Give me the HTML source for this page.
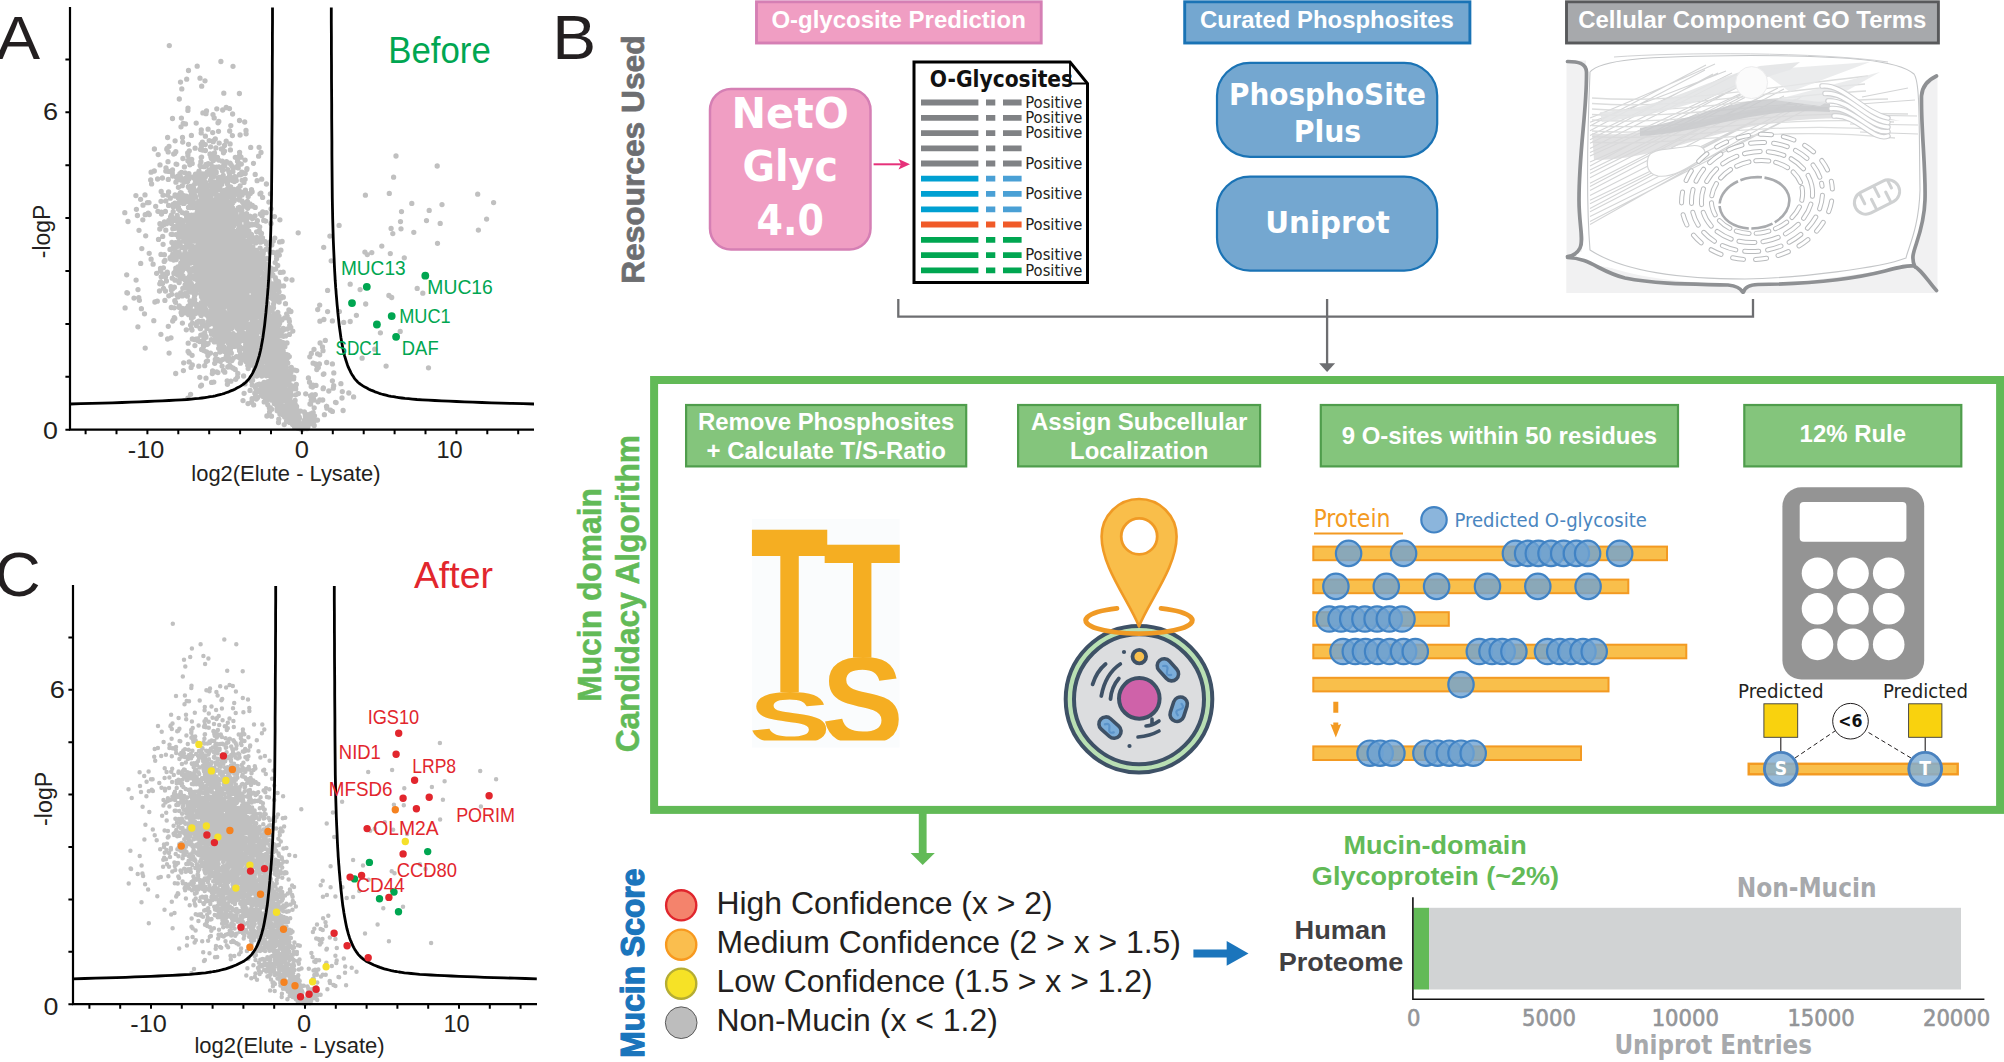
<!DOCTYPE html>
<html><head><meta charset="utf-8"><title>Mucin domain candidacy algorithm</title>
<style>html,body{margin:0;padding:0;background:#fff}svg{display:block;font-family:"Liberation Sans", sans-serif}</style></head>
<body><svg width="2004" height="1062" viewBox="0 0 2004 1062">
<rect width="2004" height="1062" fill="#fff"/>
<g id="panelA">
<clipPath id="cp429"><rect x="70" y="7" width="464" height="425.7"/></clipPath>
<path d="M266.0 249.3h0M209.3 170.5h0M222.4 170.8h0M232.3 322.3h0M200.8 181.1h0M221.6 244.2h0M221.5 249.4h0M175.5 302.3h0M248.3 217.2h0M237.3 267.7h0M205.1 261.5h0M217.1 325.7h0M234.8 253.8h0M214.7 265.1h0M215.2 239.6h0M183.4 294.6h0M236.1 314.0h0M224.8 241.0h0M228.8 288.7h0M181.5 172.3h0M264.9 295.6h0M225.6 220.7h0M211.4 232.1h0M274.9 354.7h0M220.4 361.3h0M183.5 247.3h0M210.9 243.8h0M161.5 214.0h0M249.1 315.1h0M210.6 242.1h0M202.1 297.8h0M249.7 352.8h0M178.2 268.7h0M235.6 249.3h0M167.3 272.1h0M204.2 217.2h0M189.9 164.8h0M260.0 344.1h0M267.9 381.6h0M212.9 320.9h0M243.6 256.9h0M216.8 108.8h0M236.5 235.4h0M201.8 278.7h0M176.7 217.3h0M174.2 307.8h0M231.6 228.2h0M280.6 341.7h0M228.6 271.8h0M207.8 261.5h0M271.8 244.9h0M227.8 255.2h0M224.2 270.9h0M228.2 242.9h0M218.1 197.8h0M213.4 230.1h0M183.9 195.6h0M234.7 282.1h0M219.1 305.2h0M252.9 295.9h0M211.9 269.1h0M171.5 223.6h0M218.9 263.3h0M266.2 212.7h0M211.5 252.5h0M198.2 290.1h0M190.2 216.3h0M194.0 277.7h0M213.7 186.2h0M190.6 240.8h0M260.9 279.7h0M214.1 275.1h0M224.4 263.6h0M259.3 384.2h0M261.0 152.5h0M216.0 189.6h0M230.3 231.9h0M240.9 272.3h0M216.5 224.3h0M174.9 203.2h0M238.8 199.5h0M245.1 214.1h0M232.5 224.9h0M197.3 322.0h0M216.4 217.0h0M206.0 378.2h0M213.7 306.7h0M255.6 269.4h0M261.7 329.2h0M239.1 319.9h0M236.0 213.4h0M239.3 197.9h0M221.2 331.0h0M219.6 212.7h0M203.9 291.4h0M220.1 290.0h0M280.9 250.2h0M244.4 304.8h0M212.6 279.6h0M209.2 315.8h0M198.9 241.1h0M231.4 285.1h0M231.8 281.2h0M183.7 225.7h0M234.3 346.4h0M206.6 298.3h0M259.0 359.4h0M225.7 276.0h0M266.7 351.0h0M209.5 207.3h0M214.0 223.9h0M229.4 312.6h0M249.3 265.9h0M236.4 248.1h0M189.2 246.0h0M226.4 190.3h0M222.1 263.4h0M210.3 274.4h0M204.5 231.7h0M267.5 249.0h0M211.3 339.7h0M199.3 265.4h0M238.3 222.7h0M225.0 231.9h0M219.6 184.4h0M242.1 195.1h0M234.4 181.6h0M231.1 225.5h0M246.9 294.9h0M229.0 298.6h0M205.4 240.8h0M212.0 303.7h0M207.9 277.3h0M227.1 209.3h0M193.2 203.8h0M173.4 246.5h0M223.9 292.3h0M186.5 295.4h0M170.3 171.3h0M231.4 178.1h0M202.9 348.4h0M234.6 251.8h0M207.6 300.6h0M192.1 241.1h0M188.9 179.0h0M208.0 321.7h0M214.4 276.1h0M199.9 322.1h0M214.2 283.6h0M181.2 193.0h0M221.9 254.1h0M174.4 287.2h0M216.5 223.2h0M239.9 277.9h0M250.2 336.4h0M266.6 244.0h0M180.7 219.6h0M241.5 278.7h0M253.2 329.4h0M247.3 270.8h0M197.2 212.4h0M232.4 293.0h0M270.4 276.1h0M182.2 259.2h0M234.1 283.4h0M250.8 270.0h0M203.3 292.5h0M236.9 328.0h0M193.4 185.6h0M200.2 273.0h0M200.1 237.7h0M226.6 246.9h0M219.2 259.2h0M246.6 335.0h0M196.9 237.1h0M218.1 240.9h0M246.8 222.1h0M236.3 259.6h0M186.8 239.0h0M239.0 228.5h0M209.0 236.8h0M231.7 289.2h0M229.5 334.3h0M253.6 270.0h0M224.6 358.9h0M172.9 288.6h0M185.6 286.8h0M240.8 302.6h0M214.8 259.3h0M251.4 254.3h0M228.7 259.8h0M201.9 250.8h0M250.0 288.2h0M200.4 328.7h0M167.6 339.0h0M275.8 338.5h0M171.4 290.1h0M238.3 241.4h0M246.2 192.9h0M225.4 257.3h0M177.3 251.8h0M248.2 349.4h0M183.7 362.8h0M186.3 256.8h0M212.1 323.7h0M242.3 332.1h0M229.4 277.0h0M242.9 318.7h0M209.9 274.8h0M217.0 338.4h0M191.7 199.4h0M213.2 156.2h0M237.1 278.4h0M213.7 305.9h0M234.0 324.2h0M206.5 227.8h0M206.0 282.1h0M222.6 233.3h0M216.4 295.0h0M237.1 239.5h0M226.2 217.9h0M267.3 347.4h0M215.8 203.8h0M215.6 194.3h0M194.2 290.0h0M222.2 267.1h0M239.5 174.5h0M202.1 313.9h0M220.3 207.6h0M240.4 254.5h0M218.2 253.7h0M207.9 355.5h0M247.1 278.5h0M224.1 311.1h0M232.0 261.4h0M252.3 311.4h0M251.6 224.2h0M212.4 256.1h0M207.8 226.9h0M229.0 222.5h0M218.1 275.5h0M171.7 294.3h0M255.1 312.2h0M222.1 247.5h0M240.9 313.5h0M190.8 197.4h0M255.4 304.4h0M206.1 281.2h0M218.7 255.1h0M184.8 231.2h0M217.2 265.4h0M215.5 233.1h0M216.7 248.3h0M233.1 308.0h0M223.1 179.8h0M247.2 343.0h0M209.3 279.3h0M195.4 259.3h0M221.1 217.6h0M238.1 254.4h0M254.3 261.0h0M242.9 312.0h0M175.2 273.4h0M231.5 327.7h0M259.9 295.3h0M223.2 175.3h0M208.0 211.6h0M229.7 249.7h0M208.3 271.1h0M238.3 207.9h0M221.2 251.0h0M258.1 292.8h0M234.7 243.2h0M202.5 241.0h0M237.4 377.1h0M246.1 276.4h0M206.6 352.0h0M210.4 266.4h0M161.0 201.3h0M245.3 305.7h0M206.1 233.2h0M165.8 230.2h0M175.1 140.8h0M215.7 274.7h0M241.5 248.4h0M219.2 317.4h0M234.0 273.0h0M192.6 227.4h0M186.3 196.2h0M244.8 276.4h0M234.5 251.3h0M220.8 225.2h0M255.2 371.8h0M196.6 238.8h0M210.5 300.1h0M248.5 351.0h0M269.8 322.6h0M221.8 292.2h0M265.7 322.2h0M205.7 300.9h0M230.2 294.5h0M217.0 282.5h0M179.8 245.1h0M228.3 242.1h0M246.1 257.8h0M217.7 228.9h0M219.7 267.4h0M258.1 351.4h0M188.7 201.2h0M182.2 212.6h0M204.4 207.0h0M190.1 239.3h0M256.9 337.4h0M229.7 249.2h0M198.9 262.3h0M205.4 150.5h0M296.7 370.6h0M205.5 275.2h0M201.5 221.0h0M229.6 194.4h0M238.3 293.6h0M227.4 256.9h0M197.7 338.8h0M191.1 217.6h0M237.2 261.8h0M220.1 241.0h0M178.4 242.1h0M252.3 205.3h0M241.9 340.6h0M215.2 288.3h0M214.7 244.2h0M227.6 246.6h0M203.5 275.9h0M186.1 259.5h0M230.0 245.8h0M183.8 231.8h0M231.8 282.9h0M183.7 220.9h0M219.0 242.5h0M218.0 237.9h0M268.4 285.3h0M193.6 188.4h0M184.4 199.4h0M204.6 268.4h0M192.0 285.1h0M206.1 247.0h0M232.6 114.0h0M241.8 210.3h0M265.1 316.3h0M202.2 334.7h0M290.9 390.9h0M273.6 299.5h0M216.2 240.0h0M161.4 212.2h0M219.4 344.9h0M223.5 271.8h0M161.2 191.5h0M223.5 309.4h0M216.3 299.2h0M200.9 161.7h0M238.0 243.1h0M248.0 328.9h0M208.8 299.5h0M227.6 210.0h0M204.4 248.6h0M200.9 294.1h0M223.6 278.1h0M235.3 223.7h0M206.8 242.3h0M163.4 267.8h0M236.9 294.9h0M179.6 197.2h0M224.8 372.2h0M268.3 311.6h0M221.1 195.4h0M190.3 228.6h0M183.2 123.5h0M252.3 253.9h0M221.1 256.6h0M235.7 379.3h0M245.9 286.8h0M220.3 278.1h0M213.5 295.0h0M196.7 257.4h0M140.6 199.3h0M181.7 311.6h0M219.7 286.0h0M217.0 335.9h0M232.2 319.8h0M218.2 218.1h0M225.7 242.8h0M242.3 257.1h0M198.3 230.6h0M214.0 279.4h0M179.3 231.1h0M247.1 245.4h0M222.6 335.5h0M234.4 337.4h0M262.1 295.6h0M249.9 237.1h0M220.0 232.9h0M242.2 243.0h0M184.0 203.4h0M233.0 226.8h0M225.2 275.2h0M179.1 255.5h0M256.7 310.0h0M203.1 210.7h0M239.5 288.2h0M210.5 353.1h0M247.7 291.6h0M256.0 270.9h0M199.8 377.3h0M181.4 257.4h0M218.1 231.8h0M243.9 321.4h0M211.8 224.7h0M205.4 235.8h0M234.4 320.8h0M149.0 202.6h0M204.1 188.3h0M185.2 280.1h0M229.3 309.1h0M202.2 191.9h0M192.3 230.1h0M212.3 312.2h0M183.0 255.0h0M221.2 304.4h0M203.6 245.3h0M211.6 228.3h0M202.7 226.7h0M245.5 264.9h0M218.7 268.9h0M235.3 157.3h0M234.2 189.3h0M200.4 250.2h0M236.5 306.3h0M230.7 239.3h0M229.8 267.1h0M211.1 210.0h0M210.3 196.9h0M242.2 284.3h0M278.9 316.9h0M199.8 227.8h0M235.6 216.4h0M211.9 259.9h0M242.2 272.6h0M233.1 257.8h0M249.4 276.3h0M148.2 213.2h0M205.8 280.4h0M195.6 268.8h0M218.7 348.3h0M202.5 323.5h0M204.7 249.2h0M239.5 222.0h0M271.5 337.4h0M147.4 202.7h0M213.4 333.4h0M229.8 203.8h0M221.7 242.2h0M212.5 333.5h0M186.0 242.5h0M196.8 285.6h0M240.6 307.4h0M249.8 260.8h0M224.1 305.4h0M199.6 211.7h0M224.1 247.7h0M215.3 359.5h0M235.9 261.5h0M224.7 281.3h0M205.2 206.0h0M226.6 331.0h0M190.6 205.2h0M243.1 244.2h0M252.6 258.6h0M190.6 204.0h0M232.6 207.9h0M195.5 233.2h0M249.7 260.3h0M245.3 271.8h0M215.5 214.8h0M247.7 241.2h0M210.2 239.1h0M204.7 249.5h0M206.6 212.0h0M217.9 254.9h0M213.1 244.0h0M225.6 315.7h0M205.4 283.4h0M241.6 298.7h0M248.4 329.0h0M208.5 225.0h0M184.1 310.7h0M240.6 281.4h0M251.5 261.2h0M217.3 277.5h0M187.8 196.8h0M228.6 350.4h0M261.6 304.7h0M172.3 172.9h0M234.1 220.6h0M213.3 232.8h0M199.1 223.3h0M234.6 290.8h0M187.4 287.9h0M229.4 316.0h0M256.1 313.1h0M226.2 223.0h0M198.5 304.8h0M174.8 300.7h0M187.9 160.7h0M173.2 211.6h0M263.6 279.9h0M215.0 222.5h0M194.1 298.7h0M187.5 265.5h0M193.5 246.8h0M212.7 202.8h0M187.9 155.6h0M265.6 259.1h0M201.9 213.1h0M201.0 209.6h0M229.6 175.7h0M259.7 226.8h0M256.3 267.9h0M208.7 268.2h0M228.3 240.2h0M225.5 250.4h0M235.5 263.7h0M228.3 258.9h0M196.8 307.1h0M188.5 207.4h0M226.2 271.0h0M190.5 186.5h0M257.4 343.2h0M222.6 296.2h0M194.6 295.5h0M213.1 258.3h0M208.2 244.9h0M218.1 202.6h0M246.4 291.6h0M183.6 309.8h0M172.5 118.5h0M230.4 349.6h0M216.9 221.0h0M225.8 285.4h0M233.2 231.8h0M216.8 248.4h0M242.6 314.3h0M198.1 237.4h0M223.3 348.4h0M199.7 247.9h0M191.9 276.9h0M237.7 243.5h0M236.5 247.2h0M170.6 216.9h0M192.1 269.3h0M229.2 345.5h0M249.7 280.3h0M204.1 194.8h0M216.7 229.6h0M184.4 182.0h0M287.5 358.0h0M234.0 267.4h0M245.1 230.7h0M238.8 254.9h0M246.1 323.2h0M237.5 292.7h0M212.8 229.1h0M241.1 310.3h0M223.6 279.9h0M255.6 262.3h0M202.2 257.1h0M207.3 344.3h0M238.9 224.5h0M255.2 334.7h0M225.4 254.4h0M202.8 281.3h0M218.4 277.2h0M208.5 265.5h0M271.4 298.0h0M245.2 274.8h0M254.8 318.0h0M229.5 287.1h0M207.0 189.0h0M252.4 304.8h0M265.0 356.8h0M236.8 314.4h0M220.9 268.7h0M250.0 204.0h0M211.8 283.7h0M241.6 306.2h0M202.9 323.5h0M196.1 204.7h0M236.4 258.2h0M230.4 241.8h0M271.6 293.8h0M214.2 181.8h0M222.2 238.8h0M191.6 224.3h0M172.5 218.5h0M174.8 318.5h0M233.7 239.8h0M190.7 223.0h0M251.2 335.7h0M258.9 265.0h0M214.1 315.6h0M265.1 317.5h0M227.5 235.3h0M251.1 250.9h0M215.6 261.1h0M246.8 267.6h0M196.8 249.1h0M237.9 244.8h0M209.5 281.7h0M218.1 227.5h0M238.2 249.3h0M226.1 252.6h0M219.6 203.9h0M240.7 257.4h0M242.7 263.5h0M185.2 178.4h0M236.2 192.8h0M239.2 331.8h0M201.8 235.1h0M231.7 257.8h0M186.8 212.9h0M259.4 361.7h0M215.3 244.8h0M219.5 181.5h0M253.0 306.0h0M217.8 214.4h0M237.3 290.3h0M194.1 237.0h0M206.6 315.1h0M185.0 264.1h0M216.1 238.3h0M248.6 347.1h0M227.4 384.3h0M244.8 252.1h0M194.6 300.9h0M198.4 265.1h0M209.3 274.6h0M236.6 216.4h0M230.9 223.2h0M221.2 330.3h0M237.9 276.7h0M217.6 233.2h0M221.0 347.8h0M255.8 344.8h0M206.2 288.5h0M226.4 220.3h0M263.9 293.4h0M224.2 334.9h0M240.1 186.0h0M205.6 182.4h0M272.9 274.8h0M162.5 283.4h0M191.8 254.9h0M193.9 268.9h0M264.1 304.3h0M230.8 269.5h0M214.7 317.3h0M187.9 398.1h0M231.1 289.3h0M224.6 327.9h0M203.4 229.8h0M182.4 323.1h0M192.6 248.4h0M227.2 271.6h0M229.7 244.4h0M223.5 227.7h0M217.6 233.2h0M175.1 194.8h0M222.8 204.9h0M194.4 339.6h0M222.7 283.1h0M233.8 318.2h0M203.8 276.2h0M194.7 184.1h0M247.7 279.3h0M230.8 227.2h0M204.8 215.3h0M142.8 219.8h0M220.3 266.8h0M238.1 274.7h0M251.0 287.4h0M203.8 236.4h0M204.7 250.9h0M209.9 318.1h0M243.6 376.0h0M190.7 302.9h0M218.6 247.3h0M197.2 267.0h0M228.6 313.8h0M180.7 292.9h0M231.4 328.5h0M208.5 317.0h0M215.7 277.1h0M235.4 255.9h0M251.6 216.8h0M177.0 294.9h0M247.9 310.1h0M236.2 232.3h0M213.8 254.6h0M258.4 271.5h0M226.5 242.9h0M255.5 367.4h0M206.0 234.3h0M198.8 366.2h0M253.7 277.3h0M278.4 287.9h0M238.2 276.5h0M245.0 383.9h0M209.1 244.5h0M186.8 268.4h0M215.6 158.3h0M261.0 320.7h0M172.7 176.0h0M208.6 245.5h0M171.3 307.5h0M224.4 249.0h0M244.5 312.0h0M188.9 231.5h0M210.8 237.5h0M256.4 299.9h0M219.2 314.2h0M189.0 246.4h0M187.0 239.3h0M168.6 192.0h0M241.9 200.9h0M202.0 254.1h0M249.2 270.6h0M244.3 288.3h0M204.2 304.1h0M207.7 294.3h0M242.0 235.2h0M225.5 274.0h0M228.6 277.2h0M178.3 226.0h0M245.1 179.3h0M198.6 211.2h0M162.0 226.1h0M205.4 289.4h0M232.6 251.6h0M276.6 255.8h0M211.8 323.6h0M186.6 237.9h0M277.3 295.4h0M225.8 288.4h0M214.7 290.5h0M193.3 238.9h0M195.2 218.3h0M260.4 265.6h0M214.5 295.6h0M207.4 243.2h0M208.2 276.3h0M262.7 211.8h0M206.1 227.3h0M238.1 252.1h0M228.6 241.5h0M227.8 178.1h0M198.5 225.4h0M238.9 347.8h0M263.8 308.1h0M220.2 233.6h0M197.4 213.2h0M187.6 181.5h0M226.6 271.8h0M214.4 219.2h0M218.8 238.2h0M221.9 304.1h0M182.8 288.3h0M242.1 303.4h0M227.7 190.0h0M219.6 231.4h0M227.6 322.0h0M245.9 224.2h0M223.0 323.0h0M199.2 243.1h0M252.2 328.1h0M210.2 232.2h0M202.5 196.2h0M180.5 192.6h0M221.8 332.1h0M194.0 228.0h0M207.9 196.4h0M233.4 307.0h0M222.4 191.1h0M248.3 269.0h0M229.6 279.2h0M211.0 265.6h0M212.9 273.7h0M208.2 244.7h0M238.5 163.0h0M222.1 269.2h0M210.8 247.9h0M243.8 263.5h0M224.1 283.7h0M209.3 290.3h0M181.8 247.4h0M233.1 340.3h0M227.8 367.0h0M222.9 271.9h0M210.2 234.7h0M199.7 188.9h0M215.6 283.4h0M227.6 184.3h0M218.2 340.8h0M217.8 305.7h0M209.3 226.7h0M230.5 297.8h0M227.7 223.0h0M201.8 198.2h0M241.5 309.9h0M242.3 227.7h0M242.9 283.7h0M218.1 248.4h0M216.5 334.2h0M191.1 256.9h0M241.4 349.0h0M165.5 277.0h0M211.3 217.4h0M212.6 201.1h0M244.0 182.4h0M221.5 257.2h0M196.2 123.1h0M184.1 201.9h0M202.4 142.1h0M224.4 231.2h0M223.0 294.2h0M216.4 215.4h0M203.6 222.2h0M216.0 233.0h0M247.8 288.6h0M192.7 177.2h0M222.4 261.3h0M264.1 287.6h0M236.1 221.6h0M209.6 206.8h0M238.9 329.7h0M201.8 283.4h0M221.7 278.1h0M262.4 255.1h0M271.3 287.7h0M176.7 177.7h0M239.9 193.3h0M272.7 284.7h0M207.2 221.6h0M228.4 206.6h0M261.1 237.1h0M208.6 267.1h0M233.4 243.3h0M220.0 186.8h0M171.0 337.8h0M230.7 186.9h0M216.7 262.8h0M245.9 230.3h0M276.5 341.9h0M239.5 270.1h0M211.9 303.2h0M233.4 259.6h0M226.9 226.2h0M248.4 346.6h0M183.8 233.3h0M190.9 230.0h0M167.8 223.0h0M237.5 235.0h0M221.1 272.8h0M204.7 332.9h0M202.5 323.0h0M206.5 261.8h0M197.2 276.2h0M213.1 289.6h0M208.6 220.4h0M258.1 356.3h0M230.1 272.9h0M200.1 165.4h0M206.2 279.0h0M253.1 240.7h0M233.4 277.9h0M229.3 295.2h0M240.5 254.8h0M263.2 303.5h0M189.6 310.1h0M202.0 185.1h0M175.8 151.7h0M234.6 258.1h0M211.6 238.6h0M203.9 350.6h0M201.5 296.7h0M239.7 294.3h0M217.8 248.0h0M207.6 163.9h0M254.5 224.5h0M194.1 226.0h0M188.4 246.3h0M289.7 325.5h0M211.9 253.5h0M207.3 283.2h0M202.5 213.4h0M218.0 233.9h0M242.1 227.7h0M241.3 329.6h0M235.8 177.5h0M214.2 281.2h0M182.4 275.4h0M229.0 172.1h0M261.5 267.1h0M249.6 329.5h0M217.1 212.8h0M242.6 244.3h0M211.4 245.9h0M220.1 321.3h0M189.1 269.7h0M213.3 219.7h0M225.3 197.3h0M217.1 186.6h0M241.8 284.3h0M271.0 208.8h0M256.3 256.7h0M213.6 279.6h0M202.4 191.4h0M204.4 229.9h0M195.9 234.7h0M222.5 293.0h0M232.6 203.1h0M226.4 258.9h0M226.6 253.8h0M225.7 259.9h0M218.1 183.8h0M202.1 268.7h0M266.9 258.3h0M249.1 268.6h0M197.7 204.0h0M197.8 340.4h0M206.2 246.7h0M222.4 359.6h0M254.6 252.8h0M248.2 261.2h0M249.6 347.1h0M250.1 259.3h0M250.6 297.2h0M240.9 325.7h0M233.5 245.5h0M218.4 222.8h0M175.8 220.4h0M218.2 304.5h0M268.9 316.9h0M207.4 313.2h0M205.1 233.0h0M248.3 253.2h0M223.7 206.8h0M209.0 233.5h0M262.5 263.5h0M238.0 259.5h0M241.5 227.7h0M206.7 214.7h0M234.6 249.0h0M231.4 310.1h0M242.0 253.7h0M251.7 252.4h0M251.1 327.6h0M226.0 325.8h0M239.7 253.4h0M191.5 226.8h0M238.5 188.2h0M239.5 199.9h0M211.3 245.5h0M201.2 315.4h0M220.0 346.1h0M189.7 280.8h0M230.5 238.9h0M229.3 285.0h0M196.6 177.6h0M222.8 250.9h0M249.6 224.9h0M249.5 274.5h0M248.1 344.6h0M217.6 359.4h0M212.7 258.9h0M211.3 268.2h0M237.1 194.0h0M283.3 297.2h0M258.5 356.7h0M263.2 345.6h0M257.0 323.9h0M179.2 256.3h0M216.3 335.4h0M210.2 236.4h0M254.4 271.3h0M265.9 401.8h0M204.1 207.6h0M222.6 277.6h0M236.2 247.8h0M208.7 324.8h0M205.1 233.4h0M203.8 229.3h0M244.8 257.4h0M197.7 283.9h0M251.4 234.3h0M223.8 192.2h0M241.3 262.5h0M262.1 273.2h0M204.0 272.4h0M200.1 227.4h0M232.8 235.6h0M194.5 254.1h0M202.4 265.6h0M218.6 305.7h0M225.7 259.1h0M188.9 159.4h0M211.5 246.0h0M236.9 264.4h0M256.8 277.8h0M170.1 257.7h0M255.8 269.1h0M244.7 327.4h0M193.1 226.5h0M183.0 309.2h0M232.5 214.0h0M210.6 146.8h0M225.1 215.3h0M244.1 393.3h0M211.8 237.3h0M225.8 251.9h0M234.0 275.8h0M244.8 252.9h0M267.7 307.8h0M266.1 298.3h0M227.9 360.4h0M215.4 313.9h0M283.6 336.1h0M238.3 302.3h0M232.7 293.6h0M192.8 193.3h0M241.9 326.5h0M201.3 216.6h0M209.6 290.1h0M186.7 243.8h0M208.0 295.6h0M223.2 329.8h0M182.4 266.9h0M198.2 221.8h0M219.5 240.4h0M188.6 268.4h0M188.8 220.4h0M199.8 226.9h0M184.8 231.3h0M237.6 250.9h0M195.6 269.3h0M241.7 250.2h0M245.7 276.6h0M190.2 207.6h0M222.6 181.8h0M209.0 290.6h0M191.8 292.2h0M212.8 228.8h0M215.3 294.3h0M240.2 284.0h0M248.4 226.1h0M192.8 303.5h0M210.9 163.9h0M235.4 262.2h0M252.4 315.8h0M157.6 179.0h0M255.0 359.2h0M217.2 227.8h0M261.7 350.1h0M210.5 241.1h0M199.8 280.7h0M222.7 254.1h0M252.2 385.1h0M222.4 278.1h0M159.8 283.8h0M239.5 306.4h0M179.4 245.6h0M195.9 231.8h0M191.1 262.7h0M173.4 287.5h0M188.7 289.1h0M195.7 272.7h0M205.5 242.2h0M220.2 294.2h0M212.8 209.9h0M182.7 236.8h0M216.8 167.1h0M247.1 247.3h0M246.5 268.8h0M225.1 199.6h0M237.8 220.1h0M245.0 323.4h0M257.3 312.5h0M266.1 350.0h0M213.1 315.6h0M214.4 288.9h0M260.2 330.6h0M262.6 308.2h0M262.0 354.7h0M160.0 164.9h0M215.8 247.7h0M136.1 280.1h0M240.7 316.5h0M223.0 263.4h0M222.9 245.6h0M217.9 302.0h0M255.8 278.5h0M213.9 206.5h0M248.7 338.3h0M236.1 252.5h0M230.9 275.0h0M233.7 197.9h0M224.5 151.1h0M192.8 268.7h0M240.4 354.7h0M240.3 174.8h0M217.8 234.6h0M240.8 302.0h0M245.2 286.0h0M187.9 245.1h0M217.8 255.1h0M209.9 211.0h0M197.8 305.5h0M230.0 315.4h0M199.4 267.0h0M210.2 154.0h0M228.0 348.4h0M230.7 262.2h0M230.0 292.7h0M280.2 394.8h0M208.3 321.1h0M228.1 259.0h0M189.9 300.8h0M234.2 299.4h0M251.9 257.4h0M253.4 290.5h0M204.9 174.0h0M214.2 187.5h0M254.7 295.0h0M219.1 331.7h0M246.7 235.9h0M196.0 310.3h0M257.9 296.2h0M248.5 365.7h0M233.7 251.9h0M200.6 386.1h0M217.4 281.5h0M225.5 251.5h0M228.5 277.6h0M218.8 179.3h0M215.8 275.1h0M226.6 248.8h0M258.2 315.0h0M168.8 220.3h0M185.5 123.9h0M181.0 126.8h0M203.5 220.9h0M175.9 182.2h0M236.1 315.2h0M224.1 214.3h0M214.9 279.1h0M203.7 241.5h0M225.7 341.1h0M226.2 266.4h0M230.2 274.9h0M202.4 204.5h0M238.6 290.2h0M183.0 276.0h0M254.4 278.7h0M140.7 263.4h0M206.0 205.0h0M190.0 232.4h0M242.3 294.6h0M182.6 225.2h0M269.4 359.9h0M181.0 273.6h0M274.8 285.0h0M233.3 226.4h0M222.4 258.1h0M233.0 234.9h0M279.1 302.0h0M245.0 227.5h0M162.9 274.0h0M252.9 291.3h0M227.6 278.4h0M179.1 282.5h0M241.5 174.3h0M189.8 243.8h0M226.3 250.8h0M227.7 298.8h0M204.5 276.6h0M238.6 297.9h0M194.7 314.0h0M226.6 181.5h0M207.2 204.6h0M216.8 320.0h0M272.1 371.2h0M224.5 225.4h0M193.0 304.2h0M218.5 303.5h0M201.4 188.6h0M222.3 232.9h0M225.8 279.2h0M223.8 256.5h0M223.8 351.3h0M207.3 283.3h0M233.4 313.8h0M249.3 251.3h0M205.3 196.7h0M220.0 231.4h0M223.2 333.0h0M254.5 371.0h0M249.9 245.3h0M202.4 241.7h0M223.5 152.8h0M182.3 308.4h0M196.2 190.8h0M222.0 306.4h0M238.1 335.9h0M246.6 220.1h0M213.4 216.2h0M186.0 279.6h0M232.0 335.9h0M217.0 233.0h0M232.7 221.0h0M225.8 279.5h0M240.4 336.4h0M238.8 223.0h0M243.7 240.5h0M209.5 313.5h0M247.7 287.8h0M208.3 215.4h0M223.8 259.4h0M270.4 326.9h0M230.9 318.4h0M190.9 258.3h0M260.7 289.4h0M247.8 206.0h0M251.5 308.9h0M226.7 288.9h0M230.6 274.8h0M215.4 255.2h0M203.2 254.4h0M261.7 339.3h0M211.9 236.4h0M208.9 199.1h0M209.9 299.9h0M270.5 287.3h0M244.6 262.4h0M211.9 275.7h0M220.4 246.2h0M235.0 263.6h0M244.6 227.0h0M179.3 307.6h0M245.3 218.2h0M215.8 324.1h0M203.5 193.6h0M211.3 221.5h0M242.4 254.5h0M267.7 342.0h0M225.4 270.8h0M236.2 247.9h0M200.2 192.7h0M234.5 318.8h0M243.2 274.4h0M182.5 261.1h0M208.1 241.9h0M242.3 250.9h0M175.4 271.7h0M211.7 267.9h0M237.3 327.7h0M177.2 246.6h0M211.1 191.3h0M223.0 299.7h0M244.9 276.9h0M188.0 230.5h0M250.7 147.4h0M229.6 226.2h0M253.0 290.4h0M252.1 254.6h0M230.5 277.1h0M234.3 298.1h0M175.9 234.6h0M186.1 199.5h0M195.2 267.3h0M212.4 272.1h0M246.1 264.9h0M174.7 153.6h0M213.2 199.9h0M186.9 283.6h0M180.6 226.1h0M260.4 213.9h0M224.1 251.2h0M264.5 296.3h0M252.7 314.4h0M197.4 268.1h0M172.8 254.7h0M275.9 279.9h0M210.9 179.5h0M191.5 215.2h0M239.7 339.8h0M225.1 194.9h0M203.9 295.7h0M212.5 187.7h0M225.8 204.2h0M223.5 263.4h0M241.4 236.2h0M212.3 241.0h0M212.5 202.4h0M237.3 274.1h0M229.8 307.3h0M250.3 216.5h0M215.0 282.1h0M219.0 275.1h0M191.2 283.5h0M260.9 193.1h0M185.0 286.7h0M226.9 210.7h0M198.1 233.1h0M230.4 243.3h0M241.1 227.0h0M178.5 198.2h0M216.0 222.0h0M175.4 242.7h0M258.4 323.0h0M209.9 236.9h0M180.2 278.3h0M203.1 253.6h0M256.0 340.7h0M260.6 233.0h0M254.9 289.2h0M201.0 242.9h0M217.6 260.4h0M264.5 310.5h0M202.3 288.8h0M212.8 258.2h0M196.5 270.5h0M191.0 227.9h0M253.2 274.1h0M238.1 240.8h0M233.4 319.8h0M236.8 307.3h0M248.4 340.3h0M261.2 269.6h0M221.4 248.3h0M212.6 370.8h0M194.7 299.4h0M250.0 216.3h0M208.0 287.7h0M182.3 254.8h0M214.5 237.4h0M222.2 244.6h0M243.4 235.8h0M247.9 253.3h0M202.4 212.6h0M200.5 194.8h0M212.9 234.6h0M189.7 201.9h0M218.7 292.2h0M233.7 317.8h0M222.7 250.0h0M179.2 220.5h0M190.3 274.0h0M255.3 277.3h0M194.9 345.6h0M241.0 157.2h0M238.2 167.9h0M213.1 204.2h0M195.4 267.5h0M227.1 300.6h0M198.3 223.3h0M216.9 253.8h0M224.3 245.5h0M202.7 271.9h0M215.6 354.5h0M213.5 154.5h0M189.1 353.0h0M216.6 309.4h0M204.8 233.8h0M173.6 260.1h0M212.7 250.1h0M214.1 277.7h0M205.7 273.2h0M167.4 273.5h0M241.9 228.6h0M239.5 301.1h0M238.6 240.6h0M230.1 249.5h0M188.5 282.8h0M224.8 240.0h0M197.2 259.9h0M279.0 331.7h0M207.9 254.2h0M239.1 217.3h0M180.8 263.2h0M190.6 250.6h0M207.5 360.8h0M240.0 225.8h0M235.9 321.9h0M229.1 244.1h0M172.9 220.8h0M251.3 362.4h0M197.2 238.4h0M264.0 333.7h0M270.6 308.7h0M243.3 234.7h0M247.5 267.2h0M188.4 221.7h0M289.4 334.4h0M227.3 354.8h0M247.8 301.4h0M199.0 171.2h0M219.9 352.0h0M190.4 262.1h0M215.3 302.1h0M222.0 338.9h0M228.3 227.1h0M258.2 304.5h0M234.2 259.9h0M228.0 247.0h0M222.6 245.5h0M274.4 313.9h0M206.4 311.9h0M252.8 322.0h0M170.0 249.4h0M198.5 310.3h0M232.3 166.3h0M217.3 257.4h0M300.5 411.1h0M289.3 356.6h0M181.7 314.6h0M193.4 252.9h0M217.8 328.3h0M267.3 291.3h0M251.4 317.0h0M230.2 269.7h0M184.4 228.9h0M199.4 274.9h0M151.1 259.2h0M181.2 200.1h0M232.8 316.0h0M242.4 262.0h0M187.4 246.6h0M224.5 145.5h0M264.4 293.8h0M226.0 179.7h0M213.6 300.5h0M237.8 236.6h0M235.5 249.2h0M223.8 252.3h0M207.6 193.9h0M210.5 253.7h0M224.1 207.9h0M207.3 241.4h0M256.7 330.2h0M245.2 340.7h0M250.3 351.3h0M275.0 301.2h0M263.2 253.9h0M258.9 314.0h0M231.4 344.7h0M216.6 218.2h0M282.1 380.7h0M204.0 242.7h0M205.4 136.2h0M198.8 249.9h0M227.3 356.3h0M232.7 304.2h0M248.7 333.3h0M215.8 276.9h0M176.1 164.1h0M230.0 163.2h0M247.2 232.3h0M222.5 242.5h0M218.2 213.4h0M236.4 234.2h0M259.3 328.8h0M219.9 333.7h0M184.4 166.9h0M206.8 204.5h0M217.3 251.4h0M174.4 226.7h0M241.9 172.1h0M201.5 385.2h0M235.0 304.9h0M226.7 281.0h0M213.5 171.1h0M264.4 310.2h0M206.9 199.7h0M204.0 276.5h0M229.3 279.2h0M243.7 276.0h0M221.5 281.7h0M195.8 219.6h0M239.8 280.1h0M237.5 166.2h0M276.1 347.2h0M215.8 246.8h0M227.2 380.8h0M206.7 255.6h0M182.5 137.5h0M223.6 339.0h0M243.9 243.1h0M195.0 195.6h0M203.8 246.3h0M190.7 311.6h0M256.8 376.0h0M204.9 232.3h0M236.8 280.1h0M198.9 258.3h0M223.5 231.5h0M205.1 227.3h0M159.9 223.7h0M223.6 256.6h0M235.4 323.3h0M166.8 149.2h0M217.0 281.3h0M210.2 272.1h0M193.2 317.1h0M215.0 237.6h0M170.6 217.6h0M228.1 267.7h0M252.7 258.0h0M188.4 215.3h0M219.8 228.3h0M259.0 260.4h0M224.8 216.0h0M207.9 224.0h0M197.6 211.4h0M226.2 229.3h0M218.1 198.3h0M238.1 318.8h0M181.6 254.6h0M249.8 276.2h0M211.0 205.0h0M238.4 303.0h0M202.6 236.6h0M187.5 235.3h0M206.7 253.7h0M196.5 239.0h0M211.7 304.6h0M238.6 235.4h0M249.9 250.8h0M226.9 268.6h0M207.4 240.6h0M209.7 280.4h0M237.1 316.3h0M251.4 348.8h0M213.1 304.0h0M218.3 243.6h0M201.8 239.6h0M227.0 245.2h0M246.7 335.0h0M145.2 214.7h0M228.3 225.7h0M207.1 205.1h0M160.4 271.0h0M229.8 226.0h0M219.2 143.1h0M231.3 302.0h0M185.7 257.9h0M277.7 350.8h0M224.5 312.2h0M212.5 280.5h0M261.6 311.4h0M238.7 272.3h0M243.4 240.4h0M252.1 191.7h0M167.1 148.3h0M265.4 315.2h0M212.4 296.1h0M229.1 264.5h0M245.8 243.4h0M202.9 282.7h0M229.9 262.2h0M241.6 272.5h0M220.5 242.1h0M234.6 217.2h0M179.4 194.3h0M190.2 263.2h0M191.4 328.6h0M231.3 353.2h0M319.9 321.2h0M228.5 287.1h0M217.7 252.2h0M219.9 265.7h0M247.4 299.3h0M240.3 319.0h0M191.4 194.0h0M248.3 363.8h0M220.9 252.6h0M243.1 232.4h0M169.1 353.1h0M180.7 200.2h0M237.2 267.4h0M174.3 204.4h0M231.8 327.1h0M230.4 149.9h0M225.4 279.3h0M230.9 197.1h0M228.5 343.0h0M233.3 368.2h0M210.9 299.1h0M221.0 225.1h0M298.5 411.1h0M251.4 381.1h0M237.6 283.2h0M231.9 249.5h0M202.5 326.1h0M227.5 205.8h0M215.1 242.3h0M246.4 274.1h0M197.5 252.6h0M159.5 291.0h0M206.8 243.8h0M239.9 224.4h0M286.1 279.1h0M248.5 272.1h0M195.9 270.5h0M215.8 306.9h0M196.6 279.2h0M216.7 196.8h0M198.0 277.1h0M178.4 208.9h0M233.2 333.7h0M226.7 248.8h0M217.1 243.8h0M230.7 240.8h0M275.0 356.7h0M224.6 255.6h0M211.6 382.4h0M244.3 334.9h0M178.4 187.3h0M241.4 270.7h0M201.2 304.1h0M200.1 290.4h0M224.4 293.6h0M265.5 309.6h0M202.0 182.2h0M246.6 213.6h0M231.5 308.5h0M185.0 213.4h0M245.6 277.2h0M199.9 282.2h0M182.9 158.5h0M200.8 166.6h0M202.5 277.7h0M237.1 244.6h0M202.3 233.3h0M260.8 347.4h0M227.4 251.0h0M202.7 245.6h0M199.6 262.8h0M227.5 188.8h0M168.3 326.3h0M164.4 254.7h0M198.3 222.7h0M238.1 329.0h0M226.3 222.0h0M222.1 229.5h0M215.9 202.6h0M164.4 221.8h0M213.0 221.6h0M174.9 250.3h0M243.5 245.6h0M221.3 272.3h0M219.2 280.6h0M232.0 286.2h0M230.0 283.9h0M227.7 266.4h0M230.7 229.1h0M206.1 164.5h0M186.5 259.7h0M230.5 204.3h0M259.5 306.7h0M248.1 275.3h0M215.9 252.5h0M237.6 269.1h0M210.0 282.6h0M231.7 223.4h0M205.6 266.4h0M225.2 317.5h0M274.2 346.6h0M241.8 329.4h0M260.9 278.9h0M201.2 243.3h0M203.5 344.9h0M220.5 284.7h0M236.2 281.7h0M216.1 308.3h0M248.2 241.0h0M207.1 244.1h0M257.3 309.4h0M247.0 273.8h0M192.3 323.1h0M236.9 291.7h0M215.7 302.1h0M248.3 243.1h0M207.4 249.4h0M229.7 262.0h0M235.9 295.4h0M149.2 253.3h0M172.2 234.4h0M224.9 291.4h0M218.2 360.5h0M248.2 279.2h0M227.5 234.3h0M188.2 306.2h0M230.2 340.1h0M201.8 257.6h0M215.5 306.4h0M208.2 163.6h0M230.7 289.7h0M184.2 231.6h0M192.1 355.3h0M163.1 244.3h0M277.9 389.8h0M195.3 236.7h0M198.9 234.5h0M191.2 220.0h0M204.6 199.4h0M210.0 227.9h0M237.7 327.0h0M226.2 196.7h0M230.2 269.3h0M206.0 309.6h0M219.6 271.5h0M253.5 310.5h0M221.0 277.1h0M229.6 291.9h0M168.2 151.9h0M235.1 344.2h0M228.3 282.6h0M255.4 262.4h0M149.3 214.5h0M222.1 253.3h0M218.2 293.7h0M223.6 210.4h0M204.8 196.3h0M226.8 207.0h0M239.7 318.7h0M222.4 221.1h0M213.4 261.4h0M215.5 207.2h0M210.9 250.1h0M222.1 238.6h0M202.2 217.5h0M168.8 295.8h0M256.6 292.5h0M174.9 196.0h0M217.9 372.6h0M186.7 201.6h0M213.4 205.0h0M195.5 174.2h0M219.7 341.4h0M198.7 258.7h0M186.7 260.5h0M228.9 322.2h0M255.8 293.3h0M229.8 303.7h0M223.6 346.6h0M193.0 259.1h0M218.5 301.6h0M232.4 278.6h0M203.5 258.3h0M244.2 347.9h0M219.5 290.8h0M229.8 280.8h0M207.5 171.7h0M207.7 214.4h0M226.3 234.1h0M230.6 265.4h0M229.6 286.0h0M193.7 254.7h0M201.1 242.1h0M219.8 278.3h0M171.6 256.5h0M247.8 326.0h0M228.6 189.6h0M221.4 314.5h0M201.6 349.5h0M241.8 333.2h0M213.1 237.1h0M270.2 267.9h0M230.6 263.2h0M181.1 312.6h0M239.3 287.4h0M206.4 166.1h0M206.5 110.9h0M213.9 266.9h0M216.8 372.0h0M226.8 195.7h0M240.2 245.8h0M232.1 267.5h0M201.1 265.2h0M184.6 288.2h0M198.9 178.9h0M229.6 269.8h0M242.9 246.1h0M267.4 340.1h0M184.7 261.1h0M222.1 317.7h0M214.0 201.9h0M209.5 204.0h0M223.7 229.2h0M213.5 233.3h0M213.0 222.6h0M203.0 194.2h0M230.4 238.8h0M247.7 208.3h0M262.9 341.4h0M206.2 228.1h0M192.3 188.0h0M213.1 261.6h0M198.1 176.0h0M247.0 294.9h0M198.5 229.7h0M222.0 345.7h0M184.7 267.8h0M210.8 217.8h0M225.0 306.6h0M260.2 294.8h0M201.8 282.1h0M229.7 131.0h0M165.4 211.4h0M188.3 220.7h0M198.6 313.1h0M206.9 202.7h0M231.3 281.6h0M236.5 259.6h0M177.7 176.2h0M233.9 241.0h0M190.6 270.2h0M268.1 290.1h0M228.1 253.5h0M223.9 254.8h0M215.3 257.2h0M219.0 271.7h0M220.0 252.1h0M201.7 182.9h0M239.5 259.8h0M227.0 264.0h0M239.6 350.7h0M218.3 211.8h0M237.7 346.1h0M200.0 221.6h0M313.5 398.6h0M201.2 157.3h0M208.2 236.5h0M245.2 173.5h0M252.3 218.5h0M199.0 224.9h0M176.2 259.6h0M183.2 203.4h0M193.8 253.8h0M199.3 208.6h0M215.5 335.4h0M246.9 249.8h0M248.2 368.6h0M203.8 339.1h0M234.0 225.6h0M243.0 298.2h0M256.7 264.3h0M215.7 328.6h0M200.3 261.3h0M239.5 357.8h0M259.6 279.1h0M206.0 234.4h0M271.0 269.7h0M265.0 299.2h0M212.9 272.7h0M178.6 237.5h0M204.1 261.8h0M210.6 289.7h0M233.8 260.5h0M175.9 206.1h0M283.6 285.9h0M281.3 297.9h0M200.8 230.2h0M170.9 286.7h0M215.3 300.9h0M230.9 231.4h0M255.1 312.8h0M238.5 229.5h0M214.4 296.3h0M168.0 161.7h0M233.1 315.1h0M241.9 262.8h0M211.6 263.2h0M226.9 255.1h0M225.1 214.0h0M213.3 257.9h0M189.3 240.1h0M228.7 301.1h0M182.4 270.8h0M256.5 345.3h0M196.1 273.0h0M232.6 215.6h0M200.5 287.2h0M229.6 211.0h0M214.1 222.0h0M233.6 267.8h0M198.9 209.0h0M176.8 218.1h0M212.2 305.2h0M210.4 224.5h0M180.1 198.0h0M201.5 190.9h0M175.7 373.5h0M222.6 238.6h0M209.8 251.7h0M220.0 258.2h0M288.0 381.8h0M223.8 234.3h0M229.4 224.1h0M236.1 250.7h0M215.9 220.7h0M204.1 186.4h0M242.7 192.5h0M246.6 277.1h0M143.0 205.2h0M215.3 326.5h0M210.7 228.9h0M204.7 232.5h0M252.2 341.4h0M205.5 176.3h0M242.2 312.7h0M205.3 212.9h0M208.8 201.5h0M238.7 288.5h0M200.1 251.8h0M215.3 205.2h0M190.5 254.3h0M196.3 325.5h0M238.5 311.7h0M234.9 272.1h0M189.5 217.0h0M188.4 236.3h0M286.4 354.6h0M202.6 237.2h0M196.6 268.6h0M232.9 315.8h0M199.1 182.0h0M209.9 259.5h0M242.9 298.7h0M245.7 263.4h0M214.3 225.7h0M254.7 356.4h0M215.7 250.0h0M213.2 248.5h0M219.3 233.0h0M211.4 238.6h0M233.3 252.2h0M226.9 256.2h0M199.1 181.3h0M224.2 190.5h0M205.2 221.6h0M204.3 233.1h0M215.8 229.3h0M246.2 311.9h0M226.7 258.7h0M252.8 317.8h0M260.5 300.5h0M218.6 160.1h0M203.6 272.6h0M198.8 321.1h0M226.8 267.9h0M242.2 268.7h0M261.0 241.9h0M185.1 251.4h0M243.7 229.2h0M247.6 202.5h0M283.5 336.3h0M224.4 302.9h0M218.7 243.1h0M179.7 228.8h0M199.1 216.3h0M190.6 325.1h0M193.1 262.5h0M196.0 228.7h0M179.4 223.3h0M217.2 261.2h0M229.8 319.5h0M239.7 246.5h0M217.2 216.8h0M247.4 291.8h0M247.7 270.6h0M179.9 173.6h0M212.6 246.0h0M186.9 225.7h0M194.1 224.8h0M224.6 265.9h0M216.5 266.0h0M258.2 365.2h0M273.6 336.6h0M230.9 306.7h0M214.8 233.6h0M216.0 253.3h0M219.6 227.1h0M234.9 236.3h0M200.6 289.7h0M235.2 369.5h0M213.5 289.0h0M247.7 296.7h0M255.8 310.7h0M265.6 334.3h0M215.9 249.9h0M184.6 235.3h0M175.8 268.1h0M212.4 334.3h0M182.8 241.1h0M176.8 164.3h0M210.8 292.1h0M194.2 252.8h0M238.2 235.0h0M271.0 268.7h0M214.2 117.9h0M228.4 228.5h0M178.8 226.2h0M225.0 285.7h0M201.8 243.4h0M191.4 199.0h0M171.4 215.1h0M262.3 292.5h0M177.9 266.9h0M188.5 255.0h0M220.5 301.1h0M227.9 179.7h0M228.0 271.3h0M223.2 273.0h0M196.9 203.7h0M240.5 280.4h0M225.5 237.5h0M182.3 185.7h0M262.5 237.8h0M211.5 279.9h0M245.4 304.2h0M182.3 295.9h0M189.2 280.8h0M205.4 274.2h0M202.3 201.5h0M247.1 267.5h0M177.9 224.2h0M224.9 358.8h0M193.9 206.0h0M234.1 211.5h0M226.0 218.0h0M206.1 302.5h0M279.0 291.8h0M219.4 295.2h0M249.4 257.0h0M185.8 294.9h0M217.4 190.0h0M223.0 239.6h0M224.3 291.0h0M211.6 241.9h0M198.9 207.4h0M139.4 300.3h0M205.8 189.3h0M196.6 208.3h0M214.0 313.2h0M243.3 356.6h0M279.0 316.5h0M234.8 213.6h0M247.5 223.1h0M237.4 232.2h0M240.0 266.3h0M236.4 335.7h0M214.0 301.5h0M212.4 303.5h0M229.7 242.0h0M268.3 336.0h0M241.6 313.2h0M263.4 335.2h0M187.1 239.3h0M228.1 244.8h0M231.6 322.2h0M234.9 345.7h0M185.1 229.9h0M172.8 253.9h0M165.4 291.0h0M210.8 331.2h0M282.9 392.6h0M227.0 263.2h0M189.5 309.7h0M230.2 213.5h0M213.4 160.5h0M225.8 242.9h0M209.5 270.3h0M187.4 177.0h0M207.4 243.9h0M240.2 280.3h0M229.4 262.1h0M253.6 296.9h0M193.4 303.3h0M249.1 267.6h0M223.2 239.7h0M226.7 290.5h0M254.5 337.1h0M218.3 237.8h0M228.5 332.7h0M238.7 308.6h0M238.9 254.1h0M243.4 271.9h0M256.0 252.7h0M236.0 303.8h0M210.6 257.2h0M286.5 401.9h0M221.4 149.0h0M232.2 214.1h0M202.7 226.2h0M165.0 260.3h0M202.0 232.0h0M224.1 229.7h0M236.4 290.3h0M223.2 241.3h0M243.3 286.1h0M248.5 323.8h0M248.4 327.6h0M222.6 193.3h0M224.7 229.1h0M216.9 279.0h0M199.6 238.6h0M260.0 258.1h0M190.0 274.5h0M220.7 262.2h0M228.5 286.8h0M166.4 281.0h0M242.1 257.0h0M213.4 307.6h0M228.5 272.4h0M213.9 268.2h0M182.3 293.9h0M227.8 195.1h0M225.4 191.7h0M248.8 231.2h0M235.1 312.1h0M178.5 243.8h0M251.6 258.3h0M243.6 230.9h0M242.8 202.6h0M235.4 283.1h0M204.2 247.5h0M236.7 288.6h0M213.1 301.6h0M298.4 393.6h0M216.5 325.2h0M193.6 226.4h0M213.8 331.0h0M260.5 312.0h0M207.7 228.0h0M158.5 239.4h0M261.3 384.5h0M231.3 212.5h0M209.7 226.2h0M241.5 254.6h0M198.5 254.8h0M191.9 245.9h0M247.7 365.3h0M209.2 242.4h0M236.6 302.7h0M223.0 237.9h0M244.6 228.7h0M225.6 254.0h0M168.9 222.6h0M240.6 306.0h0M210.2 319.9h0M245.9 256.9h0M225.7 316.7h0M260.1 248.1h0M214.4 341.9h0M168.7 171.4h0M214.3 232.3h0M236.2 280.4h0M213.7 237.5h0M210.4 204.3h0M261.4 325.4h0M218.7 214.3h0M250.3 327.3h0M226.6 200.2h0M184.7 293.6h0M197.9 288.4h0M214.4 280.6h0M230.7 316.9h0M201.3 237.7h0M185.5 236.6h0M196.0 304.1h0M208.9 206.9h0M199.4 233.9h0M207.3 240.0h0M271.5 294.5h0M229.9 250.9h0M201.1 144.1h0M222.3 256.4h0M264.0 306.5h0M239.6 331.2h0M219.9 296.6h0M186.9 214.2h0M177.9 223.7h0M213.6 213.1h0M219.7 240.4h0M179.9 210.4h0M187.4 296.2h0M221.4 275.9h0M164.2 261.4h0M177.2 219.1h0M221.1 249.5h0M237.2 293.2h0M230.9 229.6h0M248.7 302.7h0M263.9 334.8h0M246.1 250.5h0M215.5 252.6h0M278.5 281.7h0M266.8 370.4h0M247.3 298.2h0M201.3 302.7h0M233.2 255.5h0M167.6 195.1h0M213.9 248.6h0M157.3 301.2h0M211.6 334.2h0M249.6 317.7h0M223.2 257.7h0M265.2 315.3h0M222.7 314.4h0M225.5 217.8h0M214.9 300.3h0M236.8 234.6h0M222.0 272.2h0M254.4 320.5h0M265.3 310.1h0M232.7 270.7h0M193.4 311.1h0M237.7 252.9h0M258.6 274.2h0M240.1 233.3h0M230.7 274.3h0M247.8 316.2h0M257.7 282.9h0M154.4 149.0h0M263.0 315.6h0M243.4 306.5h0M235.7 233.0h0M208.5 241.5h0M229.0 264.9h0M239.1 239.0h0M184.1 254.1h0M242.8 277.9h0M225.0 213.0h0M261.7 179.2h0M240.9 234.0h0M218.5 328.5h0M224.6 321.7h0M240.0 257.9h0M227.0 217.6h0M237.5 340.9h0M204.4 285.7h0M190.3 307.3h0M208.1 343.6h0M185.6 263.6h0M202.7 252.4h0M232.5 234.1h0M180.3 245.4h0M190.8 201.1h0M242.5 326.8h0M209.2 241.9h0M222.9 338.4h0M190.7 227.9h0M195.7 267.9h0M215.2 222.1h0M266.0 339.3h0M234.8 233.1h0M179.2 305.8h0M234.9 295.6h0M247.4 201.4h0M241.3 215.0h0M191.0 255.1h0M221.4 255.5h0M278.9 393.6h0M198.6 209.1h0M231.9 256.2h0M203.4 247.9h0M189.8 254.2h0M211.8 339.8h0M250.2 275.9h0M253.6 217.6h0M200.0 327.8h0M210.7 274.7h0M199.8 184.5h0M168.6 205.4h0M239.1 257.5h0M264.1 301.0h0M262.6 332.4h0M210.9 242.2h0M258.1 266.4h0M251.9 241.6h0M214.4 247.1h0M223.1 263.1h0M213.6 278.5h0M229.6 173.6h0M271.0 268.5h0M199.0 271.6h0M192.0 330.1h0M246.3 322.3h0M224.9 165.3h0M173.7 154.0h0M196.8 275.2h0M201.7 249.5h0M207.4 253.5h0M231.9 360.5h0M249.6 235.5h0M219.2 319.4h0M227.4 267.6h0M203.9 223.8h0M250.3 193.4h0M258.8 240.3h0M216.6 333.1h0M204.1 253.3h0M278.0 352.5h0M247.9 307.5h0M200.1 239.9h0M179.2 282.3h0M215.9 271.7h0M255.1 276.7h0M209.3 237.8h0M217.2 225.3h0M210.7 267.2h0M240.8 263.7h0M260.3 344.0h0M190.6 229.1h0M216.1 217.1h0M218.5 178.5h0M207.4 290.5h0M192.3 365.0h0M245.3 273.6h0M227.8 169.6h0M242.7 320.7h0M263.6 266.8h0M214.2 290.7h0M238.0 288.5h0M213.2 291.2h0M221.5 264.5h0M232.6 254.0h0M219.5 312.8h0M184.1 227.1h0M263.5 349.9h0M227.8 237.3h0M193.7 251.5h0M165.8 200.9h0M223.2 307.8h0M241.0 243.8h0M250.4 246.1h0M253.3 330.0h0M213.9 271.6h0M240.8 267.7h0M183.3 197.4h0M227.9 259.8h0M248.0 297.9h0M207.8 285.5h0M219.7 227.3h0M226.7 287.5h0M227.5 182.7h0M263.1 295.8h0M195.5 206.0h0M259.1 324.0h0M191.1 224.0h0M206.3 361.6h0M203.5 255.9h0M221.6 274.7h0M210.9 156.9h0M236.6 210.5h0M224.2 312.0h0M281.8 296.6h0M234.1 322.6h0M217.3 225.3h0M233.7 297.1h0M239.6 236.7h0M218.9 278.5h0M194.6 278.8h0M202.7 294.4h0M228.6 231.2h0M245.8 221.3h0M236.6 296.2h0M221.6 269.0h0M238.8 303.7h0M211.0 200.8h0M230.7 302.0h0M261.3 283.2h0M253.3 237.7h0M259.6 269.8h0M214.2 301.3h0M229.3 270.9h0M197.4 252.1h0M248.0 281.0h0M212.7 236.1h0M189.2 305.6h0M210.8 252.5h0M230.5 203.3h0M165.8 171.1h0M186.6 216.7h0M249.8 263.0h0M226.4 299.0h0M222.6 149.2h0M181.5 278.7h0M265.5 351.7h0M250.8 260.1h0M242.3 335.4h0M194.6 215.0h0M239.0 262.8h0M253.8 262.3h0M215.2 336.1h0M217.2 315.6h0M211.3 309.8h0M239.5 222.9h0M217.6 260.7h0M215.4 206.6h0M185.6 248.1h0M180.1 267.9h0M248.4 345.9h0M265.1 289.6h0M246.5 288.2h0M261.0 284.8h0M209.5 206.2h0M222.4 343.1h0M233.5 286.5h0M219.3 331.7h0M267.6 340.2h0M188.8 187.5h0M208.6 224.6h0M214.5 291.0h0M205.1 295.0h0M245.8 311.6h0M171.2 234.3h0M253.5 326.9h0M247.4 236.0h0M232.0 254.5h0M260.3 242.2h0M285.4 373.3h0M228.5 282.7h0M242.9 310.2h0M234.1 255.3h0M237.5 161.3h0M210.5 218.2h0M204.9 257.1h0M239.9 273.4h0M210.2 300.9h0M248.4 334.9h0M244.9 251.2h0M212.3 295.0h0M233.6 192.7h0M226.1 296.6h0M220.5 167.5h0M253.8 309.1h0M225.2 163.2h0M230.3 290.1h0M173.2 320.1h0M239.8 263.4h0M186.4 278.6h0M214.0 313.0h0M266.4 184.0h0M271.0 223.5h0M214.0 254.3h0M191.2 195.4h0M234.7 249.4h0M213.8 382.1h0M233.1 358.5h0M188.9 277.1h0M253.6 254.7h0M264.9 323.8h0M186.3 260.4h0M204.0 241.9h0M206.0 337.3h0M243.5 192.6h0M172.7 321.1h0M229.8 246.1h0M218.3 326.8h0M203.5 243.1h0M242.8 249.5h0M173.2 206.7h0M188.4 256.6h0M203.8 269.0h0M243.0 400.6h0M215.2 339.3h0M202.6 246.8h0M237.0 217.3h0M211.8 259.2h0M207.5 283.4h0M216.5 182.8h0M233.3 267.6h0M295.2 404.2h0M195.9 225.6h0M231.8 196.8h0M220.5 300.5h0M217.8 342.1h0M264.5 287.4h0M245.0 285.6h0M242.3 335.6h0M212.8 285.0h0M202.5 219.4h0M232.5 252.2h0M217.3 253.6h0M209.8 253.7h0M242.5 336.3h0M193.2 200.5h0M205.8 273.8h0M245.6 270.6h0M222.8 170.5h0M242.5 314.5h0M202.6 258.0h0M243.5 219.9h0M206.4 174.0h0M260.6 340.6h0M245.9 361.6h0M237.3 276.0h0M265.4 288.4h0M234.3 308.3h0M208.6 224.0h0M266.0 276.7h0M234.3 320.0h0M257.3 239.5h0M229.3 326.8h0M255.8 303.2h0M202.7 321.2h0M192.2 163.4h0M188.6 314.7h0M245.4 272.7h0M173.9 273.2h0M178.7 203.2h0M188.3 198.1h0M231.6 328.5h0M237.0 297.1h0M204.2 281.7h0M246.2 315.0h0M234.0 302.1h0M257.4 220.7h0M250.4 268.4h0M207.6 237.2h0M230.9 367.0h0M221.4 332.3h0M237.8 233.0h0M231.0 201.5h0M226.4 303.3h0M244.4 308.3h0M227.4 337.6h0M245.0 227.3h0M226.7 350.9h0M221.7 272.2h0M250.0 348.3h0M250.8 298.5h0M258.4 272.4h0M242.4 240.9h0M220.3 333.6h0M230.8 125.6h0M230.0 325.3h0M179.8 279.6h0M196.4 216.8h0M265.8 339.0h0M224.3 256.6h0M151.1 172.2h0M222.8 248.5h0M230.1 298.6h0M193.7 248.6h0M285.5 303.7h0M255.3 323.2h0M247.1 318.8h0M220.9 326.0h0M238.4 283.9h0M247.9 355.6h0M238.3 240.1h0M208.2 232.9h0M230.7 203.1h0M229.2 261.0h0M233.4 270.4h0M198.4 245.2h0M232.6 210.2h0M225.7 317.0h0M231.8 191.2h0M230.9 223.6h0M187.9 110.4h0M247.9 332.9h0M245.1 318.2h0M190.3 233.5h0M222.9 277.5h0M203.1 193.4h0M213.5 205.9h0M251.6 238.6h0M239.1 287.7h0M277.1 297.7h0M227.6 271.5h0M195.8 197.2h0M228.0 202.9h0M161.0 254.4h0M271.5 319.4h0M231.7 289.0h0M236.4 240.4h0M228.6 277.5h0M202.3 178.8h0M221.4 209.9h0M203.9 266.6h0M211.0 210.3h0M232.9 212.0h0M192.6 201.4h0M267.0 375.6h0M196.1 225.7h0M245.6 292.3h0M207.1 242.8h0M191.1 367.4h0M233.6 261.8h0M227.8 320.2h0M217.4 308.8h0M221.7 283.4h0M206.8 251.8h0M234.1 201.0h0M210.3 285.0h0M223.4 370.4h0M251.8 312.2h0M188.1 351.5h0M207.7 293.1h0M204.9 302.7h0M201.6 228.5h0M187.1 236.8h0M215.1 284.1h0M226.2 325.0h0M219.2 213.8h0M180.4 176.6h0M239.8 267.7h0M240.4 268.2h0M223.9 288.3h0M195.9 339.2h0M199.6 223.5h0M272.7 388.9h0M266.8 330.0h0M234.2 270.5h0M198.0 173.3h0M254.7 360.7h0M226.4 355.6h0M265.5 323.9h0M206.7 281.2h0M233.9 249.7h0M216.2 171.9h0M241.3 239.0h0M205.1 186.8h0M245.6 217.2h0M211.6 216.7h0M198.4 221.3h0M236.5 297.8h0M227.8 333.4h0M166.5 223.7h0M220.6 302.8h0M224.3 245.3h0M226.5 248.3h0M275.1 328.4h0M204.8 221.8h0M221.2 272.2h0M177.2 215.4h0M183.5 201.1h0M206.6 220.6h0M218.2 337.5h0M216.4 269.0h0M238.2 249.7h0M240.7 280.9h0M247.9 244.5h0M217.3 234.8h0M234.4 250.7h0M202.8 173.9h0M231.0 256.5h0M234.1 289.7h0M208.4 265.1h0M137.4 215.5h0M204.5 306.2h0M288.9 309.8h0M219.0 316.0h0M204.8 301.8h0M224.3 270.3h0M250.7 355.5h0M230.3 229.0h0M216.1 268.0h0M187.9 233.9h0M213.7 219.7h0M190.2 227.3h0M230.7 285.5h0M261.0 311.2h0M249.1 311.5h0M206.0 220.1h0M195.7 239.3h0M185.0 234.0h0M233.1 236.9h0M236.4 266.7h0M242.1 180.3h0M230.3 213.1h0M189.7 219.4h0M171.0 217.0h0M250.6 313.2h0M199.4 221.3h0M271.1 378.2h0M166.0 167.8h0M192.3 339.0h0M196.7 203.1h0M228.2 212.4h0M238.6 237.1h0M206.7 222.1h0M236.8 254.8h0M187.0 219.5h0M208.0 274.1h0M189.3 283.0h0M206.5 203.1h0M204.3 313.7h0M229.0 275.0h0M311.3 353.5h0M185.1 284.9h0M215.7 249.5h0M239.0 342.6h0M222.9 206.1h0M258.2 346.9h0M194.2 222.3h0M241.3 309.6h0M200.4 226.4h0M242.5 354.8h0M225.4 280.2h0M227.5 301.1h0M205.6 202.8h0M172.5 170.0h0M192.0 254.9h0M239.6 346.6h0M214.1 261.6h0M240.3 207.9h0M186.3 329.8h0M237.8 246.7h0M247.4 316.0h0M163.0 195.2h0M229.4 232.2h0M271.9 318.9h0M201.2 132.9h0M247.2 233.9h0M222.1 239.5h0M243.5 255.2h0M211.0 181.0h0M200.8 304.4h0M209.9 240.3h0M211.6 243.1h0M205.7 166.0h0M198.1 239.1h0M250.1 310.1h0M205.9 292.1h0M189.5 270.8h0M196.6 238.4h0M234.0 253.3h0M162.7 236.4h0M234.3 297.9h0M239.9 257.7h0M254.7 271.3h0M209.7 267.7h0M199.7 231.8h0M225.8 270.1h0M224.9 262.6h0M255.7 242.9h0M222.7 332.4h0M210.1 283.2h0M186.3 197.8h0M215.8 210.4h0M223.3 234.7h0M252.3 252.7h0M224.1 214.1h0M256.8 292.2h0M253.9 265.4h0M201.3 202.5h0M191.5 318.2h0M204.8 229.6h0M215.3 265.8h0M200.2 185.3h0M239.8 219.7h0M239.2 223.0h0M253.2 324.1h0M228.8 294.9h0M210.0 236.5h0M232.2 247.5h0M197.6 256.5h0M225.4 219.1h0M201.5 231.7h0M251.9 323.3h0M151.6 183.9h0M243.8 301.3h0M244.7 265.2h0M220.4 260.5h0M230.4 252.2h0M226.9 299.9h0M255.5 322.6h0M265.0 316.9h0M221.8 184.3h0M264.5 294.5h0M204.7 304.9h0M232.5 217.6h0M233.1 196.0h0M188.4 226.3h0M230.2 299.6h0M204.0 189.3h0M242.4 283.6h0M198.2 228.1h0M175.0 228.3h0M187.4 255.8h0M222.1 245.5h0M229.7 234.2h0M230.5 265.9h0M201.5 321.5h0M242.3 297.5h0M207.1 280.6h0M215.8 210.5h0M247.3 250.4h0M217.3 194.8h0M172.2 278.2h0M240.3 316.9h0M221.6 275.0h0M211.4 287.8h0M255.4 262.6h0M205.0 228.7h0M238.7 326.2h0M225.1 239.0h0M289.7 379.7h0M174.3 317.7h0M226.7 208.7h0M230.6 222.8h0M250.4 357.0h0M210.5 299.2h0M204.9 325.2h0M258.0 362.6h0M210.3 235.3h0M228.8 357.8h0M220.2 324.9h0M231.6 314.0h0M186.1 253.6h0M207.3 231.9h0M220.0 221.9h0M224.3 196.2h0M250.3 241.6h0M234.9 231.5h0M236.6 274.2h0M220.0 224.6h0M254.5 207.1h0M205.6 254.3h0M219.0 166.8h0M182.4 220.7h0M193.9 276.3h0M243.8 206.3h0M220.2 202.9h0M172.8 228.7h0M220.3 322.9h0M215.2 245.4h0M191.6 220.0h0M230.2 273.3h0M214.3 176.3h0M221.6 190.7h0M246.1 307.3h0M205.2 287.6h0M249.7 305.6h0M214.3 256.5h0M214.6 273.9h0M255.2 207.4h0M231.3 215.0h0M210.7 231.6h0M218.3 303.4h0M227.0 267.4h0M183.2 236.6h0M238.8 219.1h0M221.2 260.2h0M187.4 257.3h0M196.6 272.1h0M244.0 265.5h0M188.2 343.2h0M277.7 265.4h0M193.3 288.5h0M226.7 204.5h0M154.3 171.0h0M219.4 292.1h0M207.5 230.8h0M233.8 232.1h0M226.2 260.4h0M212.3 373.6h0M277.5 288.6h0M241.3 256.0h0M201.8 311.0h0M230.1 238.3h0M145.2 348.1h0M205.5 193.2h0M253.4 272.2h0M206.2 300.6h0M224.5 248.8h0M190.4 219.6h0M241.3 211.0h0M223.7 252.3h0M220.6 301.9h0M245.1 262.4h0M263.5 251.2h0M241.5 338.4h0M175.0 280.2h0M230.9 293.3h0M227.3 250.8h0M190.3 203.8h0M177.9 296.9h0M209.6 252.6h0M212.4 235.1h0M218.4 246.7h0M200.9 265.7h0M224.2 302.7h0M227.8 259.2h0M212.5 234.8h0M230.1 214.0h0M204.6 234.9h0M178.7 226.0h0M219.8 271.8h0M243.1 270.2h0M290.8 327.3h0M164.1 224.4h0M206.7 280.9h0M197.0 238.6h0M227.0 252.0h0M196.9 232.2h0M223.3 243.0h0M245.9 291.1h0M200.3 277.4h0M218.1 241.7h0M262.5 282.6h0M243.3 291.5h0M177.6 275.1h0M274.5 369.0h0M202.2 189.1h0M228.1 304.8h0M209.3 228.8h0M208.2 281.7h0M202.0 294.2h0M236.5 356.6h0M199.9 223.3h0M187.2 293.2h0M205.3 144.6h0M220.2 257.8h0M167.6 137.5h0M241.1 240.1h0M201.4 197.8h0M239.3 207.5h0M256.6 282.8h0M228.6 214.5h0M234.4 216.2h0M208.5 215.0h0M202.7 223.5h0M170.6 259.0h0M215.3 233.4h0M206.0 208.0h0M158.2 154.6h0M227.5 289.6h0M260.2 301.5h0M230.9 293.9h0M250.9 250.0h0M213.3 313.8h0M193.7 270.4h0M222.1 366.1h0M211.3 234.5h0M190.6 284.3h0M247.5 353.8h0M224.9 248.1h0M203.2 244.6h0M225.6 237.5h0M216.5 241.4h0M236.7 307.8h0M262.4 300.1h0M204.2 202.1h0M189.2 361.9h0M256.7 254.6h0M283.4 373.9h0M204.5 249.1h0M196.6 279.5h0M189.1 270.6h0M220.4 298.4h0M223.4 299.9h0M213.7 340.3h0M242.6 243.4h0M199.2 189.4h0M205.0 177.5h0M187.7 153.0h0M257.0 310.5h0M248.9 203.9h0M255.0 215.8h0M198.6 256.7h0M255.8 271.5h0M228.4 265.0h0M239.6 155.5h0M236.0 212.1h0M212.4 185.7h0M216.4 251.5h0M180.5 233.4h0M206.5 268.0h0M214.9 315.6h0M190.6 394.3h0M223.5 234.7h0M254.4 316.6h0M208.0 296.0h0M195.6 237.3h0M198.6 201.3h0M225.9 303.8h0M266.7 339.2h0M225.3 287.4h0M222.4 226.0h0M188.5 144.3h0M229.7 217.5h0M237.4 328.4h0M210.4 312.2h0M220.3 212.4h0M203.7 259.2h0M240.3 335.0h0M256.0 348.4h0M230.9 223.3h0M234.3 256.9h0M222.4 253.8h0M204.2 199.9h0M200.8 335.2h0M210.4 175.0h0M224.1 279.4h0M220.9 310.0h0M247.6 299.0h0M240.4 308.4h0M260.0 193.9h0M241.4 272.7h0M214.7 268.6h0M223.6 273.0h0M178.6 179.5h0M264.8 284.3h0M205.9 213.3h0M210.4 323.8h0M268.8 272.8h0M193.1 236.3h0M205.0 240.2h0M219.5 246.9h0M206.0 336.5h0M223.5 333.7h0M227.6 281.2h0M237.8 254.2h0M218.4 236.7h0M239.4 190.9h0M212.5 255.8h0M237.2 284.5h0M252.0 273.2h0M176.0 195.7h0M215.4 316.6h0M226.0 301.3h0M171.9 242.5h0M141.4 308.7h0M229.5 276.3h0M204.4 342.4h0M241.8 264.2h0M221.0 265.8h0M221.0 232.3h0M212.1 301.2h0M224.0 239.1h0M197.6 267.3h0M207.9 257.4h0M241.8 240.9h0M214.7 363.3h0M234.5 323.8h0M221.1 247.8h0M212.5 298.6h0M196.0 263.8h0M243.3 255.5h0M199.6 341.5h0M231.1 308.8h0M180.6 271.8h0M228.4 290.9h0M231.3 300.9h0M204.6 290.8h0M179.0 251.8h0M217.2 267.3h0M224.0 267.5h0M207.6 187.3h0M203.6 241.6h0M245.0 338.4h0M218.4 337.1h0M210.4 264.2h0M243.3 241.4h0M220.8 312.8h0M203.0 215.0h0M244.0 232.2h0M211.9 194.4h0M245.4 190.2h0M203.7 346.0h0M229.7 266.6h0M253.5 163.3h0M233.2 232.1h0M234.3 195.2h0M233.0 311.4h0M243.6 246.7h0M223.4 227.5h0M233.0 299.3h0M215.4 337.5h0M271.6 273.1h0M198.5 242.7h0M242.8 231.5h0M195.8 293.5h0M235.3 279.4h0M255.5 290.1h0M192.9 207.6h0M267.0 365.9h0M196.4 231.1h0M200.0 308.1h0M229.7 325.9h0M192.8 193.4h0M246.8 267.1h0M234.1 278.7h0M150.7 179.9h0M184.3 234.0h0M202.5 263.8h0M232.1 194.4h0M193.5 229.5h0M202.5 263.8h0M237.3 248.3h0M195.4 218.3h0M228.9 202.5h0M185.8 239.4h0M247.2 286.1h0M258.0 281.8h0M191.4 313.7h0M159.8 229.0h0M177.5 217.6h0M246.0 359.3h0M206.2 286.1h0M248.2 332.8h0M186.3 308.5h0M196.6 222.2h0M217.8 214.4h0M248.6 358.0h0M215.2 173.1h0M194.2 220.7h0M228.6 343.4h0M223.1 230.7h0M233.8 305.3h0M216.2 220.7h0M204.7 365.7h0M221.4 254.3h0M156.6 273.3h0M227.8 205.7h0M252.7 319.8h0M235.1 303.6h0M196.2 225.1h0M181.1 275.4h0M254.9 275.3h0M207.6 271.9h0M215.4 233.0h0M226.6 242.1h0M205.5 196.9h0M221.9 282.1h0M259.7 280.5h0M207.9 220.8h0M270.5 376.3h0M230.8 265.2h0M229.1 257.0h0M245.4 245.0h0M244.7 323.1h0M248.2 286.0h0M235.3 232.7h0M205.8 238.9h0M263.1 323.0h0M217.0 261.3h0M199.3 308.8h0M244.2 327.5h0M237.8 373.4h0M220.1 229.9h0M222.9 257.2h0M236.1 257.9h0M270.9 294.1h0M219.0 260.7h0M188.3 226.5h0M206.2 298.4h0M234.2 215.0h0M215.7 258.1h0M203.7 282.9h0M239.8 323.4h0M240.1 270.6h0M215.6 272.2h0M228.3 266.2h0M204.4 276.3h0M205.1 242.2h0M212.0 292.1h0M185.6 312.9h0M229.6 365.5h0M218.8 243.1h0M207.6 296.7h0M223.4 275.2h0M224.1 283.7h0M201.3 229.2h0M205.2 256.8h0M199.9 278.3h0M255.5 287.4h0M176.8 220.4h0M218.2 321.9h0M241.9 280.6h0M192.1 234.2h0M195.2 246.8h0M194.6 236.0h0M173.1 204.3h0M250.2 308.0h0M213.0 244.5h0M190.3 190.4h0M202.2 302.8h0M223.0 245.3h0M209.7 191.3h0M194.9 241.2h0M231.1 235.2h0M194.9 254.5h0M207.6 200.6h0M222.2 241.2h0M198.9 176.6h0M219.7 199.0h0M201.0 251.4h0M286.7 313.8h0M206.9 328.5h0M235.3 236.2h0M195.2 252.4h0M188.3 186.6h0M214.1 330.3h0M208.3 251.9h0M208.4 185.5h0M216.3 266.9h0M240.1 249.9h0M266.7 387.9h0M269.4 352.8h0M218.5 223.0h0M264.5 329.9h0M261.0 314.8h0M200.5 231.4h0M204.1 234.2h0M213.9 242.5h0M267.4 258.8h0M212.7 268.2h0M210.0 230.4h0M252.2 277.2h0M211.5 237.0h0M212.1 222.1h0M231.6 359.1h0M220.5 273.0h0M153.1 264.2h0M183.4 370.6h0M234.1 264.5h0M178.5 207.1h0M247.5 205.7h0M213.8 193.6h0M222.2 292.0h0M222.9 200.7h0M169.0 146.4h0M197.1 246.9h0M188.3 237.5h0M221.8 343.7h0M255.3 224.2h0M209.8 305.6h0M217.5 157.5h0M164.9 300.4h0M205.9 264.5h0M209.3 211.2h0M210.8 316.6h0M231.2 273.2h0M252.1 312.1h0M215.3 256.4h0M225.9 320.5h0M175.2 271.5h0M231.5 224.8h0M216.6 218.4h0M170.3 198.2h0M224.6 301.7h0M198.7 279.0h0M242.1 287.6h0M227.8 252.6h0M218.0 231.8h0M260.5 308.0h0M211.7 297.0h0M207.9 292.1h0M216.8 339.1h0M219.1 344.6h0M193.9 228.4h0M230.9 381.2h0M227.1 338.9h0M202.6 264.6h0M175.7 256.7h0M247.8 306.6h0M250.8 259.2h0M240.2 243.6h0M242.7 276.0h0M264.0 279.9h0M226.2 141.2h0M260.3 322.4h0M214.3 174.1h0M195.7 263.3h0M218.9 242.3h0M210.5 225.7h0M231.6 305.4h0M266.1 264.1h0M229.9 223.4h0M246.4 292.1h0M274.7 320.9h0M266.2 268.9h0M221.8 226.5h0M201.9 216.7h0M275.0 326.6h0M277.8 342.6h0M283.6 383.3h0M269.5 352.6h0M257.3 307.8h0M282.1 241.5h0M311.3 413.8h0M295.7 394.8h0M255.5 360.8h0M282.8 408.4h0M269.3 284.1h0M269.5 349.1h0M267.1 397.7h0M258.6 391.3h0M248.0 351.2h0M277.9 340.6h0M255.6 336.7h0M262.8 278.1h0M265.3 393.0h0M272.6 366.1h0M264.5 389.2h0M268.9 202.1h0M264.7 303.5h0M275.1 332.0h0M276.6 342.4h0M293.6 378.9h0M279.8 385.3h0M262.5 281.1h0M279.9 414.1h0M285.3 371.6h0M262.6 303.7h0M262.9 290.9h0M236.9 318.7h0M294.1 415.0h0M273.5 304.2h0M292.0 280.0h0M248.0 282.9h0M235.4 236.5h0M276.1 359.1h0M258.5 272.3h0M274.0 366.5h0M259.5 258.8h0M283.9 388.6h0M266.4 324.4h0M268.9 381.3h0M278.8 360.3h0M264.6 361.8h0M265.6 319.3h0M290.5 395.3h0M270.0 309.5h0M274.9 290.1h0M279.1 374.3h0M273.2 350.8h0M279.4 409.8h0M300.6 427.9h0M288.1 420.6h0M250.1 390.4h0M237.9 303.6h0M258.2 264.8h0M235.5 273.1h0M230.3 334.2h0M255.5 313.5h0M256.8 369.7h0M274.2 338.4h0M278.4 370.2h0M304.7 426.7h0M260.6 357.6h0M262.2 345.7h0M274.8 367.8h0M288.1 406.5h0M267.5 336.4h0M257.7 367.5h0M230.4 247.2h0M284.2 424.6h0M267.8 352.2h0M295.1 400.4h0M299.2 411.3h0M300.4 424.1h0M278.4 381.3h0M284.8 366.7h0M250.8 365.2h0M277.9 350.1h0M265.8 281.0h0M287.2 381.5h0M263.0 302.4h0M267.8 331.2h0M258.6 258.7h0M299.2 423.5h0M273.0 252.3h0M256.0 324.6h0M265.3 328.6h0M251.5 301.5h0M289.6 373.6h0M290.0 398.1h0M273.6 362.7h0M275.7 269.1h0M249.1 354.8h0M295.1 411.9h0M270.5 367.8h0M302.6 429.2h0M262.4 261.7h0M278.4 319.5h0M284.6 344.8h0M283.4 381.5h0M269.5 292.2h0M287.8 362.9h0M277.2 410.8h0M271.6 337.7h0M255.3 337.8h0M290.8 416.7h0M271.7 400.2h0M278.5 297.1h0M270.2 363.9h0M276.5 389.4h0M265.5 383.2h0M310.5 395.8h0M299.0 421.5h0M281.6 382.1h0M275.5 361.8h0M281.5 362.6h0M258.1 289.2h0M280.4 367.5h0M269.7 332.1h0M264.7 347.2h0M260.7 293.6h0M260.8 271.4h0M278.5 347.4h0M271.5 339.8h0M259.1 372.5h0M277.5 347.2h0M273.3 241.0h0M269.6 411.7h0M293.3 421.4h0M267.1 366.7h0M250.8 334.9h0M273.4 356.5h0M256.0 392.0h0M283.8 329.8h0M279.8 395.2h0M266.4 372.3h0M278.8 419.1h0M265.0 331.9h0M264.1 394.4h0M244.1 323.6h0M239.3 236.3h0M264.8 276.3h0M297.8 426.0h0M252.9 247.1h0M269.8 332.8h0M261.0 395.1h0M278.9 324.9h0M258.5 352.2h0M269.4 408.1h0M277.1 408.3h0M263.3 369.4h0M268.7 307.1h0M267.8 404.7h0M278.9 387.0h0M280.5 375.7h0M282.3 331.0h0M277.5 252.2h0M256.0 339.7h0M264.7 312.8h0M278.7 283.1h0M271.7 386.4h0M284.0 390.8h0M251.9 279.1h0M257.6 300.5h0M258.3 351.4h0M275.4 380.6h0M261.4 280.6h0M257.5 365.9h0M276.0 353.7h0M264.7 282.3h0M254.7 310.9h0M277.1 366.3h0M269.3 390.9h0M278.2 390.9h0M279.3 255.1h0M261.9 263.2h0M266.5 374.4h0M268.9 358.0h0M280.9 332.2h0M270.2 323.0h0M286.4 417.9h0M262.6 197.4h0M270.8 394.9h0M290.1 416.9h0M250.0 276.5h0M252.0 298.3h0M281.1 387.5h0M282.0 380.5h0M285.4 398.5h0M283.3 409.8h0M286.2 367.3h0M263.4 333.8h0M271.1 369.9h0M279.1 351.5h0M252.9 312.9h0M252.0 379.5h0M262.1 215.7h0M285.4 395.3h0M282.0 356.3h0M251.6 248.2h0M262.4 320.0h0M262.6 350.2h0M271.8 384.1h0M273.7 319.1h0M270.8 376.4h0M257.1 384.8h0M286.9 396.3h0M286.0 406.0h0M255.3 342.6h0M268.2 372.5h0M286.4 355.4h0M275.9 400.8h0M277.6 383.3h0M264.2 401.9h0M291.7 416.6h0M254.8 269.9h0M284.3 410.8h0M296.8 425.7h0M259.7 374.9h0M290.5 395.3h0M283.1 366.0h0M261.4 387.0h0M273.2 318.2h0M291.7 417.3h0M264.3 343.3h0M264.3 302.2h0M228.8 260.7h0M246.4 275.7h0M265.2 361.8h0M268.9 312.8h0M279.6 368.8h0M283.7 375.0h0M299.8 426.6h0M281.2 404.2h0M314.0 349.3h0M282.2 391.9h0M290.9 385.7h0M259.2 316.3h0M277.8 361.8h0M285.3 416.7h0M285.2 416.0h0M264.6 325.0h0M270.5 338.4h0M252.6 380.2h0M276.1 382.4h0M255.7 395.8h0M285.5 363.0h0M274.9 398.1h0M281.6 358.1h0M279.9 219.8h0M277.8 392.8h0M283.2 342.7h0M272.2 381.9h0M247.3 290.2h0M290.0 418.4h0M260.3 253.3h0M284.7 317.8h0M279.2 409.9h0M276.8 399.5h0M273.6 361.3h0M275.3 277.7h0M274.2 389.3h0M271.5 416.2h0M269.4 329.2h0M275.5 343.5h0M280.1 335.9h0M264.8 358.2h0M274.7 355.7h0M251.4 224.9h0M259.1 286.3h0M245.6 351.4h0M267.2 281.2h0M276.6 373.3h0M281.3 404.0h0M251.2 349.3h0M283.1 296.9h0M255.9 347.9h0M265.0 276.2h0M263.7 220.4h0M294.2 415.2h0M273.6 269.5h0M301.8 429.5h0M285.5 412.6h0M267.3 365.2h0M277.0 357.3h0M291.0 416.3h0M258.4 325.4h0M264.0 369.2h0M270.6 390.2h0M266.4 284.8h0M267.3 399.7h0M296.1 415.2h0M273.4 356.5h0M266.5 347.0h0M265.5 321.5h0M251.4 285.3h0M283.0 395.0h0M262.0 296.1h0M323.4 387.8h0M277.9 390.5h0M262.7 299.4h0M253.4 295.0h0M264.3 357.9h0M277.0 361.2h0M262.5 359.2h0M280.4 369.2h0M281.3 360.6h0M279.4 359.5h0M278.7 378.5h0M271.3 392.1h0M261.5 233.3h0M253.0 285.4h0M247.5 281.4h0M264.5 291.0h0M280.9 353.2h0M271.0 391.5h0M255.9 365.2h0M284.4 360.0h0M256.8 237.5h0M253.9 335.0h0M256.6 342.4h0M261.3 262.1h0M269.8 354.0h0M252.8 333.7h0M247.3 337.3h0M277.3 340.4h0M274.7 376.7h0M277.8 357.7h0M281.9 400.3h0M271.7 360.4h0M296.9 422.6h0M267.9 341.4h0M270.1 333.3h0M290.0 404.0h0M276.7 391.7h0M268.6 323.8h0M270.7 362.9h0M253.7 404.9h0M280.6 344.7h0M267.7 269.8h0M277.4 318.4h0M290.3 393.1h0M282.2 376.7h0M274.8 238.1h0M276.6 258.8h0M272.9 382.7h0M295.6 388.2h0M243.3 332.8h0M264.3 384.1h0M259.1 147.3h0M277.1 383.2h0M268.3 343.4h0M272.4 335.2h0M299.1 425.2h0M275.0 355.1h0M283.5 396.0h0M265.2 401.2h0M261.1 342.0h0M256.3 250.5h0M291.9 420.9h0M255.0 368.3h0M264.2 390.7h0M304.6 425.4h0M276.7 392.6h0M271.7 409.3h0M267.8 337.8h0M254.4 281.5h0M276.6 405.1h0M286.0 376.8h0M258.2 373.8h0M264.1 306.0h0M295.2 407.9h0M265.8 351.2h0M282.1 387.3h0M304.4 420.9h0M258.6 390.2h0M270.0 325.9h0M258.0 356.0h0M238.6 240.4h0M290.3 384.7h0M280.0 347.5h0M267.0 347.8h0M277.8 371.9h0M262.6 341.7h0M250.1 310.1h0M261.9 371.0h0M260.1 367.9h0M256.5 296.9h0M286.7 394.1h0M258.6 346.2h0M255.0 352.6h0M273.7 376.1h0M277.8 351.7h0M295.3 410.6h0M275.0 362.0h0M250.9 335.9h0M257.9 265.0h0M284.9 346.7h0M261.3 308.4h0M277.9 369.8h0M298.3 417.7h0M249.4 284.7h0M248.9 262.7h0M267.9 364.9h0M270.5 241.7h0M283.9 382.0h0M247.3 267.9h0M279.7 371.8h0M267.3 349.5h0M246.0 130.5h0M267.2 385.2h0M278.0 390.6h0M297.2 426.3h0M261.6 364.8h0M281.2 400.9h0M251.3 338.7h0M286.5 417.4h0M272.2 283.9h0M294.0 409.8h0M251.1 259.9h0M254.1 357.8h0M245.8 316.2h0M297.0 426.3h0M264.0 341.1h0M244.0 290.3h0M259.9 317.2h0M283.2 351.2h0M280.3 272.4h0M277.2 362.9h0M251.2 287.4h0M268.2 320.9h0M241.5 231.6h0M248.5 311.5h0M279.6 323.2h0M284.0 390.6h0M267.3 329.4h0M243.9 281.7h0M256.6 231.8h0M265.1 351.6h0M294.3 420.4h0M261.2 321.6h0M249.1 275.1h0M253.2 344.5h0M257.9 359.2h0M262.7 308.8h0M266.9 416.0h0M300.3 428.3h0M262.0 390.1h0M238.9 314.8h0M285.9 398.4h0M259.1 271.2h0M259.3 311.3h0M262.2 333.0h0M275.3 385.0h0M272.6 328.8h0M277.6 326.1h0M265.6 384.6h0M271.5 355.0h0M254.5 361.2h0M254.8 322.1h0M261.5 296.8h0M263.9 332.6h0M245.1 160.1h0M252.5 359.8h0M289.0 407.9h0M287.9 414.6h0M294.7 410.2h0M287.7 421.2h0M283.8 410.2h0M296.3 384.5h0M280.2 286.0h0M265.7 349.4h0M266.3 264.3h0M275.5 353.2h0M277.1 356.1h0M268.6 328.0h0M265.7 394.2h0M270.1 370.8h0M258.9 354.4h0M304.3 425.7h0M278.5 422.5h0M241.0 360.6h0M283.9 355.6h0M258.6 350.4h0M267.6 303.2h0M271.1 340.8h0M284.3 380.2h0M270.4 274.6h0M275.2 262.6h0M269.0 280.6h0M305.7 424.2h0M270.4 193.8h0M257.7 350.8h0M251.5 189.6h0M271.2 309.4h0M264.3 306.2h0M273.7 383.3h0M277.6 364.7h0M253.7 253.3h0M272.1 322.4h0M260.2 338.2h0M260.6 374.7h0M256.9 333.5h0M267.4 335.0h0M260.4 312.4h0M260.6 390.4h0M265.7 293.9h0M251.6 285.4h0M290.7 408.2h0M280.5 406.7h0M265.3 241.7h0M275.5 393.0h0M257.0 372.6h0M272.5 363.0h0M248.2 196.6h0M270.0 309.9h0M272.7 345.7h0M265.5 349.6h0M281.9 320.0h0M258.9 310.1h0M272.9 380.7h0M279.3 345.0h0M278.8 354.8h0M270.6 324.4h0M295.7 388.9h0M282.7 364.7h0M280.7 364.0h0M260.2 360.7h0M272.1 310.9h0M263.0 259.2h0M301.5 428.6h0M276.6 319.5h0M259.7 351.6h0M283.8 359.8h0M287.4 329.0h0M262.4 358.2h0M273.6 350.7h0M308.2 417.1h0M271.6 366.6h0M276.3 396.4h0M317.6 353.8h0M270.9 373.9h0M253.4 316.9h0M256.9 322.2h0M273.1 348.4h0M282.6 359.6h0M257.9 332.0h0M240.6 295.0h0M279.5 391.9h0M267.8 396.0h0M263.5 278.6h0M257.7 397.4h0M287.6 413.1h0M268.4 281.9h0M251.3 302.6h0M256.0 317.5h0M264.1 382.4h0M249.1 251.6h0M263.1 396.6h0M288.0 355.2h0M283.6 367.4h0M285.8 365.4h0M285.6 335.9h0M273.2 295.9h0M276.5 334.3h0M245.0 285.1h0M282.2 351.7h0M280.3 330.0h0M274.5 216.6h0M274.3 343.2h0M254.8 393.3h0M263.8 396.1h0M247.4 360.4h0M263.7 311.9h0M267.1 362.6h0M261.2 299.1h0M288.3 380.2h0M258.4 330.2h0M275.9 394.8h0M274.0 331.8h0M268.3 308.4h0M279.3 367.4h0M276.8 287.8h0M265.3 373.1h0M290.6 416.4h0M268.8 389.2h0M280.2 395.8h0M255.5 284.8h0M257.3 307.7h0M273.5 307.7h0M305.5 423.6h0M252.1 398.7h0M253.2 258.5h0M259.5 355.9h0M264.4 389.3h0M272.0 297.6h0M286.5 421.4h0M268.5 308.8h0M279.9 366.5h0M271.4 367.3h0M262.5 371.8h0M263.8 368.7h0M278.4 356.3h0M273.8 323.5h0M290.9 311.5h0M274.1 332.0h0M269.4 392.3h0M254.1 271.4h0M259.8 354.7h0M276.7 387.7h0M275.9 367.4h0M295.9 409.0h0M262.0 300.1h0M280.9 371.9h0M270.2 252.2h0M240.4 363.2h0M254.1 256.6h0M275.2 329.0h0M266.0 305.4h0M261.4 313.1h0M287.8 402.2h0M268.1 389.2h0M275.7 369.1h0M282.8 413.7h0M264.6 315.7h0M281.1 395.5h0M256.6 357.8h0M252.2 319.7h0M288.0 407.9h0M290.8 372.6h0M282.3 410.0h0M260.1 364.0h0M266.3 346.6h0M257.4 302.5h0M257.4 361.3h0M273.3 299.4h0M264.3 367.7h0M288.6 412.8h0M248.0 403.6h0M263.5 328.6h0M253.1 376.1h0M251.8 343.3h0M299.2 411.5h0M294.7 386.0h0M277.5 341.1h0M279.1 403.2h0M280.2 409.6h0M271.8 339.3h0M224.6 299.1h0M237.4 302.9h0M279.6 241.9h0M232.7 342.2h0M292.0 421.4h0M283.2 272.1h0M275.6 314.6h0M276.5 358.8h0M281.4 372.2h0M261.8 376.0h0M298.4 426.5h0M266.9 311.8h0M257.0 353.8h0M298.6 418.8h0M272.9 339.1h0M275.8 370.4h0M288.8 407.7h0M303.9 423.6h0M270.3 407.7h0M272.4 361.4h0M249.9 309.0h0M271.3 380.8h0M296.0 408.6h0M259.3 340.5h0M257.1 180.7h0M245.3 202.7h0M251.5 291.1h0M250.9 284.4h0M271.0 331.8h0M275.1 328.2h0M240.3 325.6h0M277.3 401.9h0M290.4 388.1h0M283.7 407.3h0M259.4 344.0h0M283.3 328.4h0M263.1 258.2h0M254.0 318.2h0M249.5 360.9h0M248.3 254.2h0M265.7 221.1h0M279.9 400.4h0M243.6 357.1h0M240.3 281.8h0M288.5 414.7h0M256.4 399.1h0M304.4 420.2h0M276.7 346.0h0M249.2 286.9h0M284.9 409.9h0M286.3 358.3h0M244.9 283.7h0M266.9 390.2h0M291.6 418.0h0M247.6 358.1h0M277.3 321.4h0M275.9 378.5h0M300.4 425.2h0M290.7 416.0h0M264.7 359.6h0M249.1 344.3h0M265.5 329.4h0M272.2 359.2h0M270.4 365.1h0M264.1 324.6h0M256.3 336.8h0M290.0 371.5h0M264.9 273.6h0M259.4 230.7h0M274.0 350.6h0M272.9 386.2h0M270.5 367.5h0M289.0 319.4h0M255.4 339.3h0M274.8 360.9h0M286.3 385.0h0M263.9 345.9h0M273.1 377.9h0M280.8 409.2h0M278.8 404.8h0M271.1 408.7h0M252.1 343.4h0M257.2 291.2h0M271.2 397.4h0M266.4 276.5h0M266.3 375.8h0M262.9 278.9h0M244.6 270.5h0M280.2 406.3h0M254.9 285.6h0M294.9 422.5h0M313.2 412.6h0M283.0 376.3h0M278.1 392.6h0M261.4 359.0h0M256.1 328.6h0M264.8 305.1h0M286.4 408.5h0M271.6 337.1h0M246.3 302.3h0M283.2 394.7h0M263.4 330.0h0M283.5 390.4h0M271.2 364.3h0M259.1 340.5h0M264.1 342.7h0M282.2 411.2h0M262.4 308.3h0M291.3 395.2h0M259.1 258.5h0M292.8 331.1h0M250.9 345.7h0M254.6 342.4h0M280.1 409.6h0M293.8 377.1h0M266.5 302.0h0M283.0 359.7h0M256.9 397.8h0M255.7 363.4h0M271.3 343.5h0M303.5 426.6h0M266.9 355.8h0M246.7 242.8h0M233.5 305.7h0M269.6 292.7h0M280.1 376.4h0M265.3 368.2h0M273.3 367.2h0M258.9 288.5h0M289.8 392.9h0M278.2 393.7h0M249.4 281.4h0M261.2 256.2h0M289.0 390.2h0M270.0 322.5h0M234.6 276.2h0M264.4 335.1h0M262.7 314.2h0M229.0 260.5h0M277.2 394.4h0M291.3 412.9h0M261.8 371.9h0M256.5 323.6h0M266.6 320.5h0M262.8 346.1h0M268.7 267.6h0M277.8 312.5h0M245.7 344.2h0M264.7 310.4h0M298.6 418.5h0M267.6 284.7h0M271.3 368.0h0M274.8 298.9h0M257.1 374.4h0M248.3 315.9h0M304.4 411.9h0M270.0 321.1h0M254.1 259.2h0M283.0 395.2h0M263.4 356.0h0M255.4 290.6h0M261.7 294.7h0M248.8 328.2h0M254.0 280.3h0M283.2 410.5h0M271.2 316.1h0M265.3 351.5h0M289.4 321.3h0M280.3 384.2h0M263.4 298.9h0M246.9 316.3h0M261.2 375.3h0M289.0 391.5h0M255.2 174.4h0M302.5 425.5h0M266.2 340.5h0M248.7 254.9h0M262.6 267.0h0M291.5 417.3h0M260.0 311.9h0M276.4 392.1h0M280.8 399.0h0M261.0 304.8h0M285.7 389.4h0M291.3 367.5h0M281.7 387.1h0M242.6 292.1h0M274.3 403.6h0M280.9 396.9h0M283.3 372.3h0M297.7 414.0h0M274.2 343.5h0M270.5 344.3h0M238.4 327.2h0M251.9 357.1h0M287.0 343.0h0M252.1 250.5h0M266.1 349.9h0M243.9 227.1h0M265.3 327.8h0M251.0 206.1h0M276.9 345.3h0M268.5 316.7h0M275.0 340.2h0M246.1 262.2h0M266.5 357.1h0M282.6 400.6h0M221.0 305.4h0M260.1 307.7h0M268.0 322.8h0M282.1 346.6h0M278.7 332.0h0M279.1 358.7h0M274.7 346.1h0M281.5 364.1h0M267.1 347.1h0M267.8 373.7h0M251.6 271.8h0M266.4 322.9h0M265.7 358.2h0M293.4 411.0h0M252.5 264.6h0M273.7 292.8h0M265.3 361.8h0M270.5 290.0h0M286.3 397.6h0M268.8 289.1h0M255.6 387.8h0M271.4 293.7h0M284.7 417.0h0M274.8 383.3h0M280.7 407.6h0M249.1 362.9h0M284.3 396.5h0M262.6 313.5h0M251.6 402.2h0M275.0 338.3h0M248.1 313.5h0M274.4 288.6h0M294.5 412.0h0M261.6 354.9h0M256.6 280.8h0M287.3 394.6h0M280.2 359.5h0M283.5 367.8h0M240.9 325.9h0M257.3 360.1h0M298.7 418.4h0M257.6 225.5h0M302.6 428.7h0M292.1 402.6h0M296.4 423.6h0M293.9 424.6h0M306.2 424.7h0M314.2 407.8h0M295.5 419.4h0M314.1 421.0h0M300.6 425.2h0M297.2 415.5h0M307.0 417.8h0M312.4 387.1h0M297.9 425.2h0M297.3 420.2h0M312.0 395.0h0M305.4 425.9h0M280.5 384.7h0M298.3 425.5h0M294.0 416.2h0M295.4 414.4h0M300.2 424.9h0M296.2 422.8h0M296.7 413.9h0M313.4 419.4h0M288.4 408.6h0M300.5 427.6h0M303.4 426.0h0M289.6 422.4h0M291.7 408.0h0M291.7 417.3h0M305.2 422.1h0M292.1 421.8h0M302.8 428.7h0M291.3 420.4h0M290.9 418.6h0M302.4 428.9h0M305.0 421.5h0M290.2 409.7h0M292.4 404.2h0M301.0 428.1h0M292.7 424.6h0M291.4 420.0h0M292.0 416.0h0M301.3 429.1h0M281.5 408.6h0M311.2 416.3h0M310.1 415.7h0M307.8 421.3h0M297.8 425.2h0M294.6 426.6h0M302.8 427.1h0M291.7 413.3h0M313.9 400.0h0M295.1 427.4h0M307.3 418.0h0M304.7 427.9h0M296.2 423.9h0M297.6 425.1h0M293.6 423.1h0M299.9 427.6h0M303.3 427.4h0M299.3 428.6h0M296.9 413.3h0M299.4 418.0h0M307.7 414.9h0M305.4 426.5h0M302.6 428.2h0M295.0 419.6h0M296.0 424.9h0M302.6 429.1h0M296.6 423.6h0M294.5 424.2h0M308.6 419.8h0M300.0 428.3h0M300.8 428.4h0M295.2 425.9h0M301.1 429.2h0M304.8 425.9h0M301.1 429.2h0M289.2 418.5h0M295.9 424.6h0M302.9 428.7h0M300.8 426.7h0M306.0 421.7h0M297.1 425.9h0M298.8 427.8h0M305.4 416.7h0M298.8 422.1h0M305.0 413.4h0M287.2 370.8h0M292.6 420.1h0M305.4 422.5h0M304.6 427.0h0M304.3 428.4h0M305.3 414.7h0M305.4 425.2h0M291.5 416.5h0M310.0 420.7h0M305.0 427.5h0M291.0 421.9h0M290.1 417.0h0M301.8 429.5h0M294.4 424.5h0M302.5 429.5h0M297.0 415.6h0M288.8 407.1h0M293.2 419.6h0M296.4 419.9h0M298.9 426.3h0M304.4 427.0h0M294.5 424.6h0M302.2 429.3h0M297.4 423.0h0M298.1 428.2h0M283.2 414.9h0M295.5 417.4h0M289.1 383.9h0M303.6 427.5h0M306.4 425.4h0M301.9 429.7h0M313.1 385.2h0M300.8 426.5h0M304.7 423.9h0M296.6 422.2h0M301.4 429.2h0M292.0 422.4h0M296.9 418.0h0M306.0 419.4h0M298.9 416.4h0M296.7 414.3h0M298.2 423.4h0M302.4 429.0h0M308.3 418.4h0M288.7 409.8h0M298.8 424.1h0M298.0 414.8h0M297.3 423.7h0M298.8 426.1h0M302.5 428.4h0M306.9 428.7h0M287.2 316.1h0M290.8 376.9h0M299.7 425.2h0M289.0 395.9h0M302.0 429.4h0M293.1 417.3h0M298.0 426.8h0M290.9 416.8h0M292.6 416.4h0M317.5 420.1h0M296.6 406.4h0M308.7 417.3h0M298.5 425.0h0M303.2 427.5h0M293.3 414.1h0M302.2 429.2h0M295.2 413.0h0M279.2 342.7h0M280.7 351.7h0M297.9 422.3h0M303.3 428.1h0M293.4 419.7h0M291.4 418.8h0M294.8 370.1h0M310.0 404.0h0M286.0 366.4h0M303.2 427.9h0M306.6 422.4h0M289.4 399.5h0M292.3 421.2h0M295.9 416.3h0M294.0 417.5h0M305.2 426.1h0M299.2 426.7h0M295.0 415.5h0M301.2 429.2h0M307.0 424.6h0M296.1 424.8h0M293.0 416.7h0M305.1 425.5h0M310.6 404.0h0M309.5 382.2h0M304.3 422.1h0M297.7 410.7h0M304.5 425.7h0M302.9 426.3h0M303.3 426.9h0M298.8 421.1h0M306.2 422.9h0M305.2 424.0h0M290.5 421.7h0M304.1 427.9h0M292.4 423.9h0M300.1 427.2h0M298.3 411.0h0M302.6 429.2h0M295.9 426.9h0M296.8 419.1h0M295.8 425.8h0M295.9 418.9h0M289.5 409.0h0M302.9 428.1h0M295.4 413.4h0M301.8 429.4h0M299.3 417.4h0M302.3 429.3h0M303.4 427.7h0M290.4 417.2h0M298.6 424.5h0M300.7 428.4h0M294.6 426.9h0M294.9 423.8h0M302.0 429.6h0M308.2 421.0h0M303.2 427.9h0M304.2 428.1h0M301.6 429.2h0M312.6 420.6h0M299.8 427.3h0M305.7 393.8h0M322.7 400.0h0M302.1 429.4h0M299.4 422.9h0M288.8 405.5h0M288.4 409.6h0M314.2 425.4h0M299.9 426.9h0M293.3 402.6h0M296.1 419.6h0M291.8 416.9h0M303.1 428.8h0M313.9 419.5h0M311.2 400.2h0M305.4 425.1h0M310.9 419.5h0M328.8 391.0h0M303.5 425.7h0M304.3 426.1h0M316.0 385.4h0M301.9 429.7h0M308.9 421.0h0M303.3 428.4h0M310.2 423.5h0M319.4 364.0h0M302.3 429.0h0M320.1 343.0h0M323.3 374.3h0M326.9 408.2h0M311.9 413.3h0M342.0 398.0h0M318.3 367.5h0M304.9 427.4h0M309.5 416.7h0M333.7 385.7h0M315.3 394.6h0M314.5 415.8h0M323.1 388.7h0M305.7 419.2h0M304.3 425.3h0M302.6 429.1h0M310.5 414.0h0M308.0 426.5h0M316.5 365.1h0M307.9 426.7h0M333.3 388.2h0M302.2 429.2h0M310.8 420.2h0M323.0 350.7h0M336.1 402.6h0M313.1 363.2h0M319.8 400.0h0M324.4 414.7h0M311.9 423.6h0M303.5 427.4h0M335.5 402.3h0M326.5 406.4h0M318.0 401.8h0M330.5 410.2h0M185.8 180.5h0M231.4 177.6h0M201.3 147.7h0M214.5 152.9h0M212.0 167.8h0M213.6 140.7h0M220.9 61.5h0M239.5 120.5h0M239.4 93.5h0M211.8 175.3h0M211.4 158.6h0M189.3 150.8h0M244.7 122.0h0M229.5 108.6h0M196.9 175.7h0M213.9 167.1h0M241.7 172.6h0M195.4 180.6h0M215.9 147.9h0M210.0 154.2h0M204.1 166.7h0M211.8 170.9h0M168.3 179.4h0M230.9 164.4h0M200.5 149.6h0M212.7 132.6h0M180.5 82.1h0M258.6 156.2h0M222.2 161.2h0M169.3 45.6h0M197.2 66.2h0M202.9 112.9h0M189.4 162.2h0M181.4 180.2h0M182.1 180.3h0M191.7 159.3h0M213.0 114.6h0M214.5 153.0h0M236.3 180.6h0M206.0 113.7h0M162.4 178.0h0M206.4 173.9h0M232.3 180.6h0M184.7 179.9h0M213.2 141.7h0M216.2 172.7h0M188.0 153.6h0M205.0 80.8h0M188.0 108.1h0M239.6 152.3h0M223.0 170.2h0M210.5 180.4h0M223.8 93.2h0M223.5 165.9h0M191.4 135.4h0M181.8 88.9h0M179.3 99.0h0M182.7 142.1h0M226.5 161.7h0M232.4 135.6h0M241.3 164.1h0M181.4 118.1h0M209.2 140.6h0M235.0 176.7h0M246.8 169.4h0M202.5 150.1h0M201.6 157.1h0M201.3 129.8h0M218.5 131.3h0M226.2 107.5h0M230.1 143.9h0M200.0 78.2h0M240.1 135.0h0M188.5 70.5h0M222.7 110.0h0M237.9 158.7h0M233.0 66.3h0M218.8 121.5h0M201.7 86.2h0M208.1 129.2h0M194.5 178.5h0M188.9 173.7h0M232.9 171.7h0M185.1 172.8h0M195.1 148.2h0M237.9 157.4h0M218.0 122.8h0M246.1 133.8h0M219.1 177.5h0M233.3 168.6h0M186.7 79.2h0M215.3 138.9h0M247.0 168.6h0M160.6 281.9h0M145.0 194.9h0M128.0 221.5h0M126.9 292.7h0M160.5 268.5h0M125.1 307.9h0M144.5 313.8h0M138.8 297.6h0M155.7 206.3h0M157.9 211.3h0M136.4 209.3h0M137.9 326.8h0M124.8 212.7h0M134.0 298.1h0M138.0 289.6h0M127.5 293.1h0M126.7 274.8h0M135.9 195.6h0M141.8 248.6h0M153.8 320.7h0M163.5 288.3h0M145.7 235.8h0M154.9 302.0h0M160.9 334.3h0M139.0 230.3h0M161.2 276.8h0M396.0 156.0h0M437.2 166.0h0M393.6 177.2h0M365.4 195.2h0M389.3 193.4h0M477.7 194.2h0M493.6 202.6h0M411.8 203.4h0M442.0 204.6h0M401.5 211.6h0M429.2 210.4h0M486.6 219.1h0M400.5 221.6h0M426.5 220.6h0M440.2 223.4h0M478.4 230.1h0M391.1 228.4h0M401.0 228.8h0M413.8 232.3h0M392.8 233.6h0M339.1 225.4h0M298.2 232.8h0M329.9 236.1h0M323.7 247.3h0M381.8 246.1h0M437.5 243.3h0M364.9 252.1h0M371.8 252.6h0M367.3 254.6h0M390.3 253.6h0M404.3 257.8h0M331.2 260.8h0M327.6 290.4h0M350.2 284.2h0M360.1 289.6h0M365.7 304.0h0M356.4 315.3h0M350.2 321.5h0M343.7 322.4h0M319.7 305.1h0M317.7 309.6h0M327.6 311.6h0M323.9 319.5h0M332.4 320.9h0M325.3 340.4h0M322.5 346.9h0M309.8 356.8h0M319.7 354.8h0M326.7 362.5h0M332.4 363.9h0M315.4 363.9h0M316.8 369.5h0M323.9 373.8h0M333.8 372.9h0M332.4 380.8h0M340.9 383.7h0M342.3 391.6h0M348.8 393.0h0M353.6 396.9h0M326.7 406.3h0M332.4 411.4h0M343.1 410.5h0M311.2 386.5h0M308.4 378.0h0M388.9 295.5h0M391.7 297.5h0M417.2 288.4h0M422.8 293.2h0M386.1 366.1h0M428.5 367.8h0M362.1 358.2h0M374.8 349.2h0M380.4 332.8h0M400.2 331.4h0M339.4 311.6h0" fill="none" stroke="#c0c0c0" stroke-width="5.3" stroke-linecap="round"/>
<g clip-path="url(#cp429)"><path d="M331.3 7.6 331.3 22.3 331.4 36.7 331.4 50.8 331.5 64.7 331.5 78.3 331.6 91.5 331.7 104.5 331.7 117.1 331.8 129.5 331.9 141.7 331.9 153.7 332.0 165.3 332.1 176.7 332.2 187.7 332.3 198.3 332.5 208.7 332.7 219.3 333.0 229.9 333.3 240.2 333.7 249.8 334.1 258.5 334.4 265.9 334.7 271.8 335.0 276.6 335.2 280.7 335.5 284.3 335.7 287.7 336.0 290.8 336.2 294.0 336.5 297.4 336.8 301.0 337.1 304.7 337.5 308.5 337.8 312.2 338.2 315.9 338.6 319.6 339.0 323.3 339.4 326.8 339.9 330.3 340.4 333.9 340.9 337.5 341.5 341.0 342.1 344.3 342.7 347.6 343.3 350.5 344.0 353.3 344.6 355.8 345.3 358.2 346.0 360.5 346.7 362.7 347.4 364.8 348.2 366.9 349.1 368.8 350.0 370.7 350.9 372.6 351.9 374.4 353.0 376.1 354.1 377.8 355.3 379.3 356.6 380.8 357.9 382.2 359.4 383.5 361.1 384.7 362.9 385.9 364.9 387.1 366.9 388.1 368.9 389.2 370.9 390.1 373.0 390.9 375.0 391.8 377.1 392.5 379.2 393.3 381.4 394.0 383.7 394.6 386.0 395.2 388.5 395.8 391.0 396.3 393.5 396.7 396.1 397.2 398.8 397.6 401.8 398.0 404.9 398.4 408.5 398.7 412.4 399.1 417.0 399.5 422.3 399.8 428.3 400.2 434.8 400.5 441.7 400.9 449.0 401.2 456.5 401.5 464.3 401.9 472.8 402.2 481.8 402.5 491.3 402.8 501.4 403.1 512.0 403.4 523.0 403.7 534.4 404.0" fill="none" stroke="#000" stroke-width="2.8" stroke-linejoin="round"/>
<path d="M272.5 7.6 272.5 22.3 272.4 36.7 272.4 50.8 272.3 64.7 272.3 78.3 272.2 91.5 272.1 104.5 272.1 117.1 272.0 129.5 271.9 141.7 271.9 153.7 271.8 165.3 271.7 176.7 271.6 187.7 271.5 198.3 271.3 208.7 271.1 219.3 270.8 229.9 270.5 240.2 270.1 249.8 269.7 258.5 269.4 265.9 269.1 271.8 268.8 276.6 268.6 280.7 268.3 284.3 268.1 287.7 267.8 290.8 267.6 294.0 267.3 297.4 267.0 301.0 266.7 304.7 266.3 308.5 266.0 312.2 265.6 315.9 265.2 319.6 264.8 323.3 264.4 326.8 263.9 330.3 263.4 333.9 262.9 337.5 262.3 341.0 261.7 344.3 261.1 347.6 260.5 350.5 259.8 353.3 259.2 355.8 258.5 358.2 257.8 360.5 257.1 362.7 256.4 364.8 255.6 366.9 254.7 368.8 253.8 370.7 252.9 372.6 251.9 374.4 250.8 376.1 249.7 377.8 248.5 379.3 247.2 380.8 245.9 382.2 244.4 383.5 242.7 384.7 240.9 385.9 238.9 387.1 236.9 388.1 234.9 389.2 232.9 390.1 230.8 390.9 228.8 391.8 226.7 392.5 224.6 393.3 222.4 394.0 220.1 394.6 217.8 395.2 215.3 395.8 212.8 396.3 210.3 396.7 207.7 397.2 205.0 397.6 202.0 398.0 198.9 398.4 195.3 398.7 191.4 399.1 186.8 399.5 181.5 399.8 175.5 400.2 169.0 400.5 162.1 400.9 154.8 401.2 147.3 401.5 139.5 401.9 131.0 402.2 122.0 402.5 112.5 402.8 102.4 403.1 91.8 403.4 80.8 403.7 69.4 404.0" fill="none" stroke="#000" stroke-width="2.8" stroke-linejoin="round"/>
</g>
<path d="M70 7V429.7H534" fill="none" stroke="#000" stroke-width="2.2"/>
<path d="M70 429.7h-4.6M70 376.8h-4.6M70 323.9h-4.6M70 271.0h-4.6M70 218.1h-4.6M70 165.2h-4.6M70 112.3h-4.6M70 59.4h-4.6M85.6 429.7v4.6M116.5 429.7v4.6M147.4 429.7v4.6M178.3 429.7v4.6M209.2 429.7v4.6M240.1 429.7v4.6M271.0 429.7v4.6M301.9 429.7v4.6M332.8 429.7v4.6M363.7 429.7v4.6M394.6 429.7v4.6M425.5 429.7v4.6M456.4 429.7v4.6M487.3 429.7v4.6M518.2 429.7v4.6" fill="none" stroke="#000" stroke-width="2"/>
<text x="-1.0" y="59.3" font-size="61.5" fill="#231f20" textLength="44.1" lengthAdjust="spacingAndGlyphs" dx="-3.08">A</text>
<text x="390.0" y="62.5" font-size="36" fill="#00a651" textLength="102.6" lengthAdjust="spacingAndGlyphs" dx="-1.80">Before</text>
<text x="50.6" y="120.0" font-size="24.8" fill="#231f20" text-anchor="middle" textLength="15.1" lengthAdjust="spacingAndGlyphs">6</text>
<text x="50.4" y="438.6" font-size="24.8" fill="#231f20" text-anchor="middle" textLength="14.9" lengthAdjust="spacingAndGlyphs">0</text>
<text x="49.7" y="231.5" font-size="23" fill="#231f20" text-anchor="middle" textLength="53.3" lengthAdjust="spacingAndGlyphs" transform="rotate(-90 49.7 231.5)">-logP</text>
<text x="146.0" y="457.8" font-size="24" fill="#231f20" text-anchor="middle" textLength="36.5" lengthAdjust="spacingAndGlyphs">-10</text>
<text x="301.9" y="457.8" font-size="24" fill="#231f20" text-anchor="middle" textLength="14.2" lengthAdjust="spacingAndGlyphs">0</text>
<text x="449.5" y="457.8" font-size="24" fill="#231f20" text-anchor="middle" textLength="26.2" lengthAdjust="spacingAndGlyphs">10</text>
<text x="192.4" y="480.7" font-size="21.5" fill="#231f20" textLength="189.3" lengthAdjust="spacingAndGlyphs" dx="-1.07">log2(Elute - Lysate)</text>
<text x="341.9" y="274.7" font-size="19.4" fill="#00a651" textLength="64.7" lengthAdjust="spacingAndGlyphs" dx="-0.97">MUC13</text>
<text x="428.3" y="293.9" font-size="19.4" fill="#00a651" textLength="65.5" lengthAdjust="spacingAndGlyphs" dx="-0.97">MUC16</text>
<text x="400.2" y="323.1" font-size="19.4" fill="#00a651" textLength="51.4" lengthAdjust="spacingAndGlyphs" dx="-0.97">MUC1</text>
<text x="336.5" y="354.5" font-size="19.4" fill="#00a651" textLength="45.8" lengthAdjust="spacingAndGlyphs" dx="-0.97">SDC1</text>
<text x="402.8" y="354.5" font-size="19.4" fill="#00a651" textLength="36.8" lengthAdjust="spacingAndGlyphs" dx="-0.97">DAF</text>
<circle cx="425.3" cy="275.7" r="3.9" fill="#00a651"/><circle cx="366.8" cy="286.8" r="3.9" fill="#00a651"/><circle cx="352" cy="303.1" r="3.9" fill="#00a651"/><circle cx="391.7" cy="316.1" r="3.9" fill="#00a651"/><circle cx="376.9" cy="324.5" r="3.9" fill="#00a651"/><circle cx="396.1" cy="336.8" r="3.9" fill="#00a651"/>
</g>
<g id="panelC">
<clipPath id="cp1004"><rect x="73" y="585" width="464" height="422.20000000000005"/></clipPath>
<path d="M269.2 825.5h0M212.7 747.5h0M225.8 747.7h0M235.6 897.8h0M204.3 757.9h0M225.0 820.4h0M224.9 825.6h0M179.0 878.0h0M251.6 793.7h0M240.6 843.7h0M208.5 837.6h0M220.4 901.2h0M238.1 830.0h0M218.1 841.1h0M218.6 815.9h0M186.9 870.3h0M239.4 889.6h0M228.2 817.3h0M232.1 864.5h0M185.0 749.2h0M268.1 871.3h0M229.0 797.1h0M214.8 808.5h0M278.0 929.9h0M223.7 936.4h0M186.9 823.6h0M214.3 820.0h0M165.0 790.6h0M252.4 890.6h0M214.0 818.4h0M205.5 873.5h0M253.0 928.0h0M181.7 844.7h0M238.9 825.5h0M170.9 848.1h0M207.6 793.7h0M193.4 741.8h0M263.2 919.4h0M271.2 956.6h0M216.3 896.5h0M246.9 833.0h0M220.2 686.3h0M239.8 811.7h0M205.2 854.6h0M180.2 793.8h0M177.7 883.5h0M235.0 804.6h0M283.8 917.0h0M232.0 847.8h0M211.2 837.6h0M275.0 821.1h0M231.1 831.4h0M227.6 846.9h0M231.5 819.2h0M221.5 774.5h0M216.8 806.5h0M187.4 772.3h0M238.1 858.0h0M222.4 880.8h0M256.2 871.7h0M215.3 845.1h0M175.0 800.0h0M222.3 839.4h0M269.4 789.2h0M214.9 828.6h0M201.6 866.0h0M193.7 792.8h0M197.4 853.7h0M217.1 763.0h0M194.0 817.1h0M264.1 855.6h0M217.5 851.1h0M227.8 839.7h0M262.6 959.1h0M264.3 729.6h0M219.4 766.4h0M233.6 808.2h0M244.2 848.3h0M219.9 800.7h0M178.4 779.8h0M242.1 776.2h0M248.3 790.6h0M235.8 801.3h0M200.7 897.5h0M219.8 793.5h0M209.5 953.2h0M217.1 882.3h0M258.9 845.4h0M265.0 904.6h0M242.4 895.4h0M239.3 790.0h0M242.6 774.6h0M224.6 906.4h0M222.9 789.2h0M207.3 867.2h0M223.5 865.9h0M284.1 826.4h0M247.7 880.4h0M216.0 855.5h0M212.6 891.4h0M202.3 817.4h0M234.7 861.0h0M235.2 857.2h0M187.1 802.1h0M237.7 921.7h0M210.0 874.0h0M262.3 934.6h0M229.0 851.9h0M269.9 926.2h0M212.9 783.9h0M217.4 800.4h0M232.8 888.2h0M252.6 841.9h0M239.7 824.3h0M192.6 822.2h0M229.7 767.0h0M225.5 839.5h0M213.7 850.3h0M208.0 808.0h0M270.7 825.2h0M214.7 915.1h0M202.8 841.4h0M241.6 799.2h0M228.3 808.3h0M222.9 761.2h0M245.4 771.8h0M237.7 758.5h0M234.4 801.9h0M250.2 870.7h0M232.3 874.3h0M208.8 817.1h0M215.4 879.4h0M211.3 853.3h0M230.4 785.9h0M196.7 780.4h0M176.9 822.7h0M227.2 868.1h0M189.9 871.2h0M173.8 748.3h0M234.7 755.0h0M206.3 923.6h0M237.9 828.0h0M211.0 876.3h0M195.5 817.4h0M192.4 755.9h0M211.4 897.2h0M217.8 852.0h0M203.4 897.6h0M217.6 859.5h0M184.7 769.8h0M225.3 830.3h0M178.0 863.0h0M219.8 799.7h0M243.2 853.8h0M253.5 911.8h0M269.8 820.2h0M184.2 796.1h0M244.8 854.6h0M256.5 904.8h0M250.6 846.8h0M200.6 788.9h0M235.7 868.8h0M273.6 852.1h0M185.7 835.4h0M237.4 859.3h0M254.0 846.0h0M206.7 868.3h0M240.2 903.5h0M196.9 762.4h0M203.7 849.0h0M203.5 814.0h0M230.0 823.1h0M222.5 835.3h0M249.9 910.4h0M200.3 813.4h0M221.5 817.2h0M250.1 798.6h0M239.6 835.7h0M190.2 815.3h0M242.3 804.9h0M212.4 813.1h0M235.0 865.0h0M232.8 909.7h0M256.8 846.0h0M228.0 934.1h0M176.4 864.5h0M189.1 862.6h0M244.1 878.3h0M218.2 835.4h0M254.7 830.5h0M232.1 835.9h0M205.3 827.0h0M253.3 864.0h0M203.8 904.1h0M171.2 914.4h0M279.0 913.9h0M174.9 865.9h0M241.6 817.7h0M249.5 769.6h0M228.8 833.4h0M180.8 827.9h0M251.5 924.7h0M187.2 937.9h0M189.7 832.9h0M215.5 899.2h0M245.6 907.5h0M232.8 852.9h0M246.1 894.3h0M213.3 850.8h0M220.4 913.8h0M195.1 776.1h0M216.6 733.3h0M240.4 854.3h0M217.1 881.6h0M237.4 899.7h0M209.9 804.2h0M209.4 858.0h0M225.9 809.7h0M219.8 870.8h0M240.4 815.8h0M229.6 794.4h0M270.5 922.6h0M219.2 780.5h0M219.0 771.0h0M197.7 865.9h0M225.5 843.1h0M242.8 751.4h0M205.5 889.5h0M223.6 784.2h0M243.7 830.6h0M221.6 829.8h0M211.3 930.7h0M250.4 854.4h0M227.5 886.7h0M235.3 837.5h0M255.6 887.1h0M254.9 800.7h0M215.8 832.3h0M211.2 803.3h0M232.4 798.9h0M221.4 851.4h0M175.2 870.1h0M258.3 887.8h0M225.4 823.8h0M244.2 889.1h0M194.2 774.1h0M258.6 880.1h0M209.5 857.1h0M222.1 831.3h0M188.2 807.6h0M220.5 841.5h0M218.9 809.4h0M220.1 824.6h0M236.4 883.7h0M226.5 756.7h0M250.5 918.3h0M212.7 855.2h0M198.8 835.4h0M224.4 794.1h0M241.4 830.6h0M257.5 837.1h0M246.2 887.6h0M178.7 849.4h0M234.8 903.1h0M263.2 871.1h0M226.6 752.2h0M211.4 788.1h0M233.0 825.9h0M211.7 847.1h0M241.7 784.5h0M224.6 827.2h0M261.4 868.6h0M238.0 819.5h0M206.0 817.3h0M240.7 952.1h0M249.4 852.4h0M210.0 927.2h0M213.8 842.4h0M164.6 778.0h0M248.6 881.4h0M209.5 809.5h0M169.4 806.6h0M178.6 718.0h0M219.1 850.7h0M244.8 824.6h0M222.6 893.0h0M237.3 849.0h0M196.1 803.9h0M189.8 772.9h0M248.1 852.3h0M237.8 827.5h0M224.1 801.7h0M258.5 946.9h0M200.0 815.1h0M213.9 875.8h0M251.8 926.3h0M273.0 898.1h0M225.1 868.0h0M268.9 897.7h0M209.1 876.7h0M233.6 870.3h0M220.4 858.4h0M183.3 821.4h0M231.7 818.4h0M249.3 833.9h0M221.0 805.3h0M223.1 843.4h0M261.4 926.7h0M192.2 777.9h0M185.7 789.1h0M207.8 783.6h0M193.6 815.6h0M260.2 912.7h0M233.0 825.4h0M202.3 838.3h0M208.8 727.7h0M299.8 945.7h0M208.9 851.2h0M205.0 797.5h0M232.9 771.1h0M241.6 869.4h0M230.7 833.0h0M201.1 914.2h0M194.6 794.1h0M240.5 837.9h0M223.5 817.3h0M181.9 818.4h0M255.6 781.9h0M245.2 916.0h0M218.6 864.1h0M218.1 820.4h0M231.0 822.9h0M206.9 851.9h0M189.6 835.6h0M233.4 822.0h0M187.2 808.1h0M235.1 858.8h0M187.2 797.4h0M222.3 818.8h0M221.4 814.2h0M271.6 861.1h0M197.1 765.2h0M187.9 776.1h0M208.0 844.5h0M195.5 860.9h0M209.5 823.2h0M235.9 691.5h0M245.1 786.8h0M268.4 891.9h0M205.6 910.1h0M294.0 965.8h0M276.8 875.2h0M219.6 816.3h0M164.9 788.7h0M222.7 920.2h0M226.8 847.8h0M164.7 768.2h0M226.9 885.1h0M219.7 875.0h0M204.4 738.7h0M241.3 819.4h0M251.2 904.4h0M212.2 875.2h0M230.9 786.6h0M207.8 824.8h0M204.3 869.9h0M227.0 854.0h0M238.6 800.2h0M210.2 818.5h0M167.0 843.8h0M240.3 870.7h0M183.1 773.9h0M228.1 947.2h0M271.5 887.3h0M224.5 772.1h0M193.8 805.0h0M186.7 700.9h0M255.6 830.0h0M224.5 832.7h0M239.1 954.2h0M249.2 862.7h0M223.6 854.0h0M216.8 870.8h0M200.1 833.5h0M144.2 776.0h0M185.2 887.2h0M223.1 861.9h0M220.3 911.3h0M235.5 895.3h0M221.6 794.6h0M229.1 819.1h0M245.5 833.2h0M201.7 807.0h0M217.4 855.3h0M182.8 807.5h0M250.4 821.6h0M225.9 910.9h0M237.7 912.7h0M265.3 871.3h0M253.2 813.5h0M223.3 809.2h0M245.5 819.3h0M187.4 780.0h0M236.3 803.2h0M228.6 851.1h0M182.6 831.6h0M259.9 885.6h0M206.5 787.2h0M242.8 864.0h0M213.9 928.3h0M250.9 867.4h0M259.3 846.9h0M203.2 952.3h0M184.9 833.5h0M221.5 808.2h0M247.1 896.9h0M215.2 801.1h0M208.9 812.2h0M237.7 896.4h0M152.6 779.3h0M207.5 765.1h0M188.7 856.0h0M232.6 884.8h0M205.6 768.6h0M195.7 806.5h0M215.7 887.8h0M186.5 831.1h0M224.6 880.1h0M207.1 821.5h0M215.0 804.7h0M206.1 803.1h0M248.8 840.9h0M222.1 844.9h0M238.7 734.4h0M237.5 766.0h0M203.8 826.4h0M239.8 882.0h0M234.1 815.6h0M233.1 843.1h0M214.5 786.5h0M213.7 773.6h0M245.5 860.2h0M282.0 892.5h0M203.2 804.2h0M238.9 792.9h0M215.3 836.0h0M245.5 848.6h0M236.4 833.9h0M252.7 852.3h0M151.8 789.8h0M209.2 856.4h0M199.0 844.9h0M222.1 923.5h0M206.0 899.0h0M208.1 825.4h0M242.8 798.5h0M274.7 912.7h0M151.0 779.3h0M216.8 908.8h0M233.1 780.4h0M225.0 818.5h0M215.9 908.9h0M189.5 818.7h0M200.2 861.5h0M243.9 883.1h0M253.1 836.9h0M227.5 881.1h0M203.0 788.2h0M227.4 823.9h0M218.6 934.7h0M239.2 837.6h0M228.0 857.2h0M208.6 782.6h0M229.9 906.4h0M194.0 781.9h0M246.4 820.5h0M255.9 834.7h0M194.1 780.7h0M235.9 784.5h0M199.0 809.5h0M253.0 836.4h0M248.6 847.8h0M218.9 791.3h0M251.0 817.5h0M213.6 815.5h0M208.1 825.7h0M210.0 788.6h0M221.2 831.0h0M216.5 820.3h0M229.0 891.3h0M208.8 859.3h0M244.9 874.4h0M251.6 904.4h0M211.9 801.5h0M187.6 886.3h0M243.9 857.3h0M254.7 837.3h0M220.6 853.4h0M191.2 773.5h0M231.9 925.7h0M264.8 880.4h0M175.8 749.8h0M237.4 797.1h0M216.7 809.1h0M202.5 799.7h0M238.0 866.7h0M190.9 863.8h0M232.7 891.5h0M259.3 888.7h0M229.5 799.4h0M202.0 880.5h0M178.3 876.4h0M191.4 737.7h0M176.7 788.1h0M266.8 855.8h0M218.4 798.9h0M197.6 874.4h0M190.9 841.6h0M197.0 823.0h0M216.1 779.4h0M191.3 732.7h0M268.8 835.2h0M205.4 789.6h0M204.4 786.2h0M233.0 752.6h0M262.9 803.2h0M259.6 843.9h0M212.1 844.2h0M231.6 816.5h0M228.8 826.6h0M238.8 839.8h0M231.6 835.0h0M200.2 882.7h0M191.9 784.0h0M229.5 847.0h0M193.9 763.3h0M260.6 918.5h0M226.0 872.0h0M198.1 871.2h0M216.5 834.4h0M211.6 821.1h0M221.5 779.3h0M249.7 867.5h0M187.1 885.4h0M176.0 696.0h0M233.8 924.8h0M220.3 797.5h0M229.2 861.3h0M236.6 808.2h0M220.2 824.7h0M245.9 889.8h0M201.5 813.7h0M226.6 923.7h0M203.2 824.1h0M195.3 852.8h0M241.0 819.7h0M239.8 823.5h0M174.1 793.4h0M195.5 845.3h0M232.6 920.8h0M252.9 856.2h0M207.5 771.5h0M220.1 806.0h0M187.9 758.9h0M290.7 933.2h0M237.4 843.4h0M248.3 807.1h0M242.1 831.1h0M249.4 898.7h0M240.8 868.5h0M216.1 805.5h0M244.4 885.9h0M227.0 855.8h0M258.9 838.4h0M205.7 833.3h0M210.7 919.6h0M242.2 800.9h0M258.4 910.1h0M228.7 830.6h0M206.3 857.2h0M221.8 853.2h0M211.9 841.5h0M274.6 873.7h0M248.4 850.8h0M258.0 893.6h0M232.8 863.0h0M210.4 765.8h0M255.6 880.5h0M268.2 932.0h0M240.2 890.0h0M224.3 844.7h0M253.2 780.6h0M215.2 859.6h0M244.9 881.9h0M206.3 899.0h0M199.5 781.3h0M239.7 834.4h0M233.8 818.1h0M274.8 869.6h0M217.6 758.7h0M225.5 815.1h0M195.1 800.7h0M176.0 795.0h0M178.3 894.1h0M237.0 816.1h0M194.1 799.5h0M254.4 911.0h0M262.2 841.1h0M217.4 891.1h0M268.3 893.1h0M230.9 811.7h0M254.4 827.0h0M219.0 837.2h0M250.0 843.7h0M200.2 825.3h0M241.2 821.0h0M212.9 857.6h0M221.5 803.9h0M241.5 825.5h0M229.4 828.8h0M223.0 780.5h0M244.0 833.6h0M245.9 839.6h0M188.7 755.3h0M239.6 769.5h0M242.5 907.3h0M205.2 811.5h0M235.0 833.9h0M190.3 789.5h0M262.6 936.9h0M218.7 821.0h0M222.9 758.3h0M256.3 881.7h0M221.2 790.9h0M240.6 866.1h0M197.5 813.3h0M210.0 890.6h0M188.5 840.2h0M219.5 814.6h0M251.9 922.4h0M230.8 959.2h0M248.1 828.3h0M198.1 876.6h0M201.8 841.2h0M212.7 850.6h0M239.9 792.9h0M234.3 799.7h0M224.5 905.7h0M241.2 852.7h0M221.0 809.6h0M224.4 923.1h0M259.1 920.1h0M209.6 864.4h0M229.7 796.7h0M267.1 869.1h0M227.6 910.3h0M243.4 762.8h0M209.0 759.3h0M276.1 850.7h0M166.0 859.3h0M195.2 831.1h0M197.3 845.0h0M267.3 880.0h0M234.1 845.5h0M218.1 892.9h0M191.4 972.9h0M234.5 865.1h0M227.9 903.4h0M206.8 806.1h0M185.9 898.6h0M196.0 824.6h0M230.5 847.6h0M233.1 820.6h0M226.8 804.1h0M221.0 809.6h0M178.6 771.5h0M226.2 781.6h0M197.9 914.9h0M226.0 859.0h0M237.1 893.8h0M207.2 852.2h0M198.1 760.9h0M250.9 855.3h0M234.1 803.6h0M208.3 791.8h0M146.4 796.3h0M223.6 842.8h0M241.4 850.7h0M254.3 863.2h0M207.2 812.8h0M208.1 827.0h0M213.3 893.6h0M246.9 951.0h0M194.2 878.5h0M222.0 823.5h0M200.7 843.1h0M232.0 889.4h0M184.2 868.7h0M234.8 904.0h0M211.9 892.6h0M219.1 853.0h0M238.7 832.1h0M254.9 793.3h0M180.5 870.6h0M251.2 885.7h0M239.5 808.6h0M217.2 830.8h0M261.7 847.5h0M229.9 819.2h0M258.8 942.4h0M209.4 810.7h0M202.2 941.3h0M257.0 853.2h0M281.6 863.7h0M241.5 852.4h0M248.3 958.8h0M212.5 820.7h0M190.2 844.5h0M219.0 735.3h0M264.2 896.2h0M176.2 752.9h0M212.0 821.8h0M174.8 883.2h0M227.8 825.3h0M247.8 887.6h0M192.4 807.9h0M214.2 813.8h0M259.6 875.6h0M222.6 889.8h0M192.5 822.7h0M190.5 815.6h0M172.2 768.8h0M245.2 777.5h0M205.4 830.2h0M252.4 846.6h0M247.6 864.2h0M207.6 879.7h0M211.1 870.0h0M245.3 811.6h0M228.8 849.9h0M231.9 853.2h0M181.8 802.4h0M248.4 756.2h0M202.0 787.7h0M165.5 802.5h0M208.8 865.3h0M236.0 827.8h0M279.8 831.9h0M215.2 899.1h0M190.1 814.2h0M280.5 871.2h0M229.1 864.3h0M218.1 866.3h0M196.8 815.2h0M198.6 794.8h0M263.6 841.6h0M217.8 871.4h0M210.8 819.4h0M211.6 852.3h0M266.0 788.3h0M209.5 803.7h0M241.4 828.3h0M231.9 817.7h0M231.2 755.0h0M202.0 801.9h0M242.2 923.0h0M267.0 883.8h0M223.6 810.0h0M200.8 789.7h0M191.1 758.3h0M229.9 847.7h0M217.8 795.7h0M222.2 814.5h0M225.2 879.8h0M186.3 864.1h0M245.4 879.1h0M231.1 766.8h0M223.0 807.7h0M231.0 897.5h0M249.2 800.6h0M226.3 898.5h0M202.7 819.3h0M255.5 903.5h0M213.6 808.5h0M205.9 772.9h0M184.0 769.4h0M225.1 907.5h0M197.5 804.4h0M211.3 773.1h0M236.7 882.7h0M225.8 767.8h0M251.5 845.0h0M232.9 855.1h0M214.3 841.6h0M216.3 849.7h0M211.6 821.0h0M241.8 740.1h0M225.5 845.3h0M214.2 824.1h0M247.0 839.5h0M227.4 859.5h0M212.7 866.1h0M185.3 823.7h0M236.4 915.6h0M231.2 942.1h0M226.3 847.9h0M213.6 811.1h0M203.1 765.7h0M219.0 859.2h0M231.0 761.1h0M221.6 916.2h0M221.1 881.4h0M212.7 803.1h0M233.8 873.6h0M231.0 799.5h0M205.2 774.9h0M244.8 885.5h0M245.6 804.1h0M246.2 859.6h0M221.5 824.6h0M219.8 909.6h0M194.6 833.0h0M244.7 924.3h0M169.0 852.9h0M214.7 793.9h0M216.0 777.8h0M247.3 759.2h0M224.9 833.3h0M199.7 700.5h0M187.6 778.6h0M205.8 719.3h0M227.7 807.6h0M226.4 870.0h0M219.7 792.0h0M207.0 798.7h0M219.4 809.4h0M251.0 864.4h0M196.1 754.1h0M225.8 837.4h0M267.3 863.4h0M239.4 798.1h0M213.0 783.5h0M242.2 905.1h0M205.2 859.3h0M225.1 854.0h0M265.6 831.2h0M274.5 863.5h0M180.2 754.6h0M243.2 770.0h0M275.9 860.6h0M210.6 798.1h0M231.7 783.2h0M264.4 813.4h0M212.0 843.1h0M236.8 819.5h0M223.4 763.6h0M174.5 913.1h0M234.0 763.7h0M220.1 838.9h0M249.2 806.7h0M279.7 917.3h0M242.8 846.1h0M215.3 878.9h0M236.7 835.8h0M230.2 802.6h0M251.7 921.9h0M187.3 809.7h0M194.4 806.3h0M171.4 799.4h0M240.8 811.3h0M224.4 848.7h0M208.2 908.3h0M205.9 898.5h0M209.9 837.9h0M200.6 852.2h0M216.5 865.4h0M212.0 796.9h0M261.3 931.5h0M233.4 848.9h0M203.5 742.4h0M209.6 854.9h0M256.3 817.0h0M236.8 853.9h0M232.6 871.0h0M243.8 830.9h0M266.4 879.2h0M193.1 885.8h0M205.4 761.9h0M179.4 728.8h0M237.9 834.2h0M215.0 814.9h0M207.3 925.9h0M205.0 872.4h0M243.0 870.1h0M221.2 824.2h0M211.0 741.0h0M257.8 801.0h0M197.5 802.4h0M191.8 822.6h0M292.8 901.0h0M215.3 829.7h0M210.7 859.1h0M205.9 790.0h0M221.3 810.3h0M245.4 804.1h0M244.6 905.1h0M239.2 754.4h0M217.6 857.1h0M185.9 851.4h0M232.3 749.1h0M264.7 843.1h0M252.9 905.0h0M220.5 789.3h0M245.9 820.5h0M214.8 822.2h0M223.5 896.8h0M192.6 845.7h0M216.7 796.1h0M228.6 774.0h0M220.5 763.4h0M245.1 860.1h0M274.2 785.4h0M259.5 832.8h0M216.9 855.5h0M205.8 768.1h0M207.8 806.3h0M199.3 811.0h0M225.8 868.8h0M235.9 779.8h0M229.7 835.0h0M230.0 830.0h0M229.1 836.0h0M221.5 760.6h0M205.5 844.7h0M270.1 834.4h0M252.3 844.7h0M201.1 780.7h0M201.2 915.7h0M209.6 823.0h0M225.8 934.8h0M257.9 829.0h0M251.5 837.3h0M252.9 922.4h0M253.4 835.4h0M253.9 873.0h0M244.2 901.2h0M236.8 821.8h0M221.8 799.2h0M179.3 796.9h0M221.5 880.2h0M272.1 892.4h0M210.8 888.8h0M208.5 809.4h0M251.6 829.3h0M227.0 783.4h0M212.4 809.9h0M265.7 839.5h0M241.3 835.6h0M244.8 804.1h0M210.1 791.2h0M237.9 825.2h0M234.8 885.7h0M245.3 829.9h0M255.0 828.6h0M254.4 903.1h0M229.4 901.3h0M243.0 829.6h0M194.9 803.2h0M241.8 765.0h0M242.8 776.6h0M214.7 821.7h0M204.7 891.0h0M223.4 921.4h0M193.2 856.7h0M233.8 815.2h0M232.6 860.9h0M200.1 754.5h0M226.2 827.1h0M252.9 801.3h0M252.7 850.4h0M251.4 919.9h0M221.0 934.6h0M216.1 835.1h0M214.7 844.2h0M240.4 770.8h0M286.5 873.0h0M261.7 931.9h0M266.4 920.9h0M260.3 899.4h0M182.7 832.5h0M219.7 910.8h0M213.6 812.7h0M257.6 847.3h0M269.1 976.6h0M207.5 784.2h0M225.9 853.5h0M239.5 824.0h0M212.1 900.3h0M208.5 809.7h0M207.2 805.7h0M248.1 833.6h0M201.1 859.8h0M254.6 810.6h0M227.2 768.9h0M244.6 838.6h0M265.4 849.1h0M207.4 848.4h0M203.5 803.8h0M236.1 811.9h0M197.9 830.2h0M205.8 841.7h0M221.9 881.4h0M229.0 835.2h0M192.4 736.5h0M214.9 822.3h0M240.2 840.5h0M260.1 853.7h0M173.6 833.8h0M259.1 845.1h0M248.0 902.8h0M196.6 802.9h0M186.5 884.8h0M235.8 790.5h0M214.0 724.0h0M228.5 791.8h0M247.4 968.2h0M215.2 813.7h0M229.2 828.1h0M237.3 851.7h0M248.1 829.0h0M270.9 883.4h0M269.3 874.1h0M231.2 935.5h0M218.8 889.5h0M286.8 911.5h0M241.6 878.0h0M236.1 869.3h0M196.2 770.1h0M245.2 902.0h0M204.7 793.1h0M213.0 865.9h0M190.1 820.1h0M211.4 871.4h0M226.5 905.3h0M185.8 842.9h0M201.6 798.3h0M222.9 816.7h0M192.0 844.4h0M192.3 796.9h0M203.3 803.3h0M188.3 807.7h0M240.9 827.0h0M199.0 845.3h0M245.0 826.4h0M249.0 852.6h0M193.7 784.2h0M226.0 758.7h0M212.4 866.4h0M195.3 868.0h0M216.2 805.2h0M218.6 870.1h0M243.5 859.8h0M251.7 802.5h0M196.2 879.2h0M214.3 740.9h0M238.8 838.2h0M255.7 891.4h0M161.2 755.9h0M258.3 934.3h0M220.5 804.2h0M264.9 925.3h0M213.9 817.3h0M203.2 856.6h0M226.1 830.2h0M255.5 960.0h0M225.7 854.0h0M163.3 859.7h0M242.8 882.1h0M182.9 821.8h0M199.4 808.2h0M194.6 838.7h0M176.9 863.3h0M192.2 864.9h0M199.1 848.7h0M208.9 818.5h0M223.5 870.0h0M216.2 786.4h0M186.2 813.1h0M220.2 744.1h0M250.4 823.5h0M249.7 844.9h0M228.4 776.3h0M241.1 796.6h0M248.3 898.9h0M260.6 888.1h0M269.3 925.3h0M216.5 891.2h0M217.8 864.8h0M263.5 906.1h0M265.8 883.8h0M265.3 929.9h0M163.6 741.9h0M219.2 823.9h0M139.7 856.0h0M244.0 892.1h0M226.4 839.5h0M226.3 821.8h0M221.3 877.7h0M259.0 854.5h0M217.2 783.1h0M252.0 913.7h0M239.4 828.7h0M234.3 850.9h0M237.0 774.6h0M227.8 728.2h0M196.3 844.8h0M243.7 929.9h0M243.6 751.7h0M221.2 811.0h0M244.0 877.8h0M248.5 861.8h0M191.4 821.3h0M221.2 831.2h0M213.3 787.6h0M201.2 881.2h0M233.4 890.9h0M202.8 843.1h0M213.5 731.1h0M231.3 923.7h0M234.1 838.3h0M233.3 868.5h0M283.4 969.6h0M211.7 896.6h0M231.5 835.1h0M193.4 876.5h0M237.5 875.1h0M255.1 833.5h0M256.7 866.4h0M208.3 750.9h0M217.6 764.3h0M258.0 870.8h0M222.5 907.2h0M250.0 812.2h0M199.5 885.9h0M261.1 871.9h0M251.8 940.8h0M237.1 828.1h0M204.0 961.0h0M220.7 857.4h0M228.9 827.7h0M231.8 853.5h0M222.2 756.1h0M219.2 851.0h0M230.0 825.0h0M261.5 890.6h0M172.4 796.7h0M189.0 701.3h0M184.5 704.2h0M206.9 797.4h0M179.4 759.0h0M239.4 890.8h0M227.4 790.8h0M218.3 855.1h0M207.1 817.8h0M229.0 916.5h0M229.6 842.4h0M233.6 850.9h0M205.8 781.1h0M241.9 866.0h0M186.5 852.0h0M257.6 854.6h0M144.4 839.5h0M209.4 781.6h0M193.4 808.8h0M245.6 870.4h0M186.0 801.6h0M272.6 935.0h0M184.5 849.5h0M278.0 860.9h0M236.6 802.9h0M225.7 834.2h0M236.3 811.3h0M282.3 877.7h0M248.3 803.9h0M166.5 850.0h0M256.2 867.1h0M231.0 854.4h0M182.6 858.3h0M244.8 751.2h0M193.2 820.1h0M229.7 827.0h0M231.0 874.6h0M207.9 852.5h0M241.9 873.7h0M198.2 889.6h0M229.9 758.4h0M210.6 781.2h0M220.1 895.6h0M275.3 946.2h0M227.9 801.9h0M196.5 879.8h0M221.9 879.2h0M204.8 765.4h0M225.6 809.3h0M229.2 855.1h0M227.1 832.6h0M227.1 926.6h0M210.7 859.2h0M236.7 889.4h0M252.6 827.5h0M208.7 773.4h0M223.4 807.8h0M226.5 908.4h0M257.7 946.1h0M253.2 821.5h0M205.8 817.9h0M226.8 729.9h0M185.8 884.1h0M199.6 767.5h0M225.3 882.1h0M241.4 911.3h0M249.9 796.6h0M216.8 792.7h0M189.5 855.6h0M235.3 911.2h0M220.4 809.4h0M236.0 797.5h0M229.1 855.4h0M243.7 911.8h0M242.1 799.4h0M247.0 816.8h0M212.9 889.1h0M251.0 863.7h0M211.8 791.9h0M227.1 835.5h0M273.6 902.4h0M234.3 893.9h0M194.4 834.4h0M263.9 865.2h0M251.1 782.7h0M254.8 884.6h0M230.1 864.7h0M234.0 850.8h0M218.8 831.3h0M206.6 830.6h0M265.0 914.6h0M215.3 812.7h0M212.3 775.8h0M213.3 875.7h0M273.7 863.2h0M247.9 838.4h0M215.3 851.7h0M223.7 822.5h0M238.3 839.7h0M247.9 803.4h0M182.8 883.2h0M248.6 794.7h0M219.2 899.6h0M207.0 770.4h0M214.7 797.9h0M245.7 830.6h0M271.0 917.3h0M228.8 846.8h0M239.5 824.1h0M203.6 769.4h0M237.8 894.3h0M246.5 850.3h0M186.0 837.1h0M211.5 818.1h0M245.6 827.1h0M178.9 847.7h0M215.1 844.0h0M240.6 903.2h0M180.7 822.8h0M214.5 768.0h0M226.4 875.4h0M248.2 852.9h0M191.4 806.9h0M254.0 724.5h0M232.9 802.6h0M256.3 866.2h0M255.4 830.7h0M233.8 853.0h0M237.6 873.8h0M179.4 811.0h0M189.6 776.2h0M198.6 843.3h0M215.8 848.1h0M249.4 841.0h0M178.2 730.8h0M216.5 776.6h0M190.3 859.4h0M184.1 802.5h0M263.6 790.5h0M227.5 827.4h0M267.7 872.0h0M255.9 890.0h0M200.8 844.1h0M176.4 830.8h0M279.1 855.8h0M214.3 756.4h0M195.0 791.7h0M243.0 915.1h0M228.5 771.6h0M207.3 871.4h0M215.9 764.5h0M229.1 780.9h0M226.9 839.5h0M244.7 812.6h0M215.7 817.3h0M215.9 779.0h0M240.6 850.0h0M233.1 882.9h0M253.6 793.0h0M218.4 858.0h0M222.3 851.1h0M194.7 859.3h0M264.2 769.8h0M188.4 862.6h0M230.2 787.3h0M201.6 809.4h0M233.8 819.6h0M244.4 803.4h0M182.0 774.8h0M219.4 798.5h0M178.9 819.0h0M261.7 898.5h0M213.3 813.2h0M183.6 854.2h0M206.5 829.8h0M259.3 916.0h0M263.9 809.3h0M258.2 865.0h0M204.4 819.2h0M220.9 836.5h0M267.7 886.1h0M205.8 864.7h0M216.2 834.3h0M199.9 846.5h0M194.4 804.3h0M256.5 850.1h0M241.4 817.1h0M236.7 895.3h0M240.1 883.0h0M251.7 915.6h0M264.5 845.6h0M224.7 824.5h0M216.0 945.9h0M198.1 875.1h0M253.3 792.8h0M211.4 863.5h0M185.8 830.9h0M217.9 813.7h0M225.6 820.8h0M246.7 812.1h0M251.2 829.5h0M205.8 789.2h0M204.0 771.6h0M216.3 811.0h0M193.2 778.5h0M222.0 868.0h0M237.0 893.4h0M226.0 826.2h0M182.7 797.0h0M193.7 849.9h0M258.6 853.2h0M198.4 920.9h0M244.3 734.3h0M241.5 744.9h0M216.5 780.8h0M198.8 843.6h0M230.4 876.3h0M201.7 799.8h0M220.3 830.0h0M227.7 821.7h0M206.2 847.9h0M219.0 929.7h0M216.8 731.6h0M192.6 928.3h0M219.9 885.0h0M208.2 810.2h0M177.2 836.2h0M216.1 826.3h0M217.5 853.6h0M209.1 849.2h0M170.9 849.5h0M245.2 805.0h0M242.8 876.8h0M242.0 816.9h0M233.4 825.7h0M192.0 858.7h0M228.1 816.3h0M200.6 836.0h0M282.2 907.1h0M211.3 830.4h0M242.4 793.8h0M184.3 839.3h0M194.0 826.8h0M210.9 936.0h0M243.3 802.2h0M239.3 897.4h0M232.5 820.4h0M176.4 797.3h0M254.5 937.5h0M200.7 814.8h0M267.2 909.1h0M273.8 884.4h0M246.5 811.0h0M250.8 843.2h0M191.9 798.2h0M292.5 909.8h0M230.6 930.1h0M251.1 877.1h0M202.5 748.2h0M223.2 927.2h0M193.8 838.2h0M218.6 877.8h0M225.3 914.2h0M231.6 803.5h0M261.5 880.2h0M237.5 836.0h0M231.3 823.2h0M225.9 821.7h0M277.6 889.5h0M209.8 887.5h0M256.0 897.5h0M173.6 825.7h0M201.9 885.9h0M235.7 743.2h0M220.7 833.5h0M303.7 985.8h0M292.5 931.8h0M185.1 890.2h0M196.9 829.1h0M221.2 903.7h0M270.5 867.1h0M254.7 892.6h0M233.5 845.7h0M187.9 805.3h0M202.8 850.9h0M154.7 835.3h0M184.7 776.8h0M236.1 891.6h0M245.7 838.1h0M190.9 822.8h0M227.8 722.7h0M267.6 869.6h0M229.3 756.6h0M217.0 876.3h0M241.1 812.9h0M238.9 825.4h0M227.2 828.5h0M211.0 770.6h0M213.9 829.8h0M227.4 784.5h0M210.7 817.6h0M260.0 905.7h0M248.4 916.1h0M253.5 926.5h0M278.1 876.9h0M266.4 830.0h0M262.2 889.6h0M234.8 920.0h0M220.0 794.7h0M285.3 955.7h0M207.4 819.0h0M208.8 713.5h0M202.3 826.1h0M230.7 931.5h0M236.0 879.9h0M252.0 908.7h0M219.1 852.8h0M179.6 741.1h0M233.4 740.2h0M250.5 808.7h0M225.9 818.8h0M221.5 789.9h0M239.8 810.5h0M262.5 904.3h0M223.3 909.1h0M187.8 743.9h0M210.2 781.1h0M220.7 827.5h0M177.9 803.1h0M245.2 749.1h0M204.9 960.1h0M238.3 880.5h0M230.1 856.9h0M216.8 748.0h0M267.6 885.8h0M210.3 776.4h0M207.4 852.4h0M232.6 855.1h0M246.9 852.0h0M224.9 857.6h0M199.2 796.1h0M243.1 856.0h0M240.8 743.2h0M279.3 922.5h0M219.2 823.0h0M230.5 955.8h0M210.1 831.7h0M186.0 714.8h0M226.9 914.4h0M247.2 819.3h0M198.4 772.3h0M207.3 822.5h0M194.2 887.2h0M260.0 951.0h0M208.4 808.6h0M240.1 856.0h0M202.3 834.5h0M226.9 807.9h0M208.6 803.7h0M163.5 800.1h0M227.0 832.7h0M238.7 898.8h0M170.4 726.3h0M220.4 857.2h0M213.6 848.1h0M196.7 892.7h0M218.3 813.9h0M174.1 794.1h0M231.5 843.7h0M256.0 834.1h0M191.9 791.8h0M223.2 804.7h0M262.2 836.5h0M228.1 792.5h0M211.3 800.5h0M201.1 787.9h0M229.6 805.7h0M221.4 774.9h0M241.5 894.4h0M185.1 830.8h0M253.1 852.2h0M214.4 781.6h0M241.7 878.7h0M206.0 812.9h0M190.9 811.6h0M210.1 829.9h0M199.9 815.3h0M215.1 880.3h0M241.9 811.8h0M253.2 827.0h0M230.3 844.6h0M210.8 816.9h0M213.1 856.3h0M240.4 891.9h0M254.7 924.1h0M216.5 879.7h0M221.6 819.8h0M205.2 815.9h0M230.3 821.4h0M250.0 910.4h0M148.8 791.2h0M231.6 802.1h0M210.5 781.7h0M164.0 847.0h0M233.1 802.4h0M222.6 720.3h0M234.6 877.7h0M189.2 834.0h0M280.9 926.1h0M227.8 887.9h0M215.9 856.4h0M264.8 887.0h0M242.0 848.3h0M246.7 816.7h0M255.4 768.5h0M170.7 725.4h0M268.6 890.7h0M215.8 871.9h0M232.4 840.6h0M249.1 819.7h0M206.3 858.5h0M233.2 838.3h0M244.9 848.5h0M223.8 818.4h0M237.9 793.7h0M182.9 771.0h0M193.7 839.3h0M194.8 904.1h0M234.6 928.4h0M322.9 896.7h0M231.8 862.9h0M221.0 828.3h0M223.2 841.7h0M250.7 875.0h0M243.6 894.5h0M194.9 770.8h0M251.5 938.9h0M224.3 828.8h0M246.4 808.8h0M172.6 928.3h0M184.2 776.9h0M240.5 843.4h0M177.8 781.0h0M235.1 902.6h0M233.8 727.1h0M228.7 855.3h0M234.2 773.8h0M231.9 918.3h0M236.6 943.3h0M214.3 874.8h0M224.3 801.6h0M301.6 985.8h0M254.7 956.0h0M240.9 859.1h0M235.2 825.7h0M205.9 901.5h0M230.9 782.4h0M218.5 818.6h0M249.7 850.1h0M201.0 828.7h0M163.1 866.8h0M210.2 820.1h0M243.2 800.9h0M289.3 855.0h0M251.8 848.1h0M199.3 846.5h0M219.2 882.6h0M200.0 855.1h0M220.0 773.5h0M201.4 853.0h0M181.9 785.5h0M236.6 909.1h0M230.0 825.0h0M220.4 820.1h0M234.0 817.1h0M278.2 931.8h0M228.0 831.8h0M215.0 957.3h0M247.6 910.3h0M181.9 764.1h0M244.7 846.7h0M204.6 879.8h0M203.5 866.2h0M227.8 869.4h0M268.7 885.3h0M205.4 759.0h0M249.9 790.1h0M234.8 884.1h0M188.5 789.9h0M248.9 853.2h0M203.3 858.1h0M186.4 735.6h0M204.2 743.6h0M205.9 853.7h0M240.4 820.8h0M205.8 809.7h0M264.0 922.7h0M230.7 827.2h0M206.1 821.9h0M203.1 838.9h0M230.9 765.5h0M171.8 901.8h0M167.9 830.9h0M201.8 799.2h0M241.4 904.4h0M229.6 798.4h0M225.5 805.9h0M219.3 779.3h0M167.9 798.3h0M216.4 798.1h0M178.4 826.5h0M246.8 821.9h0M224.7 848.3h0M222.6 856.5h0M235.4 862.0h0M233.4 859.8h0M231.0 842.5h0M234.0 805.5h0M209.5 741.5h0M190.0 835.8h0M233.9 780.9h0M262.8 882.4h0M251.4 851.2h0M219.3 828.7h0M240.9 845.1h0M213.4 858.5h0M235.0 799.8h0M209.0 842.4h0M228.6 893.0h0M277.3 921.9h0M245.1 904.8h0M264.2 854.9h0M204.7 819.5h0M207.0 920.2h0M223.9 860.5h0M239.5 857.6h0M219.5 883.9h0M251.4 817.3h0M210.5 820.3h0M260.5 885.1h0M250.3 849.8h0M195.7 898.6h0M240.2 867.5h0M219.1 877.8h0M251.6 819.4h0M210.8 825.6h0M233.1 838.1h0M239.2 871.2h0M152.8 829.5h0M175.7 810.8h0M228.3 867.2h0M221.6 935.7h0M251.5 855.1h0M230.8 810.7h0M191.6 881.9h0M233.5 915.4h0M205.3 833.8h0M218.9 882.1h0M211.6 740.6h0M234.0 865.5h0M187.7 808.0h0M195.6 930.5h0M166.7 820.5h0M281.0 964.7h0M198.8 813.0h0M202.3 810.9h0M194.7 796.5h0M208.0 776.0h0M213.4 804.3h0M241.0 902.4h0M229.5 773.4h0M233.5 845.3h0M209.4 885.3h0M223.0 847.5h0M256.8 886.2h0M224.3 853.1h0M232.9 867.7h0M171.8 729.0h0M238.4 919.5h0M231.7 858.5h0M258.6 838.4h0M152.9 791.0h0M225.5 829.5h0M221.6 869.5h0M226.9 787.0h0M208.2 773.1h0M230.1 783.6h0M243.0 894.2h0M225.7 797.6h0M216.8 837.5h0M218.9 783.8h0M214.3 826.3h0M225.5 814.9h0M205.7 794.0h0M172.3 871.5h0M259.9 868.3h0M178.4 772.7h0M221.2 947.7h0M190.1 778.3h0M216.8 781.6h0M199.0 751.1h0M223.1 916.8h0M202.2 834.9h0M190.2 836.6h0M232.2 897.7h0M259.1 869.1h0M233.2 879.4h0M226.9 921.8h0M196.5 835.2h0M221.8 877.3h0M235.7 854.5h0M206.9 834.5h0M247.5 923.1h0M222.9 866.6h0M233.2 856.7h0M210.9 748.7h0M211.1 791.0h0M229.6 810.4h0M233.9 841.4h0M232.9 861.8h0M197.2 830.9h0M204.6 818.4h0M223.2 854.2h0M175.1 832.6h0M251.1 901.4h0M232.0 766.4h0M224.7 890.0h0M205.0 924.7h0M245.1 908.6h0M216.5 813.4h0M273.4 843.9h0M233.9 839.2h0M184.6 888.2h0M242.7 863.3h0M209.8 743.1h0M210.0 688.4h0M217.3 843.0h0M220.2 947.1h0M230.2 772.4h0M243.5 822.0h0M235.4 843.5h0M204.5 841.2h0M188.1 864.1h0M202.4 755.8h0M232.9 845.8h0M246.2 822.3h0M270.6 915.4h0M188.2 837.2h0M225.5 893.2h0M217.4 778.6h0M212.9 780.7h0M227.0 805.6h0M216.9 809.6h0M216.4 799.1h0M206.5 770.9h0M233.7 815.1h0M251.0 784.9h0M266.1 916.8h0M209.6 804.5h0M195.8 764.8h0M216.5 837.7h0M201.5 752.9h0M250.3 870.6h0M201.9 806.1h0M225.3 921.0h0M188.2 843.8h0M214.2 794.3h0M228.4 882.2h0M263.4 870.6h0M205.2 858.0h0M233.0 708.3h0M169.0 788.0h0M191.7 797.2h0M202.0 888.7h0M210.3 779.4h0M234.6 857.5h0M239.9 835.7h0M181.2 753.1h0M237.2 817.3h0M194.1 846.2h0M271.3 865.9h0M231.5 829.6h0M227.3 830.9h0M218.6 833.3h0M222.4 847.7h0M223.3 828.3h0M205.2 759.8h0M242.8 835.9h0M230.3 840.1h0M242.9 926.0h0M221.6 788.4h0M241.1 921.4h0M203.4 798.1h0M316.6 973.4h0M204.7 734.4h0M211.6 812.9h0M248.4 750.5h0M255.5 795.0h0M202.4 801.4h0M179.7 835.7h0M186.6 780.0h0M197.2 829.9h0M202.7 785.2h0M218.9 910.7h0M250.2 826.0h0M251.5 943.7h0M207.2 914.4h0M237.3 802.0h0M246.3 873.9h0M260.0 840.4h0M219.0 904.1h0M203.7 837.3h0M242.8 933.0h0M262.8 855.1h0M209.5 810.8h0M274.2 845.7h0M268.2 875.0h0M216.3 848.7h0M182.1 813.8h0M207.5 837.9h0M214.0 865.5h0M237.1 836.6h0M179.4 782.7h0M286.8 861.7h0M284.4 873.6h0M204.2 806.6h0M174.4 862.6h0M218.7 876.6h0M234.2 807.8h0M258.4 888.4h0M241.8 805.9h0M217.8 872.0h0M171.6 738.8h0M236.5 890.7h0M245.2 838.9h0M215.0 839.3h0M230.3 831.2h0M228.4 790.5h0M216.7 834.0h0M192.8 816.4h0M232.0 876.8h0M185.9 846.8h0M259.7 920.6h0M199.5 849.0h0M235.9 792.2h0M203.9 863.0h0M233.0 787.5h0M217.5 798.4h0M237.0 843.9h0M202.3 785.6h0M180.3 794.6h0M215.6 880.9h0M213.8 801.0h0M183.6 774.7h0M204.9 767.7h0M179.2 948.5h0M226.0 814.9h0M213.2 827.9h0M223.4 834.3h0M291.1 956.7h0M227.1 810.6h0M232.7 800.5h0M239.4 826.9h0M219.3 797.1h0M207.5 763.2h0M246.0 769.2h0M249.9 853.0h0M146.6 781.8h0M218.7 902.0h0M214.1 805.2h0M208.2 808.9h0M255.4 916.7h0M208.9 753.2h0M245.5 888.3h0M208.7 789.5h0M212.2 778.2h0M242.0 864.4h0M203.6 828.0h0M218.7 781.8h0M194.0 830.5h0M199.7 901.0h0M241.8 887.3h0M238.2 848.0h0M192.9 793.5h0M191.9 812.7h0M289.5 929.8h0M206.0 813.5h0M200.0 844.7h0M236.3 891.4h0M202.5 758.8h0M213.3 835.6h0M246.2 874.5h0M249.0 839.4h0M217.7 802.1h0M257.9 931.6h0M219.1 826.2h0M216.5 824.7h0M222.7 809.4h0M214.8 814.9h0M236.6 828.4h0M230.2 832.3h0M202.5 758.2h0M227.5 767.3h0M208.6 798.0h0M207.7 809.4h0M219.2 805.7h0M249.5 887.5h0M230.1 834.8h0M256.0 893.4h0M263.7 876.2h0M221.9 737.1h0M207.0 848.6h0M202.2 896.7h0M230.1 843.9h0M245.5 844.7h0M264.3 818.2h0M188.6 827.6h0M247.0 805.6h0M250.9 779.1h0M286.7 911.7h0M227.8 878.6h0M222.1 819.4h0M183.2 805.2h0M202.6 792.8h0M194.1 900.5h0M196.5 838.5h0M199.4 805.1h0M182.9 799.8h0M220.6 837.3h0M233.1 895.0h0M243.0 822.8h0M220.5 793.3h0M250.7 867.6h0M251.0 846.6h0M183.4 750.6h0M216.0 822.2h0M190.4 802.1h0M197.5 801.3h0M228.0 842.0h0M219.9 842.0h0M261.5 940.3h0M276.8 912.0h0M234.2 882.4h0M218.2 809.9h0M219.4 829.5h0M222.9 803.5h0M238.2 812.7h0M204.1 865.6h0M238.6 944.6h0M216.9 864.9h0M251.0 872.5h0M259.0 886.4h0M268.8 909.7h0M219.3 826.1h0M188.0 811.6h0M179.3 844.2h0M215.8 909.7h0M186.3 817.4h0M180.3 741.3h0M214.2 867.9h0M197.7 829.0h0M241.5 811.3h0M274.2 844.7h0M217.6 695.4h0M231.7 804.9h0M182.3 802.6h0M228.3 861.5h0M205.2 819.7h0M194.8 775.7h0M174.9 791.7h0M265.5 868.3h0M181.4 843.0h0M192.0 831.1h0M223.9 876.8h0M231.2 756.5h0M231.4 847.3h0M226.6 849.0h0M200.4 780.4h0M243.8 856.3h0M228.8 813.8h0M185.8 762.5h0M265.7 814.2h0M214.9 855.8h0M248.6 879.9h0M185.8 871.7h0M192.7 856.7h0M208.9 850.2h0M205.8 778.1h0M250.4 843.5h0M181.4 800.7h0M228.2 933.9h0M197.4 782.6h0M237.5 788.1h0M229.4 794.5h0M209.5 878.2h0M282.2 867.6h0M222.8 871.0h0M252.7 833.1h0M189.2 870.7h0M220.8 766.8h0M226.3 815.9h0M227.7 866.8h0M215.0 818.2h0M202.4 784.0h0M143.1 876.0h0M209.2 766.1h0M200.1 784.9h0M217.4 888.8h0M246.6 931.8h0M282.2 892.0h0M238.1 790.2h0M250.8 799.5h0M240.7 808.6h0M243.3 842.3h0M239.7 911.1h0M217.4 877.2h0M215.8 879.2h0M233.0 818.3h0M271.5 911.4h0M244.9 888.8h0M266.6 910.6h0M190.5 815.6h0M231.4 821.0h0M235.0 897.7h0M238.2 921.0h0M188.6 806.3h0M176.3 830.0h0M169.0 866.8h0M214.2 906.7h0M286.0 967.5h0M230.3 839.3h0M193.0 885.3h0M233.6 790.0h0M216.8 737.6h0M229.2 819.2h0M212.9 846.3h0M190.8 753.9h0M210.8 820.1h0M243.5 856.2h0M232.8 838.2h0M256.8 872.6h0M196.8 879.0h0M252.4 843.6h0M226.6 816.0h0M230.1 866.3h0M257.7 912.5h0M221.7 814.2h0M231.9 908.1h0M242.0 884.3h0M242.3 830.3h0M246.6 847.9h0M259.2 828.9h0M239.3 879.5h0M214.0 833.4h0M289.6 976.7h0M224.8 726.2h0M235.5 790.6h0M206.1 802.6h0M168.6 836.4h0M205.4 808.4h0M227.5 806.0h0M239.7 866.2h0M226.5 817.5h0M246.6 861.9h0M251.8 899.3h0M251.7 903.1h0M226.0 770.1h0M228.1 805.5h0M220.3 854.9h0M203.0 814.9h0M263.3 834.2h0M193.4 850.5h0M224.1 838.3h0M231.9 862.6h0M170.0 856.9h0M245.4 833.2h0M216.8 883.3h0M231.8 848.3h0M217.3 844.2h0M185.8 869.6h0M231.1 771.8h0M228.8 768.4h0M252.1 807.5h0M238.4 887.8h0M182.0 820.0h0M254.8 834.4h0M246.9 807.3h0M246.1 779.3h0M238.7 859.0h0M207.6 823.7h0M240.0 864.4h0M216.5 877.3h0M301.5 968.4h0M219.8 900.7h0M197.0 802.9h0M217.1 906.5h0M263.7 887.6h0M211.1 804.4h0M162.1 815.7h0M264.5 959.5h0M234.6 789.0h0M213.1 802.7h0M244.8 830.7h0M201.9 830.9h0M195.3 822.1h0M251.0 940.4h0M212.6 818.7h0M240.0 878.4h0M226.4 814.2h0M247.9 805.1h0M228.9 830.2h0M172.4 799.1h0M243.9 881.7h0M213.6 895.4h0M249.2 833.0h0M229.0 892.3h0M263.3 824.3h0M217.8 917.2h0M172.2 748.3h0M217.6 808.7h0M239.5 856.3h0M217.1 813.8h0M213.8 780.9h0M264.6 900.9h0M222.0 790.9h0M253.6 902.7h0M229.9 776.9h0M188.1 869.3h0M201.4 864.2h0M217.8 856.5h0M234.0 892.5h0M204.8 814.1h0M189.0 812.9h0M199.4 879.8h0M212.3 783.5h0M202.8 810.3h0M210.7 816.3h0M274.7 870.3h0M233.3 827.1h0M204.5 721.3h0M225.7 832.5h0M267.2 882.2h0M242.9 906.7h0M223.3 872.4h0M190.4 790.8h0M181.4 800.1h0M217.0 789.6h0M223.1 816.7h0M183.3 787.0h0M190.8 871.9h0M224.8 851.8h0M167.8 837.5h0M180.7 795.6h0M224.5 825.7h0M240.5 869.0h0M234.2 806.0h0M252.0 878.4h0M267.1 910.2h0M249.3 826.7h0M218.9 828.8h0M281.7 857.6h0M270.0 945.5h0M250.5 873.9h0M204.7 878.4h0M236.5 831.6h0M171.2 771.8h0M217.3 824.8h0M160.8 876.9h0M215.0 909.6h0M252.9 893.3h0M226.6 833.8h0M268.4 890.9h0M226.1 890.0h0M228.8 794.3h0M218.2 876.0h0M240.1 810.9h0M225.3 848.2h0M257.7 896.0h0M268.5 885.7h0M236.0 846.7h0M196.8 886.8h0M241.0 829.0h0M261.8 850.2h0M243.4 809.6h0M234.0 850.3h0M251.0 891.7h0M260.9 858.7h0M158.0 726.1h0M266.2 891.2h0M246.7 882.2h0M239.0 809.3h0M211.9 817.8h0M232.4 841.0h0M242.4 815.3h0M187.6 830.2h0M246.1 853.8h0M228.3 789.5h0M264.9 756.1h0M244.2 810.3h0M221.9 903.9h0M227.9 897.2h0M243.3 834.0h0M230.4 794.1h0M240.8 916.2h0M207.8 861.6h0M193.8 883.0h0M211.5 918.9h0M189.1 839.7h0M206.1 828.6h0M235.8 810.4h0M183.7 821.6h0M194.3 777.8h0M245.7 902.3h0M212.6 818.2h0M226.2 913.7h0M194.1 804.3h0M199.1 844.0h0M218.5 798.5h0M269.2 914.7h0M238.1 809.4h0M182.6 881.4h0M238.2 871.4h0M250.6 778.0h0M244.6 791.6h0M194.4 831.2h0M224.8 831.7h0M282.1 968.4h0M202.0 785.7h0M235.2 832.3h0M206.8 824.2h0M193.2 830.3h0M215.2 915.2h0M253.5 851.8h0M256.9 794.1h0M203.4 903.2h0M214.1 850.6h0M203.2 761.3h0M172.1 782.0h0M242.4 833.6h0M267.3 876.7h0M265.8 907.8h0M214.3 818.5h0M261.3 842.5h0M255.2 817.9h0M217.8 823.3h0M226.5 839.2h0M217.0 854.4h0M232.9 750.5h0M274.2 844.5h0M202.4 847.6h0M195.4 905.6h0M249.6 897.8h0M228.3 742.3h0M177.2 731.2h0M200.3 851.2h0M205.1 825.7h0M210.8 829.7h0M235.2 935.7h0M252.9 811.8h0M222.6 894.9h0M230.7 843.7h0M207.4 800.3h0M253.6 770.1h0M262.1 816.6h0M220.0 908.5h0M207.5 829.4h0M281.2 927.7h0M251.2 883.2h0M203.6 816.2h0M182.7 858.2h0M219.3 847.7h0M258.4 852.6h0M212.7 814.1h0M220.6 801.7h0M214.1 843.3h0M244.1 839.7h0M263.6 919.3h0M194.1 805.5h0M219.5 793.6h0M221.8 755.4h0M210.8 866.3h0M195.8 940.2h0M248.6 849.5h0M231.2 746.6h0M246.0 896.2h0M266.8 842.8h0M217.6 866.5h0M241.3 864.3h0M216.6 867.0h0M224.8 840.6h0M235.9 830.2h0M222.9 888.4h0M187.6 803.5h0M266.7 925.2h0M231.1 813.6h0M197.2 827.7h0M169.4 777.5h0M226.6 883.4h0M244.3 820.1h0M253.7 822.4h0M256.5 905.4h0M217.3 847.6h0M244.1 843.8h0M186.8 774.0h0M231.2 835.9h0M251.2 873.7h0M211.2 861.4h0M223.0 803.8h0M230.0 863.3h0M230.9 759.5h0M266.3 871.5h0M198.9 782.6h0M262.4 899.5h0M194.5 800.4h0M209.8 936.8h0M206.9 832.0h0M225.0 850.7h0M214.3 734.0h0M239.9 787.0h0M227.6 887.6h0M285.0 872.3h0M237.4 898.1h0M220.6 801.7h0M237.1 872.8h0M242.9 813.0h0M222.3 854.4h0M198.1 854.7h0M206.2 870.2h0M231.9 807.6h0M249.1 797.7h0M239.9 872.0h0M225.0 845.0h0M242.1 879.4h0M214.4 777.5h0M234.1 877.7h0M264.5 859.1h0M256.5 814.0h0M262.8 845.8h0M217.6 877.0h0M232.6 846.9h0M200.8 828.3h0M251.3 856.9h0M216.1 812.4h0M192.7 881.2h0M214.2 828.6h0M233.8 779.9h0M169.4 748.1h0M190.1 793.2h0M253.0 839.1h0M229.7 874.8h0M226.0 726.4h0M185.0 854.7h0M268.7 927.0h0M254.1 836.2h0M245.6 910.8h0M198.0 791.5h0M242.3 838.9h0M257.1 838.4h0M218.6 911.5h0M220.6 891.2h0M214.7 885.5h0M242.8 799.3h0M220.9 836.8h0M218.8 783.2h0M189.0 824.3h0M183.6 844.0h0M251.7 921.2h0M268.3 865.5h0M249.7 864.1h0M264.2 860.7h0M212.9 782.9h0M225.8 918.4h0M236.8 862.3h0M222.7 907.1h0M270.8 915.5h0M192.3 764.3h0M212.0 801.1h0M217.9 866.8h0M208.5 870.8h0M249.1 887.2h0M174.7 810.7h0M256.8 902.3h0M250.7 812.3h0M235.3 830.7h0M263.6 818.5h0M288.5 948.4h0M231.8 858.6h0M246.2 885.9h0M237.4 831.4h0M240.8 738.3h0M213.9 794.7h0M208.4 833.2h0M243.2 849.3h0M213.6 876.6h0M251.7 910.3h0M248.2 827.4h0M215.7 870.8h0M236.9 769.4h0M229.4 872.4h0M223.8 744.4h0M257.1 884.8h0M228.5 740.2h0M233.6 865.9h0M176.7 895.6h0M243.1 839.4h0M189.9 854.5h0M217.4 888.6h0M269.6 760.8h0M274.2 799.9h0M217.4 830.5h0M194.7 772.1h0M238.0 825.6h0M217.2 957.0h0M236.5 933.7h0M192.4 853.1h0M256.9 830.9h0M268.1 899.3h0M189.8 836.5h0M207.5 818.2h0M209.4 912.6h0M246.8 769.4h0M176.2 896.6h0M233.1 822.3h0M221.7 902.2h0M207.0 819.4h0M246.1 825.7h0M176.7 783.3h0M191.9 832.8h0M207.2 845.1h0M246.3 975.4h0M218.6 914.7h0M206.0 823.0h0M240.3 793.9h0M215.2 835.3h0M210.9 859.3h0M219.9 759.6h0M236.7 843.7h0M298.3 979.0h0M199.4 802.0h0M235.1 773.5h0M223.8 876.2h0M221.1 917.4h0M267.7 863.3h0M248.2 861.5h0M245.6 911.0h0M216.2 860.9h0M205.9 795.9h0M235.8 828.4h0M220.7 829.8h0M213.2 829.9h0M245.7 911.6h0M196.7 777.2h0M209.2 849.7h0M248.9 846.6h0M226.1 747.5h0M245.8 890.1h0M206.0 834.1h0M246.8 796.4h0M209.8 750.9h0M263.9 916.0h0M249.1 936.7h0M240.6 852.0h0M268.6 864.2h0M237.7 884.0h0M212.0 800.5h0M269.2 852.6h0M237.6 895.5h0M260.5 815.8h0M232.6 902.3h0M259.1 878.9h0M206.1 896.7h0M195.7 740.4h0M192.0 890.3h0M248.7 848.7h0M177.4 849.2h0M182.2 779.8h0M191.7 774.7h0M234.9 903.9h0M240.3 872.9h0M207.6 857.6h0M249.5 890.6h0M237.3 877.8h0M260.6 797.2h0M253.7 844.4h0M211.0 813.5h0M234.2 942.1h0M224.7 907.7h0M241.1 809.3h0M234.4 778.2h0M229.7 879.0h0M247.7 883.9h0M230.7 913.0h0M248.3 803.7h0M230.1 926.1h0M225.0 848.2h0M253.3 923.6h0M254.1 874.2h0M261.6 848.4h0M245.7 817.2h0M223.7 909.0h0M234.2 703.0h0M233.3 900.8h0M183.3 855.6h0M199.9 793.3h0M269.1 914.3h0M227.7 832.7h0M154.7 749.1h0M226.1 824.7h0M233.4 874.4h0M197.1 824.8h0M288.6 879.4h0M258.6 898.7h0M250.4 894.3h0M224.2 901.5h0M241.7 859.8h0M251.2 930.8h0M241.6 816.4h0M211.7 809.2h0M234.1 779.7h0M232.6 837.1h0M236.7 846.4h0M201.9 821.4h0M235.9 786.8h0M229.1 892.6h0M235.1 768.0h0M234.2 800.1h0M191.3 687.9h0M251.2 908.3h0M248.4 893.8h0M193.8 809.8h0M226.3 853.5h0M206.5 770.1h0M216.9 782.5h0M254.8 814.9h0M242.4 863.5h0M280.3 873.4h0M230.9 847.5h0M199.2 773.9h0M231.4 779.6h0M164.6 830.5h0M274.7 895.0h0M235.0 864.8h0M239.7 816.7h0M232.0 853.5h0M205.7 755.6h0M224.8 786.5h0M207.3 842.7h0M214.4 786.9h0M236.3 788.6h0M196.1 778.1h0M270.2 950.6h0M199.5 802.1h0M248.9 868.1h0M210.5 819.1h0M194.6 942.5h0M237.0 837.9h0M231.1 895.7h0M220.8 884.5h0M225.0 859.3h0M210.2 828.0h0M237.5 777.7h0M213.7 860.9h0M226.7 945.5h0M255.1 887.8h0M191.5 926.7h0M211.1 868.9h0M208.3 878.4h0M205.0 804.9h0M190.6 813.1h0M218.5 860.0h0M229.5 900.5h0M222.6 790.3h0M183.9 753.5h0M243.1 843.7h0M243.7 844.3h0M227.2 864.1h0M199.3 914.6h0M203.0 800.0h0M275.9 963.8h0M270.0 905.4h0M237.5 846.5h0M201.4 750.2h0M258.0 935.9h0M229.7 930.8h0M268.7 899.4h0M210.2 857.1h0M237.3 825.9h0M219.6 748.8h0M244.6 815.3h0M208.5 763.6h0M248.9 793.7h0M215.0 793.2h0M201.9 797.8h0M239.8 873.6h0M231.1 908.8h0M170.0 800.1h0M223.9 878.5h0M227.7 821.5h0M229.8 824.6h0M278.3 903.9h0M208.2 798.3h0M224.5 848.2h0M180.7 791.9h0M187.0 777.8h0M210.0 797.1h0M221.5 912.9h0M219.8 845.0h0M241.5 825.9h0M244.0 856.8h0M251.2 820.7h0M220.7 811.1h0M237.7 826.9h0M206.2 750.8h0M234.3 832.6h0M237.5 865.5h0M211.8 841.2h0M141.0 792.0h0M207.9 881.9h0M292.1 885.4h0M222.3 891.6h0M208.2 877.5h0M227.7 846.4h0M254.0 930.7h0M233.6 805.4h0M219.5 844.0h0M191.4 810.3h0M217.1 796.2h0M193.7 803.7h0M234.1 861.4h0M264.2 886.8h0M252.4 887.1h0M209.4 796.6h0M199.1 815.6h0M188.5 810.3h0M236.4 813.2h0M239.7 842.8h0M245.4 757.2h0M233.6 789.7h0M193.2 795.9h0M174.5 793.5h0M253.9 888.8h0M202.8 797.8h0M274.3 953.2h0M169.5 744.8h0M195.7 914.3h0M200.2 779.7h0M231.5 789.0h0M241.9 813.4h0M210.1 798.6h0M240.1 830.9h0M190.5 796.0h0M211.4 850.1h0M192.8 858.9h0M209.9 779.7h0M207.7 889.3h0M232.4 850.9h0M314.3 928.7h0M188.6 860.8h0M219.1 825.7h0M242.3 918.0h0M226.2 782.8h0M261.5 922.2h0M197.6 798.7h0M244.6 885.2h0M203.9 802.8h0M245.8 930.0h0M228.7 856.1h0M230.8 876.8h0M209.0 779.5h0M176.0 747.0h0M195.5 831.0h0M242.9 921.9h0M217.5 837.7h0M243.6 784.5h0M189.7 905.2h0M241.1 822.9h0M250.7 891.6h0M166.6 771.9h0M232.8 808.5h0M275.1 894.5h0M204.6 710.2h0M250.5 810.2h0M225.5 815.8h0M246.8 831.4h0M214.4 757.8h0M204.2 880.1h0M213.3 816.6h0M215.0 819.4h0M209.1 743.0h0M201.5 815.4h0M253.4 885.8h0M209.3 867.9h0M193.0 846.8h0M200.0 814.7h0M237.3 829.5h0M166.2 812.8h0M237.6 873.6h0M243.2 833.8h0M258.0 847.3h0M213.0 843.8h0M203.1 808.2h0M229.2 846.1h0M228.3 838.7h0M259.0 819.2h0M226.1 907.8h0M213.5 859.1h0M189.8 774.5h0M219.2 787.0h0M226.7 811.1h0M255.6 828.9h0M227.5 790.6h0M260.0 868.0h0M257.2 841.5h0M204.7 779.1h0M194.9 893.8h0M208.2 806.0h0M218.6 841.9h0M203.6 762.1h0M243.1 796.2h0M242.5 799.5h0M256.4 899.6h0M232.1 870.7h0M213.4 812.9h0M235.5 823.7h0M201.0 832.6h0M228.7 795.6h0M205.0 808.1h0M255.1 898.8h0M155.2 760.8h0M247.0 877.0h0M248.0 841.2h0M223.8 836.6h0M233.7 828.4h0M230.3 875.7h0M258.8 898.2h0M268.2 892.4h0M225.2 761.2h0M267.7 870.3h0M208.1 880.6h0M235.8 794.1h0M236.4 772.7h0M191.9 802.8h0M233.5 875.3h0M207.5 766.1h0M245.7 859.5h0M201.7 804.5h0M178.5 804.7h0M190.9 831.9h0M225.5 821.8h0M233.1 810.6h0M233.8 841.9h0M205.0 897.0h0M245.5 873.3h0M210.5 856.5h0M219.1 787.1h0M250.6 826.6h0M220.7 771.5h0M175.7 854.1h0M243.6 892.5h0M224.9 850.9h0M214.8 863.7h0M258.6 838.7h0M208.4 805.1h0M242.0 901.7h0M228.4 815.3h0M292.9 954.7h0M177.8 893.2h0M230.0 785.3h0M234.0 799.3h0M253.6 932.2h0M213.9 875.0h0M208.3 900.7h0M261.3 937.7h0M213.7 811.6h0M232.2 933.0h0M223.5 900.4h0M234.9 889.6h0M189.6 829.7h0M210.7 808.2h0M223.4 798.4h0M227.7 772.9h0M253.6 817.9h0M238.2 807.9h0M239.9 850.2h0M223.4 801.0h0M257.8 783.7h0M209.0 830.4h0M222.3 743.8h0M185.9 797.2h0M197.4 852.3h0M247.1 782.9h0M223.6 779.6h0M176.3 805.1h0M223.7 898.4h0M218.6 821.6h0M195.1 796.5h0M233.5 849.3h0M217.7 753.2h0M225.0 767.4h0M249.4 882.9h0M208.6 863.4h0M252.9 881.3h0M217.7 832.7h0M218.0 849.8h0M258.4 784.0h0M234.6 791.6h0M214.1 808.0h0M221.6 879.1h0M230.3 843.5h0M186.7 813.0h0M242.1 795.6h0M224.6 836.3h0M190.9 833.4h0M200.0 848.0h0M247.3 841.6h0M191.6 918.5h0M280.8 841.4h0M196.8 864.3h0M230.0 781.2h0M157.9 747.9h0M222.7 867.9h0M210.9 807.2h0M237.2 808.5h0M229.5 836.5h0M215.7 948.7h0M280.7 864.4h0M244.5 832.1h0M205.2 886.7h0M233.4 814.6h0M148.8 923.3h0M208.9 769.9h0M256.7 848.2h0M209.6 876.3h0M227.9 825.0h0M193.9 796.0h0M244.6 787.5h0M227.0 828.5h0M223.9 877.6h0M248.4 838.5h0M266.7 827.4h0M244.8 913.7h0M178.5 856.2h0M234.2 869.1h0M230.7 827.0h0M193.8 780.4h0M181.4 872.6h0M213.0 828.7h0M215.8 811.4h0M221.8 822.9h0M204.3 841.8h0M227.6 878.4h0M231.2 835.3h0M215.9 811.2h0M233.5 790.5h0M208.0 811.3h0M182.2 802.4h0M223.2 847.8h0M246.4 846.2h0M294.0 902.8h0M167.7 800.9h0M210.1 856.8h0M200.4 814.9h0M230.4 828.2h0M200.4 808.6h0M226.6 819.2h0M249.2 866.9h0M203.7 853.3h0M221.5 817.9h0M265.7 858.5h0M246.6 867.3h0M181.1 851.0h0M277.7 944.1h0M205.6 765.9h0M231.4 880.5h0M212.7 805.2h0M211.6 857.6h0M205.4 870.0h0M239.8 931.8h0M203.3 799.7h0M190.6 869.0h0M208.7 721.8h0M223.6 833.9h0M171.1 714.8h0M244.4 816.3h0M204.9 774.5h0M242.6 784.1h0M259.8 858.7h0M231.9 791.0h0M237.7 792.7h0M211.9 791.6h0M206.1 799.9h0M174.1 835.1h0M218.7 809.7h0M209.4 784.5h0M161.7 731.7h0M230.9 865.4h0M263.5 877.2h0M234.3 869.7h0M254.2 826.2h0M216.7 889.4h0M197.2 846.4h0M225.5 941.2h0M214.7 810.8h0M194.1 860.1h0M250.8 929.0h0M228.2 824.3h0M206.6 820.8h0M228.9 813.8h0M219.9 817.7h0M240.0 883.4h0M265.6 875.8h0M207.7 778.8h0M192.6 937.0h0M260.0 830.8h0M286.6 948.9h0M208.0 825.3h0M200.1 855.4h0M192.5 846.6h0M223.7 874.1h0M226.8 875.6h0M217.1 915.6h0M245.9 819.7h0M202.6 766.2h0M208.4 754.4h0M191.2 730.1h0M260.3 886.1h0M252.2 780.6h0M258.2 792.3h0M202.0 832.9h0M259.1 847.5h0M231.7 841.0h0M242.9 732.6h0M239.3 788.7h0M215.8 762.5h0M219.8 827.7h0M184.0 809.8h0M209.9 844.0h0M218.3 891.2h0M194.0 969.1h0M226.8 811.1h0M257.7 892.2h0M211.4 871.8h0M199.1 813.6h0M202.0 777.9h0M229.2 879.5h0M270.0 914.6h0M228.6 863.3h0M225.8 802.5h0M191.9 721.5h0M233.0 794.0h0M240.7 903.8h0M213.8 887.8h0M223.7 789.0h0M207.1 835.3h0M243.6 910.4h0M259.3 923.6h0M234.3 799.7h0M237.7 833.0h0M225.8 830.0h0M207.6 776.6h0M204.2 910.6h0M213.8 751.9h0M227.4 855.3h0M224.2 885.6h0M250.8 874.7h0M243.7 884.1h0M263.2 770.6h0M244.7 848.7h0M218.1 844.6h0M227.0 849.0h0M182.1 756.4h0M268.0 860.1h0M209.3 789.8h0M213.8 899.3h0M272.0 848.8h0M196.5 812.6h0M208.4 816.4h0M222.9 823.1h0M209.4 911.8h0M226.9 909.1h0M231.0 857.1h0M241.1 830.4h0M221.8 813.0h0M242.7 767.7h0M215.9 832.0h0M240.5 860.4h0M255.3 849.2h0M179.5 772.5h0M218.8 892.1h0M229.3 877.0h0M175.4 818.8h0M145.1 884.3h0M232.8 852.3h0M207.8 917.7h0M245.1 840.3h0M224.4 841.8h0M224.3 808.7h0M215.5 877.0h0M227.3 815.4h0M201.0 843.3h0M211.3 833.5h0M245.1 817.2h0M218.1 938.4h0M237.8 899.3h0M224.4 824.0h0M215.8 874.3h0M199.5 839.9h0M246.6 831.6h0M203.0 916.8h0M234.4 884.5h0M184.1 847.8h0M231.7 866.8h0M234.7 876.7h0M208.0 866.6h0M182.5 828.0h0M220.6 843.3h0M227.3 843.5h0M211.0 764.1h0M207.0 817.8h0M248.3 913.8h0M221.7 912.5h0M213.8 840.2h0M246.6 817.7h0M224.1 888.4h0M206.5 791.5h0M247.3 808.5h0M215.3 771.1h0M248.7 767.0h0M207.1 921.3h0M233.0 842.7h0M256.8 740.3h0M236.5 808.5h0M237.7 771.9h0M236.3 887.0h0M246.9 822.9h0M226.8 803.9h0M236.3 875.1h0M218.7 912.9h0M274.8 849.1h0M202.0 819.0h0M246.1 807.9h0M199.3 869.3h0M238.7 855.3h0M258.8 865.9h0M196.4 784.2h0M270.2 941.0h0M199.8 807.4h0M203.4 883.7h0M233.1 901.4h0M196.2 770.1h0M250.0 843.2h0M237.4 854.6h0M154.2 756.7h0M187.8 810.4h0M206.0 839.8h0M235.4 771.2h0M196.9 805.9h0M205.9 839.8h0M240.6 824.5h0M198.9 794.8h0M232.2 779.2h0M189.2 815.7h0M250.4 862.0h0M261.3 857.7h0M194.8 889.3h0M163.4 805.4h0M181.0 794.1h0M249.3 934.5h0M209.6 862.0h0M251.5 908.3h0M189.8 884.2h0M200.0 798.7h0M221.2 790.9h0M251.9 933.2h0M218.6 750.0h0M197.7 797.2h0M232.0 918.7h0M226.4 807.0h0M237.2 881.0h0M219.6 797.2h0M208.1 940.8h0M224.7 830.5h0M160.2 849.3h0M231.1 782.3h0M256.0 895.3h0M238.5 879.3h0M199.6 801.5h0M184.6 851.3h0M258.2 851.2h0M211.0 847.9h0M218.7 809.4h0M230.0 818.4h0M208.9 773.6h0M225.2 858.0h0M262.9 856.5h0M211.3 797.3h0M273.7 951.3h0M234.1 841.2h0M232.4 833.1h0M248.7 821.3h0M248.0 898.7h0M251.5 861.9h0M238.6 809.0h0M209.2 815.2h0M266.4 898.5h0M220.4 837.4h0M202.7 884.5h0M247.4 902.9h0M241.1 948.4h0M223.5 806.3h0M226.2 833.3h0M239.4 834.0h0M274.1 869.9h0M222.4 836.8h0M191.7 802.9h0M209.6 874.1h0M237.5 791.6h0M219.1 834.2h0M207.1 858.8h0M243.1 898.9h0M243.4 846.6h0M219.0 848.2h0M231.6 842.2h0M207.8 852.2h0M208.5 818.4h0M215.4 867.9h0M189.1 888.5h0M232.9 940.7h0M222.1 819.4h0M211.0 872.4h0M226.8 851.1h0M227.5 859.6h0M204.7 805.6h0M208.6 832.9h0M203.4 854.3h0M258.7 863.2h0M180.4 796.9h0M221.6 897.4h0M245.2 856.5h0M195.5 810.6h0M198.6 823.0h0M198.0 812.3h0M176.6 780.9h0M253.5 883.7h0M216.4 820.7h0M193.7 767.2h0M205.6 878.5h0M226.3 821.6h0M213.1 768.1h0M198.4 817.5h0M234.5 811.6h0M198.4 830.7h0M211.0 777.3h0M225.6 817.5h0M202.3 753.5h0M223.0 775.6h0M204.4 827.6h0M289.9 889.4h0M210.3 903.9h0M238.6 812.5h0M198.6 828.5h0M191.8 763.4h0M217.5 905.7h0M211.7 828.1h0M211.8 762.3h0M219.7 842.9h0M243.4 826.1h0M269.9 962.8h0M272.6 928.0h0M221.9 799.4h0M267.7 905.4h0M264.3 890.4h0M203.9 807.8h0M207.5 810.5h0M217.3 818.8h0M270.6 834.9h0M216.1 844.2h0M213.4 806.7h0M255.5 853.1h0M214.9 813.3h0M215.5 798.6h0M234.9 934.3h0M223.9 849.0h0M156.7 840.3h0M186.9 945.6h0M237.4 840.5h0M182.0 783.7h0M250.8 782.3h0M217.2 770.3h0M225.6 867.8h0M226.3 777.3h0M172.5 723.6h0M200.5 823.1h0M191.7 813.8h0M225.2 919.1h0M258.5 800.6h0M213.2 881.3h0M220.8 734.5h0M168.4 876.2h0M209.3 840.5h0M212.7 787.8h0M214.2 892.2h0M234.6 849.2h0M255.4 887.7h0M218.7 832.6h0M229.3 896.0h0M178.7 847.5h0M234.8 801.2h0M220.0 794.9h0M173.8 774.9h0M227.9 877.4h0M202.1 855.0h0M245.4 863.4h0M231.1 828.8h0M221.4 808.2h0M263.7 883.7h0M215.1 872.7h0M211.3 867.9h0M220.2 914.5h0M222.4 920.0h0M197.4 804.8h0M234.3 956.1h0M230.5 914.3h0M206.0 840.6h0M179.3 832.8h0M251.1 882.3h0M254.1 835.3h0M243.5 819.8h0M246.0 852.0h0M267.2 855.8h0M229.5 718.5h0M263.5 898.0h0M217.6 751.0h0M199.1 839.4h0M222.3 818.5h0M213.9 802.1h0M234.9 881.1h0M269.3 840.2h0M233.3 799.9h0M249.7 867.9h0M277.9 896.4h0M269.4 845.0h0M225.1 802.9h0M205.4 793.2h0M278.2 902.1h0M281.0 917.9h0M286.8 958.2h0M272.7 927.8h0M260.6 883.4h0M285.2 817.8h0M314.4 988.5h0M298.9 969.6h0M258.8 935.9h0M286.0 983.1h0M272.5 860.0h0M272.7 924.3h0M270.3 972.5h0M261.9 966.2h0M251.3 926.4h0M281.1 916.0h0M258.9 912.1h0M266.1 854.0h0M268.5 967.9h0M275.8 941.2h0M267.7 964.1h0M272.1 778.7h0M267.9 879.2h0M278.3 907.4h0M279.8 917.7h0M296.8 953.9h0M283.0 960.2h0M265.7 857.0h0M283.0 988.8h0M288.5 946.6h0M265.8 879.4h0M266.1 866.7h0M240.2 894.2h0M297.2 989.6h0M276.7 879.9h0M295.1 855.9h0M251.2 858.8h0M238.8 812.8h0M279.3 934.3h0M261.8 848.3h0M277.1 941.6h0M262.7 834.9h0M287.0 963.5h0M269.6 899.9h0M272.1 956.2h0M282.0 935.5h0M267.8 937.0h0M268.8 894.9h0M293.6 970.1h0M273.3 885.1h0M278.1 865.9h0M282.3 949.3h0M276.3 926.0h0M282.5 984.5h0M303.7 1002.4h0M291.3 995.2h0M253.4 965.3h0M241.2 879.3h0M261.5 840.9h0M238.8 849.1h0M233.6 909.6h0M258.8 889.1h0M260.0 944.8h0M277.4 913.8h0M281.6 945.3h0M307.7 1001.2h0M263.8 932.8h0M265.4 921.0h0M278.0 942.9h0M291.3 981.2h0M270.7 911.8h0M260.9 942.6h0M233.7 823.4h0M287.4 999.2h0M271.0 927.4h0M298.3 975.2h0M302.3 986.0h0M303.5 998.7h0M281.6 956.3h0M287.9 941.8h0M254.1 940.3h0M281.0 925.4h0M269.0 856.9h0M290.4 956.5h0M266.3 878.1h0M271.0 906.6h0M261.8 834.8h0M302.3 998.0h0M276.2 828.4h0M259.2 900.1h0M268.5 904.0h0M254.8 877.2h0M292.8 948.6h0M293.2 972.9h0M276.8 937.8h0M278.9 845.1h0M252.3 930.0h0M298.2 986.6h0M273.7 942.9h0M305.7 1003.7h0M265.6 837.8h0M281.6 895.1h0M287.7 920.1h0M286.5 956.5h0M272.7 868.0h0M290.9 938.1h0M280.4 985.5h0M274.8 913.1h0M258.6 913.2h0M294.0 991.4h0M274.9 975.0h0M281.7 872.8h0M273.4 939.1h0M279.6 964.2h0M268.8 958.1h0M313.5 970.6h0M302.1 996.0h0M284.7 957.1h0M278.7 936.9h0M284.6 937.8h0M261.4 865.1h0M283.5 942.6h0M272.9 907.5h0M268.0 922.4h0M264.0 869.4h0M264.1 847.4h0M281.7 922.7h0M274.7 915.1h0M262.3 947.6h0M280.7 922.4h0M276.5 817.3h0M272.9 986.3h0M296.5 996.0h0M270.4 941.8h0M254.0 910.3h0M276.6 931.7h0M259.3 966.8h0M287.0 905.2h0M283.0 970.0h0M269.6 947.4h0M281.9 993.7h0M268.2 907.4h0M267.3 969.2h0M247.4 899.1h0M242.6 812.7h0M268.0 852.3h0M300.9 1000.5h0M256.2 823.3h0M273.0 908.2h0M264.2 969.9h0M282.0 900.4h0M261.8 927.4h0M272.6 982.8h0M280.3 983.0h0M266.5 944.5h0M271.9 882.8h0M271.0 979.4h0M282.1 961.9h0M283.6 950.7h0M285.5 906.5h0M280.7 828.4h0M259.2 915.0h0M268.0 888.4h0M281.9 859.0h0M274.9 961.3h0M287.2 965.7h0M255.2 855.0h0M260.8 876.3h0M261.5 926.6h0M278.6 955.5h0M264.6 856.5h0M260.7 941.0h0M279.2 928.9h0M267.9 858.2h0M257.9 886.5h0M280.3 941.4h0M272.5 965.8h0M281.3 965.8h0M282.5 831.2h0M265.1 839.3h0M269.7 949.5h0M272.1 933.2h0M284.1 907.6h0M273.4 898.5h0M289.5 992.6h0M265.8 774.1h0M274.0 969.8h0M293.3 991.5h0M253.3 852.4h0M255.3 874.1h0M284.2 962.4h0M285.1 955.5h0M288.5 973.3h0M286.5 984.5h0M289.3 942.4h0M266.6 909.2h0M274.3 944.9h0M282.3 926.8h0M256.1 888.5h0M255.2 954.4h0M265.3 792.2h0M288.6 970.1h0M285.2 931.5h0M254.9 824.4h0M265.6 895.5h0M265.8 925.5h0M275.0 959.1h0M276.8 894.6h0M274.0 951.4h0M260.3 959.7h0M290.0 971.1h0M289.2 980.7h0M258.5 917.9h0M271.4 947.5h0M289.6 930.6h0M279.1 975.6h0M280.8 958.2h0M267.4 976.6h0M294.9 991.3h0M258.0 845.9h0M287.5 985.5h0M299.9 1000.2h0M262.9 949.9h0M293.7 970.2h0M286.3 941.1h0M264.6 961.9h0M276.4 893.7h0M294.9 991.9h0M267.6 918.6h0M267.5 877.9h0M232.1 836.8h0M249.7 851.6h0M268.4 936.9h0M272.1 888.4h0M282.7 943.9h0M286.9 950.0h0M302.9 1001.1h0M284.4 978.9h0M317.0 924.5h0M285.4 966.8h0M294.1 960.6h0M262.4 891.9h0M280.9 936.9h0M288.4 991.3h0M288.3 990.7h0M267.8 900.5h0M273.7 913.8h0M255.9 955.1h0M279.3 957.3h0M258.9 970.6h0M288.6 938.1h0M278.1 972.9h0M284.8 933.2h0M283.1 796.3h0M281.0 967.6h0M286.4 918.0h0M275.4 956.8h0M250.6 866.0h0M293.1 993.0h0M263.5 829.5h0M287.9 893.4h0M282.4 984.6h0M280.0 974.3h0M276.7 936.4h0M278.5 853.6h0M277.3 964.2h0M274.7 990.9h0M272.6 904.6h0M278.7 918.8h0M283.2 911.3h0M268.0 933.3h0M277.9 930.9h0M254.6 801.4h0M262.3 862.2h0M248.9 926.7h0M270.4 857.1h0M279.8 948.4h0M284.5 978.7h0M254.5 924.5h0M286.2 872.6h0M259.2 923.1h0M268.3 852.2h0M266.9 796.9h0M297.3 989.9h0M276.8 845.5h0M304.9 1004.0h0M288.7 987.3h0M270.6 940.3h0M280.2 932.5h0M294.2 990.9h0M261.6 900.9h0M267.3 944.3h0M273.8 965.1h0M269.7 860.7h0M270.5 974.5h0M299.2 989.8h0M276.6 931.7h0M269.7 922.3h0M268.7 897.0h0M254.7 861.2h0M286.1 969.8h0M265.2 871.9h0M326.4 962.7h0M281.1 965.4h0M265.9 875.2h0M256.6 870.8h0M267.5 933.1h0M280.2 936.4h0M265.7 934.4h0M283.6 944.2h0M284.4 935.8h0M282.5 934.7h0M281.8 953.5h0M274.5 967.0h0M264.7 809.6h0M256.3 861.3h0M250.7 857.3h0M267.7 866.8h0M284.1 928.4h0M274.2 966.4h0M259.1 940.3h0M287.6 935.1h0M260.0 813.8h0M257.2 910.4h0M259.9 917.8h0M264.5 838.2h0M273.0 929.3h0M256.1 909.1h0M250.6 912.7h0M280.5 915.8h0M277.9 951.7h0M281.0 932.9h0M285.1 975.1h0M274.9 935.5h0M300.0 997.2h0M271.1 916.8h0M273.3 908.7h0M293.1 978.7h0M279.9 966.6h0M271.8 899.3h0M273.9 938.0h0M257.0 979.7h0M283.8 920.0h0M270.9 845.9h0M280.5 894.0h0M293.4 968.0h0M285.4 951.7h0M278.0 814.4h0M279.8 834.9h0M276.1 957.6h0M298.7 963.1h0M246.6 908.3h0M267.6 959.0h0M262.3 724.4h0M280.3 958.2h0M271.5 918.8h0M275.6 910.6h0M302.2 999.7h0M278.2 930.3h0M286.7 970.8h0M268.4 976.0h0M264.4 917.4h0M259.5 826.7h0M295.0 995.5h0M258.3 943.3h0M267.4 965.6h0M307.7 999.9h0M279.9 967.5h0M274.9 984.0h0M271.0 913.2h0M257.7 857.4h0M279.8 979.9h0M289.2 951.8h0M261.4 948.9h0M267.3 881.7h0M298.4 982.6h0M269.0 926.5h0M285.2 962.2h0M307.5 995.5h0M261.9 965.1h0M273.2 901.4h0M261.2 931.1h0M241.9 816.6h0M293.4 959.7h0M283.1 922.7h0M270.2 923.1h0M281.0 947.0h0M265.8 917.0h0M253.4 885.7h0M265.1 946.0h0M263.3 943.0h0M259.8 872.6h0M289.8 968.9h0M261.9 921.5h0M258.3 927.8h0M276.9 951.1h0M280.9 927.0h0M298.4 985.3h0M278.2 937.1h0M254.2 911.3h0M261.1 841.1h0M288.0 922.0h0M264.5 884.0h0M281.1 944.8h0M301.4 992.3h0M252.7 860.6h0M252.2 838.8h0M271.1 940.1h0M273.7 818.0h0M287.0 957.0h0M250.6 843.9h0M282.9 946.9h0M270.5 924.8h0M249.3 707.9h0M270.4 960.1h0M281.1 965.5h0M300.3 1000.9h0M264.8 939.9h0M284.4 975.7h0M254.6 914.1h0M289.7 992.0h0M275.4 859.8h0M297.1 984.5h0M254.3 836.0h0M257.3 932.9h0M249.1 891.8h0M300.2 1000.9h0M267.2 916.4h0M247.3 866.1h0M263.1 892.8h0M286.4 926.4h0M283.4 848.4h0M280.4 938.0h0M254.5 863.3h0M271.4 896.4h0M244.8 807.9h0M251.8 887.1h0M282.8 898.8h0M287.1 965.5h0M270.6 904.8h0M247.2 857.6h0M259.8 808.2h0M268.3 926.8h0M297.4 995.0h0M264.5 897.2h0M252.4 851.1h0M256.5 919.8h0M261.2 934.4h0M265.9 884.4h0M270.1 990.6h0M303.4 1002.8h0M265.2 965.0h0M242.3 890.4h0M289.0 973.2h0M262.4 847.2h0M262.5 886.9h0M265.4 908.4h0M278.5 959.9h0M275.8 904.2h0M280.8 901.6h0M268.8 959.5h0M274.7 930.2h0M257.7 936.3h0M258.0 897.7h0M264.8 872.6h0M267.1 908.0h0M248.4 737.2h0M255.8 935.0h0M292.1 982.6h0M291.1 989.3h0M297.9 984.9h0M290.9 995.8h0M287.0 984.9h0M299.5 959.4h0M283.4 861.8h0M269.0 924.7h0M269.5 840.3h0M278.7 928.4h0M280.2 931.3h0M271.8 903.5h0M268.9 969.0h0M273.3 945.9h0M262.1 929.6h0M307.3 1000.2h0M281.7 997.0h0M244.3 935.8h0M287.1 930.8h0M261.8 925.6h0M270.8 878.9h0M274.3 916.1h0M287.4 955.2h0M273.6 850.6h0M278.4 838.7h0M272.2 856.5h0M308.8 998.8h0M273.6 770.5h0M261.0 926.0h0M254.8 766.3h0M274.4 885.1h0M267.5 881.9h0M276.9 958.3h0M280.8 939.8h0M257.0 829.5h0M275.3 897.9h0M263.5 913.5h0M263.8 949.7h0M260.1 908.9h0M270.6 910.4h0M263.6 888.0h0M263.8 965.3h0M268.9 869.7h0M254.9 861.3h0M293.9 982.9h0M283.6 981.5h0M268.6 817.9h0M278.7 967.9h0M260.2 947.6h0M275.7 938.1h0M251.5 773.3h0M273.2 885.5h0M275.9 921.0h0M268.7 924.9h0M285.1 895.6h0M262.1 885.7h0M276.0 955.7h0M282.4 920.3h0M282.0 930.0h0M273.8 899.9h0M298.8 963.8h0M285.9 939.8h0M283.9 939.1h0M263.4 935.9h0M275.3 886.5h0M266.2 835.3h0M304.6 1003.1h0M279.8 895.0h0M262.9 926.8h0M286.9 935.0h0M290.6 904.4h0M265.7 933.4h0M276.8 926.0h0M311.3 991.7h0M274.8 941.7h0M279.5 971.2h0M320.6 929.0h0M274.1 948.9h0M256.6 892.5h0M260.1 897.7h0M276.3 923.7h0M285.8 934.7h0M261.2 907.4h0M243.9 870.8h0M282.7 966.7h0M271.0 970.8h0M266.7 854.6h0M260.9 972.2h0M290.8 987.8h0M271.6 857.8h0M254.5 878.3h0M259.2 893.1h0M267.4 957.3h0M252.4 827.8h0M266.3 971.4h0M291.2 930.4h0M286.8 942.5h0M289.0 940.5h0M288.7 911.3h0M276.4 871.6h0M279.7 909.7h0M248.2 860.9h0M285.4 926.9h0M283.5 905.4h0M277.6 793.1h0M277.5 918.6h0M258.0 968.1h0M267.1 970.9h0M250.6 935.6h0M266.9 887.5h0M270.3 937.7h0M264.5 874.8h0M291.4 955.1h0M261.7 905.6h0M279.0 969.6h0M277.2 907.2h0M271.5 884.0h0M282.4 942.5h0M280.0 863.7h0M268.5 948.1h0M293.7 991.0h0M272.0 964.1h0M283.4 970.6h0M258.8 860.7h0M260.5 883.3h0M276.7 883.3h0M308.6 998.2h0M255.4 973.5h0M256.5 834.6h0M262.8 931.1h0M267.7 964.1h0M275.2 873.4h0M289.7 996.0h0M271.7 884.5h0M283.0 941.6h0M274.6 942.4h0M265.7 946.9h0M267.1 943.8h0M281.6 931.5h0M277.0 899.0h0M294.0 887.1h0M277.3 907.4h0M272.6 967.2h0M257.4 847.4h0M263.0 929.9h0M279.8 962.6h0M279.1 942.4h0M299.0 983.7h0M265.2 875.9h0M284.1 946.9h0M273.4 828.4h0M243.7 938.4h0M257.3 832.7h0M278.4 904.4h0M269.2 881.1h0M264.7 888.7h0M291.0 977.0h0M271.3 964.1h0M278.9 944.1h0M285.9 988.4h0M267.8 891.3h0M284.2 970.4h0M259.8 933.0h0M255.5 895.3h0M291.1 982.6h0M294.0 947.6h0M285.4 984.6h0M263.4 939.2h0M269.5 921.8h0M260.7 878.2h0M260.7 936.5h0M276.5 875.2h0M267.5 942.8h0M291.7 987.4h0M251.3 978.3h0M266.8 904.0h0M256.4 951.1h0M255.1 918.6h0M302.3 986.2h0M297.8 960.9h0M280.6 916.4h0M282.2 978.0h0M283.4 984.3h0M275.0 914.6h0M227.9 874.8h0M240.7 878.6h0M282.8 818.2h0M236.0 917.6h0M295.2 996.0h0M286.4 848.1h0M278.7 890.2h0M279.7 933.9h0M284.6 947.3h0M265.1 951.0h0M301.6 1001.1h0M270.2 887.4h0M260.3 929.0h0M301.7 993.4h0M276.1 914.4h0M279.0 945.4h0M292.0 982.4h0M307.0 998.2h0M273.5 982.4h0M275.6 936.6h0M253.2 884.6h0M274.5 955.7h0M299.2 983.3h0M262.5 915.8h0M260.4 757.5h0M248.5 779.3h0M254.7 867.0h0M254.2 860.3h0M274.2 907.2h0M278.3 903.6h0M243.6 901.1h0M280.5 976.6h0M293.5 963.0h0M286.8 982.0h0M262.6 919.3h0M286.4 903.8h0M266.4 834.4h0M257.2 893.7h0M252.8 936.1h0M251.6 830.4h0M269.0 797.6h0M283.1 975.2h0M246.9 932.3h0M243.6 857.7h0M291.7 989.3h0M259.7 973.9h0M307.5 994.8h0M279.9 921.2h0M252.5 862.7h0M288.1 984.6h0M289.4 933.4h0M248.2 859.6h0M270.1 965.0h0M294.7 992.6h0M250.9 933.3h0M280.5 896.9h0M279.1 953.5h0M303.5 999.8h0M293.9 990.7h0M268.0 934.7h0M252.3 919.6h0M268.7 904.9h0M275.4 934.4h0M273.6 940.2h0M267.3 900.1h0M259.6 912.2h0M293.2 946.6h0M268.1 849.5h0M262.7 807.1h0M277.2 925.8h0M276.1 961.1h0M273.7 942.6h0M292.1 894.9h0M258.6 914.6h0M278.0 936.1h0M289.4 959.9h0M267.1 921.1h0M276.2 952.9h0M283.9 983.9h0M282.0 979.6h0M274.3 983.4h0M255.4 918.7h0M260.5 867.0h0M274.4 972.2h0M269.6 852.5h0M269.5 950.8h0M266.1 854.8h0M247.9 846.5h0M283.4 981.0h0M258.2 861.5h0M298.0 997.1h0M316.3 987.3h0M286.2 951.3h0M281.3 967.5h0M264.6 934.2h0M259.4 904.0h0M268.0 880.7h0M289.5 983.2h0M274.8 912.5h0M249.6 878.0h0M286.4 969.5h0M266.6 905.5h0M286.7 965.2h0M274.4 939.5h0M262.3 915.8h0M267.3 918.1h0M285.4 985.8h0M265.6 883.9h0M294.5 970.0h0M262.3 834.7h0M295.9 906.6h0M254.2 921.0h0M257.8 917.7h0M283.2 984.2h0M296.9 952.1h0M269.7 877.7h0M286.2 934.9h0M260.2 972.6h0M258.9 938.6h0M274.5 918.8h0M306.6 1001.1h0M270.1 931.0h0M249.9 819.1h0M236.8 881.3h0M272.8 868.5h0M283.2 951.4h0M268.5 943.2h0M276.5 942.3h0M262.1 864.3h0M292.9 967.8h0M281.4 968.6h0M252.7 857.3h0M264.4 832.4h0M292.1 965.1h0M273.2 898.0h0M237.9 852.1h0M267.6 910.5h0M265.9 889.7h0M232.3 836.6h0M280.4 969.3h0M294.5 987.5h0M265.0 946.9h0M259.7 899.1h0M269.9 896.0h0M266.0 921.4h0M271.9 843.6h0M281.0 888.1h0M249.0 919.5h0M267.9 886.0h0M301.7 993.1h0M270.8 860.5h0M274.5 943.1h0M278.0 874.7h0M260.3 949.4h0M251.6 891.5h0M307.5 986.6h0M273.2 896.7h0M257.4 835.3h0M286.2 970.0h0M266.6 931.2h0M258.6 866.4h0M264.9 870.5h0M252.1 903.6h0M257.2 856.2h0M286.4 985.2h0M274.4 891.6h0M268.6 926.7h0M292.6 896.8h0M283.5 959.1h0M266.6 874.6h0M250.2 891.9h0M264.5 950.3h0M292.1 966.3h0M258.5 751.3h0M305.6 1000.1h0M269.4 915.9h0M252.0 831.1h0M265.8 843.0h0M294.7 991.9h0M263.3 887.5h0M279.6 966.9h0M284.0 973.8h0M264.2 880.4h0M288.8 964.3h0M294.4 942.6h0M284.9 962.0h0M245.9 867.9h0M277.5 978.4h0M284.0 971.7h0M286.5 947.4h0M300.8 988.6h0M277.4 918.8h0M273.7 919.6h0M241.7 902.7h0M255.1 932.3h0M290.2 918.3h0M255.4 826.7h0M269.3 925.2h0M247.2 803.5h0M268.5 903.3h0M254.2 782.7h0M280.0 920.6h0M271.7 892.3h0M278.2 915.5h0M249.4 838.3h0M269.7 932.2h0M285.8 975.4h0M224.3 881.1h0M263.4 883.4h0M271.3 898.4h0M285.2 921.9h0M281.9 907.4h0M282.3 933.8h0M277.9 921.4h0M284.7 939.2h0M270.3 922.4h0M271.0 948.7h0M254.9 847.8h0M269.6 898.4h0M268.9 933.4h0M296.5 985.7h0M255.8 840.7h0M276.9 868.6h0M268.5 936.9h0M273.7 865.8h0M289.5 972.4h0M272.0 864.9h0M258.9 962.7h0M274.6 869.5h0M287.9 991.6h0M278.0 958.2h0M283.9 982.3h0M252.3 938.0h0M287.5 971.3h0M265.9 889.1h0M254.8 977.0h0M278.2 913.6h0M251.4 889.1h0M277.5 864.4h0M297.7 986.7h0M264.9 930.1h0M259.8 856.7h0M290.4 969.5h0M283.4 934.7h0M286.7 942.9h0M244.2 901.4h0M260.5 935.3h0M301.8 993.0h0M260.8 801.9h0M305.7 1003.2h0M295.3 977.3h0M299.5 998.1h0M297.1 999.2h0M309.3 999.3h0M317.3 982.5h0M298.7 994.0h0M317.2 995.6h0M303.7 999.7h0M300.3 990.1h0M310.1 992.4h0M315.5 962.0h0M301.0 999.7h0M300.4 994.8h0M315.1 969.8h0M308.5 1000.4h0M283.7 959.7h0M301.4 1000.0h0M297.1 990.8h0M298.6 989.0h0M303.3 999.5h0M299.3 997.4h0M299.8 988.6h0M316.5 994.0h0M291.6 983.3h0M303.6 1002.2h0M306.5 1000.5h0M292.8 996.9h0M294.8 982.7h0M294.9 991.9h0M308.2 996.7h0M295.2 996.4h0M305.9 1003.2h0M294.4 995.0h0M294.0 993.2h0M305.5 1003.5h0M308.1 996.1h0M293.4 984.4h0M295.6 978.9h0M304.1 1002.6h0M295.9 999.2h0M294.6 994.6h0M295.1 990.6h0M304.4 1003.7h0M284.7 983.3h0M314.2 991.0h0M313.2 990.3h0M310.8 995.8h0M300.9 999.8h0M297.8 1001.2h0M305.9 1001.6h0M294.8 987.9h0M316.9 974.8h0M298.2 1001.9h0M310.4 992.6h0M307.8 1002.4h0M299.3 998.4h0M300.8 999.7h0M296.7 997.7h0M303.0 1002.1h0M306.4 1001.9h0M302.4 1003.1h0M300.0 988.0h0M302.5 992.7h0M310.8 989.5h0M308.5 1001.0h0M305.7 1002.7h0M298.1 994.2h0M299.2 999.4h0M305.7 1003.6h0M299.7 998.2h0M297.7 998.8h0M311.6 994.4h0M303.1 1002.9h0M303.9 1002.9h0M298.4 1000.5h0M304.3 1003.7h0M307.8 1000.5h0M304.2 1003.7h0M292.3 993.1h0M299.0 999.2h0M306.0 1003.2h0M303.9 1001.2h0M309.1 996.3h0M300.2 1000.5h0M301.9 1002.3h0M308.4 991.3h0M301.9 996.7h0M308.1 988.0h0M290.3 945.9h0M295.7 994.7h0M308.5 997.1h0M307.7 1001.5h0M307.4 1002.9h0M308.4 989.3h0M308.5 999.8h0M294.6 991.1h0M313.0 995.3h0M308.1 1002.0h0M294.2 996.4h0M293.2 991.6h0M304.9 1004.0h0M297.5 999.1h0M305.6 1004.0h0M300.1 990.2h0M291.9 981.8h0M296.4 994.2h0M299.5 994.5h0M302.0 1000.8h0M307.5 1001.5h0M297.6 999.1h0M305.3 1003.8h0M300.6 997.6h0M301.2 1002.7h0M286.4 989.5h0M298.6 992.0h0M292.2 958.8h0M306.7 1002.0h0M309.4 999.9h0M305.0 1004.2h0M316.1 960.1h0M303.9 1001.1h0M307.8 998.5h0M299.7 996.8h0M304.5 1003.7h0M295.1 996.9h0M300.0 992.6h0M309.1 994.0h0M302.0 991.1h0M299.8 988.9h0M301.3 997.9h0M305.5 1003.5h0M311.4 993.0h0M291.8 984.5h0M301.9 998.6h0M301.1 989.5h0M300.4 998.2h0M301.9 1000.6h0M305.6 1003.0h0M310.0 1003.2h0M290.3 891.7h0M293.9 951.9h0M302.8 999.7h0M292.1 970.7h0M305.1 1003.9h0M296.2 991.9h0M301.1 1001.4h0M294.0 991.4h0M295.7 991.0h0M320.6 994.7h0M299.7 981.1h0M311.8 992.0h0M301.6 999.5h0M306.3 1002.0h0M296.4 988.7h0M305.3 1003.7h0M298.3 987.7h0M282.4 918.0h0M283.8 927.0h0M301.0 996.8h0M306.4 1002.7h0M296.5 994.3h0M294.5 993.4h0M297.9 945.2h0M313.1 978.7h0M289.2 941.5h0M306.3 1002.4h0M309.7 997.0h0M292.5 974.2h0M295.4 995.8h0M299.0 991.0h0M297.2 992.2h0M308.3 1000.7h0M302.3 1001.3h0M298.1 990.1h0M304.3 1003.7h0M310.1 999.1h0M299.2 999.3h0M296.1 991.3h0M308.2 1000.0h0M313.7 978.8h0M312.5 957.1h0M307.4 996.7h0M300.8 985.4h0M307.6 1000.2h0M306.0 1000.8h0M306.4 1001.4h0M302.0 995.7h0M309.3 997.5h0M308.3 998.6h0M293.6 996.3h0M307.2 1002.4h0M295.5 998.4h0M303.2 1001.7h0M301.4 985.7h0M305.7 1003.7h0M299.0 1001.5h0M299.9 993.7h0M298.9 1000.3h0M299.1 993.5h0M292.6 983.7h0M306.0 1002.7h0M298.5 988.1h0M304.9 1003.9h0M302.4 992.0h0M305.4 1003.8h0M306.5 1002.3h0M293.6 991.8h0M301.7 999.0h0M303.8 1002.9h0M297.7 1001.4h0M298.0 998.3h0M305.1 1004.1h0M311.3 995.6h0M306.3 1002.4h0M307.3 1002.7h0M304.7 1003.7h0M315.6 995.2h0M302.9 1001.8h0M308.8 968.7h0M325.7 974.8h0M305.2 1003.9h0M302.5 997.5h0M291.9 980.2h0M291.5 984.3h0M317.2 1000.0h0M303.0 1001.4h0M296.4 977.4h0M299.2 994.2h0M295.0 991.5h0M306.2 1003.3h0M316.9 994.1h0M314.3 975.0h0M308.5 999.7h0M313.9 994.1h0M331.8 965.9h0M306.6 1000.2h0M307.4 1000.6h0M319.1 960.3h0M305.0 1004.2h0M312.0 995.6h0M306.4 1002.9h0M313.2 998.1h0M322.4 939.1h0M305.4 1003.5h0M323.1 918.3h0M326.4 949.4h0M330.0 982.9h0M314.9 988.0h0M345.0 972.8h0M321.4 942.6h0M308.0 1001.9h0M312.6 991.3h0M336.7 960.6h0M318.3 969.4h0M317.6 990.5h0M326.1 963.6h0M308.8 993.8h0M307.4 999.8h0M305.7 1003.6h0M313.5 988.7h0M311.1 1001.0h0M319.6 940.2h0M311.0 1001.2h0M336.3 963.1h0M305.3 1003.7h0M313.9 994.8h0M326.0 926.0h0M339.1 977.3h0M316.2 938.4h0M322.8 974.8h0M327.4 989.3h0M315.0 998.2h0M306.6 1001.9h0M338.5 977.1h0M329.6 981.2h0M321.0 976.6h0M333.5 984.9h0M189.3 757.4h0M234.7 754.5h0M204.8 724.8h0M217.9 730.0h0M215.4 744.7h0M217.0 717.9h0M224.3 639.5h0M242.8 697.9h0M242.7 671.2h0M215.2 752.2h0M214.7 735.7h0M192.7 727.9h0M248.0 699.4h0M232.8 686.1h0M200.4 752.6h0M217.3 744.1h0M245.0 749.6h0M198.9 757.5h0M219.2 725.1h0M213.4 731.3h0M207.5 743.6h0M215.2 747.9h0M171.8 756.3h0M234.2 741.4h0M204.0 726.7h0M216.1 709.9h0M184.0 659.8h0M261.9 733.3h0M225.6 738.3h0M172.8 623.7h0M200.6 644.2h0M206.4 690.3h0M192.9 739.3h0M184.8 757.1h0M185.6 757.1h0M195.2 736.4h0M216.4 692.1h0M217.9 730.1h0M239.6 757.5h0M209.5 691.2h0M165.9 754.8h0M209.8 750.8h0M235.6 757.5h0M188.1 756.8h0M216.5 719.0h0M219.6 749.7h0M191.5 730.7h0M208.4 658.6h0M191.5 685.7h0M242.9 729.4h0M226.3 747.2h0M213.9 757.2h0M227.2 670.8h0M226.9 742.9h0M194.8 712.7h0M185.3 666.6h0M182.8 676.6h0M186.2 719.3h0M229.8 738.7h0M235.7 712.9h0M244.5 741.1h0M184.9 695.5h0M212.6 717.8h0M238.3 753.6h0M250.0 746.4h0M205.9 727.2h0M205.0 734.2h0M204.8 707.1h0M221.9 708.6h0M229.6 685.0h0M233.4 721.1h0M203.4 656.0h0M243.4 712.3h0M191.9 648.4h0M226.1 687.5h0M241.2 735.8h0M236.3 644.2h0M222.2 698.9h0M205.1 663.9h0M211.5 706.5h0M197.9 755.4h0M192.4 750.7h0M236.2 748.6h0M188.6 749.7h0M198.6 725.4h0M241.2 734.5h0M221.4 700.2h0M249.4 711.1h0M222.4 754.4h0M236.6 745.6h0M190.2 657.0h0M218.7 716.1h0M250.2 745.6h0M164.2 857.8h0M148.6 771.6h0M131.7 797.9h0M130.6 868.5h0M164.0 844.5h0M128.7 883.6h0M148.1 889.4h0M142.4 873.4h0M159.3 782.9h0M161.5 787.8h0M140.0 785.9h0M141.5 902.3h0M128.5 789.2h0M137.7 873.9h0M141.6 865.4h0M131.1 868.9h0M130.4 850.8h0M139.6 772.3h0M145.4 824.8h0M157.3 896.3h0M167.0 864.2h0M149.3 812.1h0M158.5 877.8h0M164.5 909.7h0M142.6 806.7h0M164.7 852.7h0M398.8 733.1h0M439.9 743.0h0M396.4 754.1h0M368.2 771.9h0M392.1 770.1h0M480.2 770.9h0M496.1 779.3h0M414.5 780.0h0M444.6 781.3h0M404.3 788.2h0M431.9 787.0h0M489.1 795.6h0M403.3 798.1h0M429.2 797.1h0M442.9 799.8h0M480.9 806.5h0M393.9 804.8h0M403.8 805.2h0M416.5 808.7h0M395.6 809.9h0M342.1 801.8h0M301.3 809.2h0M332.9 812.4h0M326.7 823.5h0M384.7 822.3h0M440.1 819.6h0M367.7 828.2h0M374.7 828.7h0M370.2 830.7h0M393.1 829.7h0M407.1 833.9h0M334.2 836.9h0M330.6 866.2h0M353.1 860.1h0M363.0 865.4h0M368.6 879.7h0M359.3 890.9h0M353.1 897.0h0M346.7 897.9h0M322.7 880.8h0M320.7 885.3h0M330.6 887.2h0M326.9 895.1h0M335.4 896.5h0M328.3 915.8h0M325.5 922.2h0M312.9 932.0h0M322.7 930.1h0M329.8 937.6h0M335.4 939.0h0M318.5 939.0h0M319.9 944.6h0M326.9 948.8h0M336.8 948.0h0M335.4 955.8h0M343.8 958.6h0M345.2 966.4h0M351.7 967.8h0M356.5 971.8h0M329.8 981.0h0M335.4 986.0h0M346.1 985.2h0M314.3 961.4h0M311.4 953.0h0M391.7 871.3h0M394.5 873.2h0M419.9 864.3h0M425.5 869.0h0M388.9 941.2h0M431.1 942.9h0M365.0 933.4h0M377.6 924.5h0M383.3 908.2h0M403.0 906.8h0M342.4 887.2h0" fill="none" stroke="#c0c0c0" stroke-width="4.5" stroke-linecap="round"/>
<g clip-path="url(#cp1004)"><path d="M334.3 586.0 334.3 600.6 334.4 614.9 334.4 628.9 334.5 642.7 334.5 656.1 334.6 669.2 334.7 682.1 334.7 694.6 334.8 706.9 334.9 719.0 334.9 730.8 335.0 742.3 335.1 753.6 335.2 764.5 335.3 774.9 335.5 785.3 335.7 795.8 336.0 806.3 336.3 816.5 336.7 826.0 337.1 834.6 337.4 842.0 337.7 847.8 338.0 852.5 338.2 856.6 338.5 860.2 338.7 863.5 339.0 866.6 339.2 869.8 339.5 873.1 339.8 876.7 340.1 880.4 340.5 884.1 340.8 887.8 341.2 891.5 341.6 895.2 342.0 898.8 342.4 902.3 342.8 905.8 343.4 909.3 343.9 912.8 344.5 916.3 345.1 919.6 345.7 922.8 346.3 925.8 346.9 928.5 347.6 931.0 348.2 933.4 348.9 935.7 349.6 937.9 350.4 940.0 351.2 941.9 352.0 943.9 352.9 945.8 353.8 947.6 354.8 949.4 355.9 951.1 357.0 952.7 358.2 954.3 359.5 955.8 360.9 957.1 362.4 958.4 364.0 959.7 365.8 960.9 367.8 962.0 369.8 963.0 371.8 964.0 373.8 965.0 375.8 965.8 377.9 966.6 380.0 967.4 382.1 968.1 384.3 968.8 386.5 969.4 388.9 970.0 391.3 970.6 393.8 971.1 396.3 971.5 398.9 972.0 401.6 972.4 404.5 972.8 407.7 973.1 411.2 973.5 415.1 973.9 419.7 974.3 425.0 974.6 431.0 975.0 437.5 975.3 444.4 975.6 451.6 976.0 459.1 976.3 466.9 976.6 475.3 976.9 484.3 977.3 493.8 977.6 503.9 977.9 514.4 978.2 525.4 978.5 536.8 978.8" fill="none" stroke="#000" stroke-width="2.8" stroke-linejoin="round"/>
<path d="M275.7 586.0 275.7 600.6 275.6 614.9 275.6 628.9 275.5 642.7 275.5 656.1 275.4 669.2 275.3 682.1 275.3 694.6 275.2 706.9 275.1 719.0 275.1 730.8 275.0 742.3 274.9 753.6 274.8 764.5 274.7 774.9 274.5 785.3 274.3 795.8 274.0 806.3 273.7 816.5 273.3 826.0 272.9 834.6 272.6 842.0 272.3 847.8 272.0 852.5 271.8 856.6 271.5 860.2 271.3 863.5 271.0 866.6 270.8 869.8 270.5 873.1 270.2 876.7 269.9 880.4 269.5 884.1 269.2 887.8 268.8 891.5 268.4 895.2 268.0 898.8 267.6 902.3 267.2 905.8 266.6 909.3 266.1 912.8 265.5 916.3 264.9 919.6 264.3 922.8 263.7 925.8 263.1 928.5 262.4 931.0 261.8 933.4 261.1 935.7 260.4 937.9 259.6 940.0 258.8 941.9 258.0 943.9 257.1 945.8 256.2 947.6 255.2 949.4 254.1 951.1 253.0 952.7 251.8 954.3 250.5 955.8 249.1 957.1 247.6 958.4 246.0 959.7 244.2 960.9 242.2 962.0 240.2 963.0 238.2 964.0 236.2 965.0 234.2 965.8 232.1 966.6 230.0 967.4 227.9 968.1 225.7 968.8 223.5 969.4 221.1 970.0 218.7 970.6 216.2 971.1 213.7 971.5 211.1 972.0 208.4 972.4 205.5 972.8 202.3 973.1 198.8 973.5 194.9 973.9 190.3 974.3 185.0 974.6 179.0 975.0 172.5 975.3 165.6 975.6 158.4 976.0 150.9 976.3 143.1 976.6 134.7 976.9 125.7 977.3 116.2 977.6 106.1 977.9 95.6 978.2 84.6 978.5 73.2 978.8" fill="none" stroke="#000" stroke-width="2.8" stroke-linejoin="round"/>
</g>
<path d="M73 585V1004.2H537" fill="none" stroke="#000" stroke-width="2.2"/>
<path d="M73 1004.2h-4.6M73 951.8h-4.6M73 899.4h-4.6M73 847.0h-4.6M73 794.6h-4.6M73 742.2h-4.6M73 689.8h-4.6M73 637.4h-4.6M89.4 1004.2v4.6M120.2 1004.2v4.6M151.0 1004.2v4.6M181.8 1004.2v4.6M212.6 1004.2v4.6M243.4 1004.2v4.6M274.2 1004.2v4.6M305.0 1004.2v4.6M335.8 1004.2v4.6M366.6 1004.2v4.6M397.4 1004.2v4.6M428.2 1004.2v4.6M459.0 1004.2v4.6M489.8 1004.2v4.6M520.6 1004.2v4.6" fill="none" stroke="#000" stroke-width="2"/>
<text x="-2.5" y="595.8" font-size="62.5" fill="#231f20" textLength="46.2" lengthAdjust="spacingAndGlyphs" dx="-3.12">C</text>
<text x="415.7" y="587.6" font-size="36" fill="#e2262d" textLength="79.1" lengthAdjust="spacingAndGlyphs" dx="-1.80">After</text>
<text x="57.3" y="697.6" font-size="24.8" fill="#231f20" text-anchor="middle" textLength="15.1" lengthAdjust="spacingAndGlyphs">6</text>
<text x="50.9" y="1015.0" font-size="24.8" fill="#231f20" text-anchor="middle" textLength="14.9" lengthAdjust="spacingAndGlyphs">0</text>
<text x="51.9" y="798.8" font-size="23" fill="#231f20" text-anchor="middle" textLength="54.3" lengthAdjust="spacingAndGlyphs" transform="rotate(-90 51.9 798.8)">-logP</text>
<text x="148.5" y="1031.5" font-size="24" fill="#231f20" text-anchor="middle" textLength="36.5" lengthAdjust="spacingAndGlyphs">-10</text>
<text x="304.0" y="1031.5" font-size="24" fill="#231f20" text-anchor="middle" textLength="14.2" lengthAdjust="spacingAndGlyphs">0</text>
<text x="456.5" y="1031.5" font-size="24" fill="#231f20" text-anchor="middle" textLength="26.2" lengthAdjust="spacingAndGlyphs">10</text>
<text x="195.5" y="1052.5" font-size="21.5" fill="#231f20" textLength="190.2" lengthAdjust="spacingAndGlyphs" dx="-1.07">log2(Elute - Lysate)</text>
<text x="368.6" y="724.1" font-size="19.3" fill="#e2262d" textLength="51.6" lengthAdjust="spacingAndGlyphs" dx="-0.97">IGS10</text>
<text x="339.8" y="758.8" font-size="19.3" fill="#e2262d" textLength="42.0" lengthAdjust="spacingAndGlyphs" dx="-0.97">NID1</text>
<text x="413.2" y="772.5" font-size="19.3" fill="#e2262d" textLength="43.9" lengthAdjust="spacingAndGlyphs" dx="-0.97">LRP8</text>
<text x="329.8" y="795.7" font-size="19.3" fill="#e2262d" textLength="63.7" lengthAdjust="spacingAndGlyphs" dx="-0.97">MFSD6</text>
<text x="457.1" y="821.5" font-size="19.3" fill="#e2262d" textLength="58.8" lengthAdjust="spacingAndGlyphs" dx="-0.97">PORIM</text>
<text x="374.2" y="834.7" font-size="19.3" fill="#e2262d" textLength="65.4" lengthAdjust="spacingAndGlyphs" dx="-0.97">OLM2A</text>
<text x="397.6" y="876.7" font-size="19.3" fill="#e2262d" textLength="60.3" lengthAdjust="spacingAndGlyphs" dx="-0.97">CCD80</text>
<text x="357.3" y="892.1" font-size="19.3" fill="#e2262d" textLength="48.4" lengthAdjust="spacingAndGlyphs" dx="-0.97">CD44</text>
<path d="M427.7 851.6h0M369.4 862.4h0M354.5 878.9h0M394.0 892.1h0M379.5 898.7h0M398.5 911.8h0" fill="none" stroke="#00a651" stroke-width="7.4" stroke-linecap="round"/>
<path d="M198.9 744.4h0M211.4 770.9h0M225.9 780.5h0M191.8 828.0h0M206.4 826.0h0M217.9 837.1h0M249.9 865.1h0M235.9 888.1h0M276.5 912.2h0M326.1 966.8h0M312.6 981.8h0M405.3 841.5h0" fill="none" stroke="#f5e02a" stroke-width="7.4" stroke-linecap="round"/>
<path d="M232.4 769.4h0M229.9 830.5h0M268.0 831.5h0M181.3 846.1h0M260.5 894.2h0M283.5 929.2h0M249.9 947.3h0M284.0 982.3h0M295.0 985.8h0M395.3 809.8h0" fill="none" stroke="#f58220" stroke-width="7.4" stroke-linecap="round"/>
<path d="M334.1 933.2h0M347.1 945.7h0M368.2 957.8h0M223.4 755.9h0M206.9 835.0h0M214.4 842.6h0M250.5 871.1h0M264.5 868.6h0M240.9 927.2h0M300.5 996.8h0M309.1 994.3h0M316.1 989.3h0M398.7 733.2h0M396.1 754.2h0M414.6 780.2h0M403.1 798.3h0M429.2 797.2h0M489.1 795.7h0M416.4 808.7h0M367.1 828.6h0M403.1 853.9h0M350.1 877.1h0M361.6 875.5h0M388.9 897.4h0" fill="none" stroke="#e2262d" stroke-width="7.4" stroke-linecap="round"/>
</g>
<g id="resources">
<text x="555.5" y="59.2" font-size="63.5" fill="#231f20" textLength="43.9" lengthAdjust="spacingAndGlyphs" dx="-3.18">B</text>
<text x="644.3" y="282.2" font-size="31.3" fill="#6d6e71" font-weight="bold" textLength="248.3" lengthAdjust="spacingAndGlyphs" dx="-1.57" transform="rotate(-90 644.3 282.2)" stroke="#6d6e71" stroke-width=".7">Resources Used</text>
<rect x="756.5" y="1.8" width="284.7" height="41.2" fill="#f09ec3" stroke="#d57fb4" stroke-width="2.9"/>
<text x="772.6" y="28.3" font-size="23.6" fill="#fff" font-weight="bold" textLength="254.4" lengthAdjust="spacingAndGlyphs" dx="-1.18">O-glycosite Prediction</text>
<rect x="710" y="89" width="160.5" height="160.5" rx="21" fill="#f09ec3" stroke="#d57fb4" stroke-width="2.5"/>
<text x="790.2" y="128.4" font-size="43" fill="#fff" font-weight="bold" text-anchor="middle" textLength="117.3" lengthAdjust="spacingAndGlyphs" font-family='"DejaVu Sans Condensed", "DejaVu Sans", sans-serif'>NetO</text>
<text x="790.2" y="181.3" font-size="43" fill="#fff" font-weight="bold" text-anchor="middle" textLength="95.3" lengthAdjust="spacingAndGlyphs" font-family='"DejaVu Sans Condensed", "DejaVu Sans", sans-serif'>Glyc</text>
<text x="790.2" y="235.0" font-size="43" fill="#fff" font-weight="bold" text-anchor="middle" textLength="67.3" lengthAdjust="spacingAndGlyphs" font-family='"DejaVu Sans Condensed", "DejaVu Sans", sans-serif'>4.0</text>
<path d="M873.6 164.3H902" stroke="#e6317a" stroke-width="2" fill="none"/><path d="M910 164.3l-11.5-5.2 2.6 5.2-2.6 5.2z" fill="#e6317a"/>
<path d="M914 62H1070L1087.5 83.5V282.5H914Z" fill="#fff" stroke="#000" stroke-width="3" stroke-linejoin="miter"/>
<path d="M1070 62V83.5H1087.5" fill="none" stroke="#000" stroke-width="1.8"/>
<text x="931.0" y="86.7" font-size="23" fill="#111" font-weight="bold" textLength="143.3" lengthAdjust="spacingAndGlyphs" dx="-1.15" font-family='"DejaVu Sans Condensed", "DejaVu Sans", sans-serif'>O-Glycosites</text>
<path d="M921 102.5H978.4" stroke="#808285" stroke-width="5.8"/><path d="M986 102.5H995.3M1003 102.5H1021.6" stroke="#808285" stroke-width="5.8"/><text x="1026.0" y="107.7" font-size="15" fill="#231f20" textLength="57.0" lengthAdjust="spacingAndGlyphs" dx="-0.75" font-family='"DejaVu Sans Condensed", "DejaVu Sans", sans-serif'>Positive</text>
<path d="M921 117.9H978.4" stroke="#808285" stroke-width="5.8"/><path d="M986 117.9H995.3M1003 117.9H1021.6" stroke="#808285" stroke-width="5.8"/><text x="1026.0" y="123.1" font-size="15" fill="#231f20" textLength="57.0" lengthAdjust="spacingAndGlyphs" dx="-0.75" font-family='"DejaVu Sans Condensed", "DejaVu Sans", sans-serif'>Positive</text>
<path d="M921 133.1H978.4" stroke="#808285" stroke-width="5.8"/><path d="M986 133.1H995.3M1003 133.1H1021.6" stroke="#808285" stroke-width="5.8"/><text x="1026.0" y="138.3" font-size="15" fill="#231f20" textLength="57.0" lengthAdjust="spacingAndGlyphs" dx="-0.75" font-family='"DejaVu Sans Condensed", "DejaVu Sans", sans-serif'>Positive</text>
<path d="M921 148.3H978.4" stroke="#808285" stroke-width="5.8"/><path d="M986 148.3H995.3M1003 148.3H1021.6" stroke="#808285" stroke-width="5.8"/><path d="M921 163.5H978.4" stroke="#808285" stroke-width="5.8"/><path d="M986 163.5H995.3M1003 163.5H1021.6" stroke="#808285" stroke-width="5.8"/><text x="1026.0" y="168.7" font-size="15" fill="#231f20" textLength="57.0" lengthAdjust="spacingAndGlyphs" dx="-0.75" font-family='"DejaVu Sans Condensed", "DejaVu Sans", sans-serif'>Positive</text>
<path d="M921 178.6H978.4" stroke="#00a0d2" stroke-width="5.8"/><path d="M986 178.6H995.3M1003 178.6H1021.6" stroke="#4aa0d5" stroke-width="5.8"/><path d="M921 193.8H978.4" stroke="#00a0d2" stroke-width="5.8"/><path d="M986 193.8H995.3M1003 193.8H1021.6" stroke="#4aa0d5" stroke-width="5.8"/><text x="1026.0" y="199.0" font-size="15" fill="#231f20" textLength="57.0" lengthAdjust="spacingAndGlyphs" dx="-0.75" font-family='"DejaVu Sans Condensed", "DejaVu Sans", sans-serif'>Positive</text>
<path d="M921 209.3H978.4" stroke="#00a0d2" stroke-width="5.8"/><path d="M986 209.3H995.3M1003 209.3H1021.6" stroke="#4aa0d5" stroke-width="5.8"/><path d="M921 224.5H978.4" stroke="#f05a28" stroke-width="5.8"/><path d="M986 224.5H995.3M1003 224.5H1021.6" stroke="#f05a28" stroke-width="5.8"/><text x="1026.0" y="229.7" font-size="15" fill="#231f20" textLength="57.0" lengthAdjust="spacingAndGlyphs" dx="-0.75" font-family='"DejaVu Sans Condensed", "DejaVu Sans", sans-serif'>Positive</text>
<path d="M921 239.9H978.4" stroke="#00a651" stroke-width="5.8"/><path d="M986 239.9H995.3M1003 239.9H1021.6" stroke="#00a651" stroke-width="5.8"/><path d="M921 255.1H978.4" stroke="#00a651" stroke-width="5.8"/><path d="M986 255.1H995.3M1003 255.1H1021.6" stroke="#00a651" stroke-width="5.8"/><text x="1026.0" y="260.3" font-size="15" fill="#231f20" textLength="57.0" lengthAdjust="spacingAndGlyphs" dx="-0.75" font-family='"DejaVu Sans Condensed", "DejaVu Sans", sans-serif'>Positive</text>
<path d="M921 270.3H978.4" stroke="#00a651" stroke-width="5.8"/><path d="M986 270.3H995.3M1003 270.3H1021.6" stroke="#00a651" stroke-width="5.8"/><text x="1026.0" y="275.5" font-size="15" fill="#231f20" textLength="57.0" lengthAdjust="spacingAndGlyphs" dx="-0.75" font-family='"DejaVu Sans Condensed", "DejaVu Sans", sans-serif'>Positive</text>

<rect x="1184.7" y="1.8" width="285.2" height="41.2" fill="#74a7d0" stroke="#1a73b5" stroke-width="2.9"/>
<text x="1201.3" y="28.3" font-size="23.6" fill="#fff" font-weight="bold" textLength="253.7" lengthAdjust="spacingAndGlyphs" dx="-1.18">Curated Phosphosites</text>
<rect x="1217" y="62.8" width="220.2" height="94" rx="33" fill="#74a7d0" stroke="#1a73b5" stroke-width="2.2"/>
<rect x="1217" y="176.6" width="220.2" height="94" rx="33" fill="#74a7d0" stroke="#1a73b5" stroke-width="2.2"/>
<text x="1327.5" y="105.0" font-size="30.5" fill="#fff" font-weight="bold" text-anchor="middle" textLength="197.1" lengthAdjust="spacingAndGlyphs" font-family='"DejaVu Sans Condensed", "DejaVu Sans", sans-serif'>PhosphoSite</text>
<text x="1327.5" y="142.1" font-size="30.5" fill="#fff" font-weight="bold" text-anchor="middle" textLength="67.5" lengthAdjust="spacingAndGlyphs" font-family='"DejaVu Sans Condensed", "DejaVu Sans", sans-serif'>Plus</text>
<text x="1327.5" y="232.6" font-size="30.5" fill="#fff" font-weight="bold" text-anchor="middle" textLength="124.5" lengthAdjust="spacingAndGlyphs" font-family='"DejaVu Sans Condensed", "DejaVu Sans", sans-serif'>Uniprot</text>
<rect x="1566.5" y="1.8" width="371.9" height="41.2" fill="#a7a9ac" stroke="#58595b" stroke-width="2.9"/>
<text x="1579.4" y="28.3" font-size="23.6" fill="#fff" font-weight="bold" textLength="348.2" lengthAdjust="spacingAndGlyphs" dx="-1.18">Cellular Component GO Terms</text>
<g id="cellgo">
<path d="M1566.5 60.5H1586V250L1566.5 257ZM1937.5 75.5C1928 80 1922 86 1921.5 96C1921 130 1926 170 1925 200C1924 230 1914 246 1913 256C1912.5 262 1914 265 1915 267L1937.5 291ZM1566.5 257L1600 266L1742 290L1915 266L1937.5 291V292.7H1566.5Z" fill="#f1f1f2"/>
<path d="M1566.5 257C1590 258 1600 272 1625 278C1660 285 1700 284 1728 285C1738 286 1741 289 1742.5 293C1744 288 1748 285 1758 284.5C1800 284 1850 280 1885 271C1900 267 1908 265 1914 266C1922 270 1930 284 1937.5 292.7V293H1566.5Z" fill="#f1f1f2"/>
<path d="M1588 68C1600 58 1640 54 1750 53.5C1850 54 1900 58 1917 72C1924 80 1924 120 1925 190C1924 230 1912 250 1913 262C1890 272 1800 283 1745 284C1700 284 1620 280 1582 254C1578 200 1584 120 1588 68Z" fill="#fff"/>
<path d="M1590 118.1Q1637 99 1715 64M1590 122.3Q1643 104 1726 71M1590 125.9Q1633 103 1706 65M1590 130.8Q1632 108 1705 70M1590 135.5Q1639 112 1718 73M1590 139.7Q1637 115 1713 74M1590 143.3Q1646 116 1732 73M1590 148.5Q1648 119 1737 74M1590 152.5Q1657 123 1753 77M1590 156.1Q1652 128 1744 84M1590 162.0Q1659 132 1759 85M1590 166.0Q1656 131 1753 79M1590 169.9Q1662 135 1764 83M1590 173.4Q1661 138 1763 86M1590 177.7Q1662 141 1763 88M1590 183.2Q1669 143 1778 88M1590 186.4Q1669 145 1778 88M1590 190.5Q1672 148 1784 89M1590 195.4Q1672 154 1784 96M1590 200.2Q1680 157 1800 98M1590 203.7Q1682 158 1803 96M1590 208.4Q1678 162 1796 99M1590 211.7Q1679 166 1797 105M1590 216.4Q1689 168 1818 104M1590 221.6Q1687 171 1815 105M1590 224.6Q1683 172 1805 103" fill="none" stroke="#d4d5d6" stroke-width="1.1"/>
<path d="M1592 98.0C1680 104 1760 88 1868 76M1592 103.5C1680 110 1760 92 1865 84M1592 109.0C1680 115 1760 97 1866 91M1592 114.5C1680 120 1760 102 1888 99M1592 120.0C1680 126 1760 106 1869 107M1592 125.5C1680 132 1760 110 1908 114M1592 131.0C1680 137 1760 115 1894 122M1592 136.5C1680 142 1760 120 1887 130M1592 142.0C1680 148 1760 124 1895 138" fill="none" stroke="#dcdddd" stroke-width="1.3"/>
<path d="M1592 133C1640 140 1700 118 1760 108C1800 102 1850 108 1900 121C1850 116 1800 118 1760 125C1700 135 1650 160 1594 160Z" fill="#d9dadb" opacity=".8"/>
<path d="M1640 128C1690 120 1720 104 1760 100C1790 98 1810 100 1830 104L1830 112C1800 110 1780 112 1750 117C1710 124 1680 134 1640 136Z" fill="#c9cacc" opacity=".85"/>
<path d="M1600 112C1660 110 1700 82 1760 66L1800 62L1790 70C1740 84 1690 112 1602 122Z" fill="#e3e4e5" opacity=".9"/>
<path d="M1760 70L1870 62L1790 92ZM1775 100L1880 72L1820 106Z" fill="#e6e7e8" opacity=".8"/>
<path d="M1860 104L1915 100M1850 115L1917 116M1850 124L1918 125M1860 132L1918 134M1862 97L1908 88" fill="none" stroke="#d4d5d6" stroke-width="1.2"/>
<circle cx="1751.6" cy="82.6" r="16" fill="#fbfbfb" stroke="#ededee" stroke-width="1"/>
<path d="M1648 158C1650 148 1668 150 1690 146C1700 144 1712 150 1700 160C1688 168 1672 178 1658 176C1648 174 1646 166 1648 158Z" fill="#fff" stroke="#d4d5d6" stroke-width="1.2"/>
<path d="M1822 86.0C1844 84.0 1862 112.0 1888 118.0M1825 93.5C1847 91.5 1865 119.5 1888 122.5M1828 101.0C1850 99.0 1868 127.0 1888 127.0M1831 108.5C1853 106.5 1871 134.5 1888 131.5M1834 116.0C1856 114.0 1874 142.0 1888 136.0" fill="none" stroke="#cfd0d2" stroke-width="5.5" stroke-linecap="round"/>
<path d="M1822 86.0C1844 84.0 1862 112.0 1888 118.0M1825 93.5C1847 91.5 1865 119.5 1888 122.5M1828 101.0C1850 99.0 1868 127.0 1888 127.0M1831 108.5C1853 106.5 1871 134.5 1888 131.5M1834 116.0C1856 114.0 1874 142.0 1888 136.0" fill="none" stroke="#fff" stroke-width="3.3" stroke-linecap="round"/>
<ellipse cx="1757" cy="197" rx="46" ry="36" transform="rotate(-12 1757 197)" fill="none" stroke="#b9bbbd" stroke-width="5" stroke-linecap="round" stroke-dasharray="13 7" stroke-dashoffset="0"/>
<ellipse cx="1757" cy="197" rx="46" ry="36" transform="rotate(-12 1757 197)" fill="none" stroke="#fff" stroke-width="3" stroke-linecap="round" stroke-dasharray="13 7" stroke-dashoffset="0"/>
<ellipse cx="1757" cy="197" rx="56" ry="45" transform="rotate(-12 1757 197)" fill="none" stroke="#b9bbbd" stroke-width="5" stroke-linecap="round" stroke-dasharray="16 8" stroke-dashoffset="5"/>
<ellipse cx="1757" cy="197" rx="56" ry="45" transform="rotate(-12 1757 197)" fill="none" stroke="#fff" stroke-width="3" stroke-linecap="round" stroke-dasharray="16 8" stroke-dashoffset="5"/>
<ellipse cx="1757" cy="197" rx="66" ry="54" transform="rotate(-12 1757 197)" fill="none" stroke="#b9bbbd" stroke-width="5" stroke-linecap="round" stroke-dasharray="14 9" stroke-dashoffset="11"/>
<ellipse cx="1757" cy="197" rx="66" ry="54" transform="rotate(-12 1757 197)" fill="none" stroke="#fff" stroke-width="3" stroke-linecap="round" stroke-dasharray="14 9" stroke-dashoffset="11"/>
<ellipse cx="1757" cy="197" rx="76" ry="62" transform="rotate(-12 1757 197)" fill="none" stroke="#b9bbbd" stroke-width="5" stroke-linecap="round" stroke-dasharray="11 12" stroke-dashoffset="3"/>
<ellipse cx="1757" cy="197" rx="76" ry="62" transform="rotate(-12 1757 197)" fill="none" stroke="#fff" stroke-width="3" stroke-linecap="round" stroke-dasharray="11 12" stroke-dashoffset="3"/>
<ellipse cx="1754.5" cy="202.8" rx="35" ry="25.5" transform="rotate(-8 1754.5 202.8)" fill="#fff" stroke="#a9abae" stroke-width="2.6" stroke-dasharray="30 2.5 22 2.5 40 2.5"/>
<g transform="rotate(-27 1877 197)"><rect x="1853" y="185.5" width="48" height="23" rx="11.5" fill="#fff" stroke="#cfd1d2" stroke-width="3"/><path d="M1863 186.5v11M1871 207.5v-11M1879 186.5v11M1887 207.5v-11M1894 187.5v8" stroke="#cfd1d2" stroke-width="3" stroke-linecap="round" fill="none"/></g>
<path d="M1590 72C1600 60 1640 56 1750 55.5C1850 56 1898 60 1914 74C1920 82 1919 120 1920 190C1919 228 1908 248 1906 258C1880 268 1800 278 1745 279C1700 279 1630 276 1590 250C1586 200 1588 120 1590 72Z" fill="none" stroke="#c4c6c8" stroke-width="1.1"/>
<path d="M1614 57C1680 52 1820 52 1888 62" fill="none" stroke="#d0d1d3" stroke-width="1"/>
<path d="M1567.5 61.5C1578 61.5 1586 63 1586.5 72C1587 110 1579 150 1579 200C1579 225 1584 240 1580 248C1577 254 1572 256 1567.5 256.5M1567.5 257.5C1590 258 1600 272 1625 278C1660 285 1700 284 1728 285C1738 286 1741 289 1742.5 292M1743.5 292C1744.5 288 1748 285 1758 284.5C1800 284 1850 280 1885 271C1900 267 1908 265 1914 266C1922 270 1930 284 1936.5 290.5M1936.5 76C1928 80 1922 86 1921.5 96C1921 130 1926 170 1925 200C1924 230 1914 246 1913 256C1912.5 262 1914 265 1915 267" fill="none" stroke="#8e9093" stroke-width="3.7" stroke-linecap="round" stroke-linejoin="round"/>
</g>
<path d="M898.3 299V316.7H1753V299M1327.1 299V364" fill="none" stroke="#6d6e71" stroke-width="2.3"/><path d="M1327.1 372l-8-8.8h16z" fill="#6d6e71"/>
</g>
<g id="algorithm">
<rect x="654.1" y="380" width="1346" height="429.9" fill="#fff" stroke="#62ba57" stroke-width="8"/>
<text x="600.8" y="594.9" font-size="32.8" fill="#62ba57" font-weight="bold" text-anchor="middle" textLength="213.8" lengthAdjust="spacingAndGlyphs" transform="rotate(-90 600.8 594.9)" stroke="#62ba57" stroke-width=".5">Mucin domain</text>
<text x="638.6" y="593.7" font-size="32.8" fill="#62ba57" font-weight="bold" text-anchor="middle" textLength="317.3" lengthAdjust="spacingAndGlyphs" transform="rotate(-90 638.6 593.7)" stroke="#62ba57" stroke-width=".5">Candidacy Algorithm</text>
<rect x="686.1" y="405.0" width="280.1" height="61.4" fill="#84c57c" stroke="#4f9d4c" stroke-width="2.2"/>
<rect x="1018.1" y="405.0" width="242.0" height="61.4" fill="#84c57c" stroke="#4f9d4c" stroke-width="2.2"/>
<rect x="1320.8" y="405.0" width="357.2" height="61.4" fill="#84c57c" stroke="#4f9d4c" stroke-width="2.2"/>
<rect x="1744.3" y="405.0" width="217.0" height="61.4" fill="#84c57c" stroke="#4f9d4c" stroke-width="2.2"/>
<text x="826.2" y="430.0" font-size="23.6" fill="#fff" font-weight="bold" text-anchor="middle" textLength="256.4" lengthAdjust="spacingAndGlyphs">Remove Phosphosites</text>
<text x="826.2" y="458.5" font-size="23.6" fill="#fff" font-weight="bold" text-anchor="middle" textLength="239.4" lengthAdjust="spacingAndGlyphs">+ Calculate T/S-Ratio</text>
<text x="1139.2" y="430.0" font-size="23.6" fill="#fff" font-weight="bold" text-anchor="middle" textLength="216.4" lengthAdjust="spacingAndGlyphs">Assign Subcellular</text>
<text x="1139.2" y="458.5" font-size="23.6" fill="#fff" font-weight="bold" text-anchor="middle" textLength="138.4" lengthAdjust="spacingAndGlyphs">Localization</text>
<text x="1499.4" y="444.0" font-size="23.6" fill="#fff" font-weight="bold" text-anchor="middle" textLength="315.4" lengthAdjust="spacingAndGlyphs">9 O-sites within 50 residues</text>
<text x="1852.8" y="441.5" font-size="23.6" fill="#fff" font-weight="bold" text-anchor="middle" textLength="106.4" lengthAdjust="spacingAndGlyphs">12% Rule</text>
<g id="tslogo">
<rect x="752" y="519" width="147.5" height="228.5" fill="#fafcfd"/>
<text transform="translate(750.51 691.70) scale(1.2794 2.3503)" font-size="100" font-weight="bold" fill="#f5ae22">T</text>
<text transform="translate(823.32 657.00) scale(1.2759 1.6395)" font-size="100" font-weight="bold" fill="#f5ae22">T</text>
<clipPath id="tsclip"><rect x="752" y="519" width="147.5" height="221.6"/></clipPath><g clip-path="url(#tsclip)"><text transform="translate(748.76 744.03) scale(1.2339 0.7455)" font-size="100" font-weight="bold" fill="#f5ae22">S</text>
<text transform="translate(821.57 744.37) scale(1.2305 1.2517)" font-size="100" font-weight="bold" fill="#f5ae22">S</text>
</g>
</g>
<g id="pincell">
<circle cx="1139" cy="699.2" r="73.3" fill="#b9e0b3" stroke="#3e5166" stroke-width="4"/>
<circle cx="1139" cy="699.2" r="65" fill="#dcdddf" stroke="#3e5166" stroke-width="4"/>
<g transform="rotate(48 1167.9 669.8)"><rect x="1155.4" y="662.8" width="25" height="14" rx="7" fill="#7badd9" stroke="#3e5166" stroke-width="3.6"/><path d="M1161.9 670.8q3 -5 6 0t6 0" fill="none" stroke="#5b93c9" stroke-width="2.2" stroke-linecap="round"/></g>
<g transform="rotate(-72 1178.7 709.2)"><rect x="1166.2" y="702.2" width="25" height="14" rx="7" fill="#7badd9" stroke="#3e5166" stroke-width="3.6"/><path d="M1172.7 710.2q3 -5 6 0t6 0" fill="none" stroke="#5b93c9" stroke-width="2.2" stroke-linecap="round"/></g>
<g transform="rotate(42 1110 727.6)"><rect x="1097.5" y="720.6" width="25" height="14" rx="7" fill="#7badd9" stroke="#3e5166" stroke-width="3.6"/><path d="M1104 728.6q3 -5 6 0t6 0" fill="none" stroke="#5b93c9" stroke-width="2.2" stroke-linecap="round"/></g>
<path d="M1092.6 684.4q4 -13 13 -20.4M1101.3 696q4 -22 19 -32M1110.5 699q1 -12 8.3 -20.5" fill="none" stroke="#3e5166" stroke-width="3.8" stroke-linecap="round"/>
<path d="M1138 737q12 -1 21 -6M1152 719v6M1146 726q6 0 13 -5" fill="none" stroke="#3e5166" stroke-width="3.6" stroke-linecap="round"/>
<circle cx="1124" cy="652" r="2.1" fill="#3e5166"/><circle cx="1129.5" cy="746" r="2.1" fill="#3e5166"/>
<circle cx="1139.3" cy="656.6" r="6.8" fill="#f9c04d" stroke="#3e5166" stroke-width="3.8"/>
<circle cx="1139.3" cy="698.4" r="20.3" fill="#cf62a9" stroke="#3e5166" stroke-width="4"/>
<path d="M1161 608.4A53.3 13.2 0 1 1 1117 608.4" fill="none" stroke="#f09a25" stroke-width="4.8" stroke-linecap="round"/>
<path d="M1139 626.5C1129 601 1101.6 567 1101.6 536.5A37.5 37.5 0 0 1 1176.6 536.5C1176.6 567 1149 601 1139 626.5Z" fill="#f9be4a" stroke="#f09a25" stroke-width="2.6" stroke-linejoin="round"/>
<circle cx="1139.2" cy="536.4" r="18" fill="#fff" stroke="#f09a25" stroke-width="2.8"/>
</g>
<g id="osites">
<text x="1314.6" y="527.0" font-size="24" fill="#f39a22" textLength="77.1" lengthAdjust="spacingAndGlyphs" dx="-1.20" font-family='"DejaVu Sans Condensed", "DejaVu Sans", sans-serif'>Protein</text>
<path d="M1314 533.5H1403" stroke="#f39a22" stroke-width="1.8"/>
<text x="1455.4" y="526.5" font-size="19.5" fill="#4a86c0" textLength="192.5" lengthAdjust="spacingAndGlyphs" dx="-0.98" font-family='"DejaVu Sans Condensed", "DejaVu Sans", sans-serif'>Predicted O-glycosite</text>
<rect x="1313.3" y="546.6" width="353.7" height="13.6" fill="#f9bf4b" stroke="#f39a22" stroke-width="2"/>
<rect x="1313.3" y="579.6" width="315.0" height="13.6" fill="#f9bf4b" stroke="#f39a22" stroke-width="2"/>
<rect x="1313.3" y="612.2" width="135.5" height="13.6" fill="#f9bf4b" stroke="#f39a22" stroke-width="2"/>
<rect x="1313.3" y="644.7" width="373.0" height="13.6" fill="#f9bf4b" stroke="#f39a22" stroke-width="2"/>
<rect x="1313.3" y="677.8" width="295.2" height="13.6" fill="#f9bf4b" stroke="#f39a22" stroke-width="2"/>
<rect x="1313.3" y="746.4" width="267.7" height="13.6" fill="#f9bf4b" stroke="#f39a22" stroke-width="2"/>
<g fill="#6ea3d3" fill-opacity=".8" stroke="#4183c4" stroke-width="2.2"><circle cx="1434" cy="519.8" r="12.7"/><circle cx="1348.6" cy="553.4" r="12.7"/><circle cx="1403.6" cy="553.4" r="12.7"/><circle cx="1515.4" cy="553.4" r="12.7"/><circle cx="1527.6" cy="553.4" r="12.7"/><circle cx="1538.3" cy="553.4" r="12.7"/><circle cx="1551.0" cy="553.4" r="12.7"/><circle cx="1563.7" cy="553.4" r="12.7"/><circle cx="1576.4" cy="553.4" r="12.7"/><circle cx="1587.6" cy="553.4" r="12.7"/><circle cx="1619.7" cy="553.4" r="12.7"/><circle cx="1335.9" cy="586.4" r="12.7"/><circle cx="1386.3" cy="586.4" r="12.7"/><circle cx="1436.6" cy="586.4" r="12.7"/><circle cx="1487.5" cy="586.4" r="12.7"/><circle cx="1537.8" cy="586.4" r="12.7"/><circle cx="1588.1" cy="586.4" r="12.7"/><circle cx="1329.3" cy="619.0" r="12.7"/><circle cx="1341.0" cy="619.0" r="12.7"/><circle cx="1352.7" cy="619.0" r="12.7"/><circle cx="1364.9" cy="619.0" r="12.7"/><circle cx="1377.1" cy="619.0" r="12.7"/><circle cx="1389.3" cy="619.0" r="12.7"/><circle cx="1402.0" cy="619.0" r="12.7"/><circle cx="1343.0" cy="651.5" r="12.7"/><circle cx="1355.3" cy="651.5" r="12.7"/><circle cx="1365.4" cy="651.5" r="12.7"/><circle cx="1377.6" cy="651.5" r="12.7"/><circle cx="1389.8" cy="651.5" r="12.7"/><circle cx="1403.6" cy="651.5" r="12.7"/><circle cx="1415.3" cy="651.5" r="12.7"/><circle cx="1479.3" cy="651.5" r="12.7"/><circle cx="1492.0" cy="651.5" r="12.7"/><circle cx="1502.2" cy="651.5" r="12.7"/><circle cx="1513.9" cy="651.5" r="12.7"/><circle cx="1547.5" cy="651.5" r="12.7"/><circle cx="1559.7" cy="651.5" r="12.7"/><circle cx="1570.8" cy="651.5" r="12.7"/><circle cx="1583.0" cy="651.5" r="12.7"/><circle cx="1594.2" cy="651.5" r="12.7"/><circle cx="1461.0" cy="684.6" r="12.7"/><circle cx="1370.0" cy="753.2" r="12.7"/><circle cx="1380.2" cy="753.2" r="12.7"/><circle cx="1391.9" cy="753.2" r="12.7"/><circle cx="1425.9" cy="753.2" r="12.7"/><circle cx="1437.6" cy="753.2" r="12.7"/><circle cx="1449.3" cy="753.2" r="12.7"/><circle cx="1461.0" cy="753.2" r="12.7"/><circle cx="1473.2" cy="753.2" r="12.7"/></g>
<path d="M1335.8 701.7V712.7M1335.8 722.5V727" stroke="#f39a22" stroke-width="5" fill="none"/><path d="M1335.8 737.5l-5.4-13.5 5.4 2 5.4-2z" fill="#f39a22"/>
</g>
<g id="rule12">
<rect x="1782.4" y="487.3" width="141.8" height="192.2" rx="19" fill="#949494"/>
<rect x="1799.7" y="502" width="106.7" height="39.7" rx="4" fill="#fff"/>
<circle cx="1817.5" cy="573.2" r="15.8" fill="#fff"/><circle cx="1853" cy="573.2" r="15.8" fill="#fff"/><circle cx="1888.7" cy="573.2" r="15.8" fill="#fff"/><circle cx="1817.5" cy="608.8" r="15.8" fill="#fff"/><circle cx="1853" cy="608.8" r="15.8" fill="#fff"/><circle cx="1888.7" cy="608.8" r="15.8" fill="#fff"/><circle cx="1817.5" cy="644.4" r="15.8" fill="#fff"/><circle cx="1853" cy="644.4" r="15.8" fill="#fff"/><circle cx="1888.7" cy="644.4" r="15.8" fill="#fff"/>
<text x="1739.0" y="698.3" font-size="19.5" fill="#231f20" textLength="85.5" lengthAdjust="spacingAndGlyphs" dx="-0.98" font-family='"DejaVu Sans Condensed", "DejaVu Sans", sans-serif'>Predicted</text>
<text x="1884.0" y="698.3" font-size="19.5" fill="#231f20" textLength="85.0" lengthAdjust="spacingAndGlyphs" dx="-0.98" font-family='"DejaVu Sans Condensed", "DejaVu Sans", sans-serif'>Predicted</text>
<rect x="1748.7" y="763.8" width="209" height="10.5" fill="#f9bf4b" stroke="#f39a22" stroke-width="2.4"/>
<path d="M1780.8 737.5V752M1925.2 737.5V752" stroke="#231f20" stroke-width="1.1" fill="none"/>
<path d="M1795 758L1835 731M1911 758L1866 731" stroke="#231f20" stroke-width="1" stroke-dasharray="4.5 3" fill="none"/>
<rect x="1763.9" y="703.8" width="33.8" height="33.5" fill="#f9d20e" stroke="#3a3a3a" stroke-width=".9"/>
<rect x="1908.6" y="703.8" width="33.3" height="33.5" fill="#f9d20e" stroke="#3a3a3a" stroke-width=".9"/>
<circle cx="1850.5" cy="721.2" r="17.8" fill="#fff" stroke="#231f20" stroke-width="1"/>
<text x="1850.3" y="727.3" font-size="17.5" fill="#111" font-weight="bold" text-anchor="middle" textLength="24.2" lengthAdjust="spacingAndGlyphs" font-family='"DejaVu Sans Condensed", "DejaVu Sans", sans-serif'>&lt;6</text>
<circle cx="1780.8" cy="768.8" r="16.4" fill="#7fadd6" fill-opacity=".82" stroke="#4a82bf" stroke-width="2.9"/>
<text x="1780.8" y="775.2" font-size="19" fill="#fff" font-weight="bold" text-anchor="middle" font-family='"DejaVu Sans Condensed", "DejaVu Sans", sans-serif'>S</text>
<circle cx="1925.2" cy="768.8" r="16.4" fill="#7fadd6" fill-opacity=".82" stroke="#4a82bf" stroke-width="2.9"/>
<text x="1925.2" y="775.2" font-size="19" fill="#fff" font-weight="bold" text-anchor="middle" font-family='"DejaVu Sans Condensed", "DejaVu Sans", sans-serif'>T</text>
</g>
</g>
<g id="score">
<path d="M922.7 813V854" stroke="#62ba57" stroke-width="7.8" fill="none"/><path d="M910.6 853H934.8L922.7 865Z" fill="#62ba57"/>
<text x="644.1" y="963.2" font-size="32.3" fill="#1b75bc" font-weight="bold" text-anchor="middle" textLength="189.2" lengthAdjust="spacingAndGlyphs" transform="rotate(-90 644.1 963.2)" stroke="#1b75bc" stroke-width="1.3" stroke-linejoin="round">Mucin Score</text>
<circle cx="681.2" cy="905.3" r="15.10" fill="#f4836c" stroke="#e0262d" stroke-width="2.4"/><circle cx="681.2" cy="944.7" r="15.10" fill="#fabe4e" stroke="#f7991f" stroke-width="2.4"/><circle cx="681.2" cy="983.7" r="15.10" fill="#f6e226" stroke="#b5ad32" stroke-width="2.4"/><circle cx="681.2" cy="1022.7" r="15.85" fill="#bdbdbd" stroke="#4d4d4d" stroke-width="0.9"/>
<text x="718.0" y="913.6" font-size="31.6" fill="#231f20" textLength="336.3" lengthAdjust="spacingAndGlyphs" dx="-1.58">High Confidence (x &gt; 2)</text>
<text x="718.0" y="952.5" font-size="31.6" fill="#231f20" textLength="464.5" lengthAdjust="spacingAndGlyphs" dx="-1.58">Medium Confidence (2 &gt; x &gt; 1.5)</text>
<text x="718.0" y="991.5" font-size="31.6" fill="#231f20" textLength="436.2" lengthAdjust="spacingAndGlyphs" dx="-1.58">Low Confidence (1.5 &gt; x &gt; 1.2)</text>
<text x="718.0" y="1030.6" font-size="31.6" fill="#231f20" textLength="281.4" lengthAdjust="spacingAndGlyphs" dx="-1.58">Non-Mucin (x &lt; 1.2)</text>
<path d="M1193.4 953.4H1228" stroke="#1b75bc" stroke-width="8" fill="none"/><path d="M1226.7 941L1248.5 953.4L1226.7 965.8Z" fill="#1b75bc"/>
<text x="1435.1" y="854.0" font-size="26.6" fill="#62ba57" font-weight="bold" text-anchor="middle" textLength="183.3" lengthAdjust="spacingAndGlyphs">Mucin-domain</text>
<text x="1435.5" y="885.3" font-size="26.6" fill="#62ba57" font-weight="bold" text-anchor="middle" textLength="247.3" lengthAdjust="spacingAndGlyphs">Glycoprotein (~2%)</text>
<text x="1738.0" y="897.3" font-size="26" fill="#a7a9ac" font-weight="bold" textLength="139.9" lengthAdjust="spacingAndGlyphs" dx="-1.30" font-family='"DejaVu Sans Condensed", "DejaVu Sans", sans-serif'>Non-Mucin</text>
<rect x="1428.5" y="907.8" width="532.5" height="81.7" fill="#d1d3d4"/>
<rect x="1413.5" y="907.8" width="15.5" height="81.7" fill="#62ba57"/>
<path d="M1412.9 897.3V999.3H1984.4" fill="none" stroke="#111" stroke-width="1.6"/>
<text x="1340.6" y="938.7" font-size="26.5" fill="#414042" font-weight="bold" text-anchor="middle" textLength="92.2" lengthAdjust="spacingAndGlyphs">Human</text>
<text x="1341.0" y="970.7" font-size="26.5" fill="#414042" font-weight="bold" text-anchor="middle" textLength="124.7" lengthAdjust="spacingAndGlyphs">Proteome</text>
<text x="1413.7" y="1026.3" font-size="23.5" fill="#939598" text-anchor="middle" font-family='"DejaVu Sans Condensed", "DejaVu Sans", sans-serif' stroke="#939598" stroke-width=".6">0</text>
<text x="1549.0" y="1026.3" font-size="23.5" fill="#939598" text-anchor="middle" font-family='"DejaVu Sans Condensed", "DejaVu Sans", sans-serif' stroke="#939598" stroke-width=".6">5000</text>
<text x="1685.3" y="1026.3" font-size="23.5" fill="#939598" text-anchor="middle" font-family='"DejaVu Sans Condensed", "DejaVu Sans", sans-serif' stroke="#939598" stroke-width=".6">10000</text>
<text x="1821.0" y="1026.3" font-size="23.5" fill="#939598" text-anchor="middle" font-family='"DejaVu Sans Condensed", "DejaVu Sans", sans-serif' stroke="#939598" stroke-width=".6">15000</text>
<text x="1956.6" y="1026.3" font-size="23.5" fill="#939598" text-anchor="middle" font-family='"DejaVu Sans Condensed", "DejaVu Sans", sans-serif' stroke="#939598" stroke-width=".6">20000</text>
<text x="1615.7" y="1053.8" font-size="26" fill="#a7a9ac" font-weight="bold" textLength="197.6" lengthAdjust="spacingAndGlyphs" dx="-1.30" font-family='"DejaVu Sans Condensed", "DejaVu Sans", sans-serif'>Uniprot Entries</text>
</g>
</svg></body></html>
